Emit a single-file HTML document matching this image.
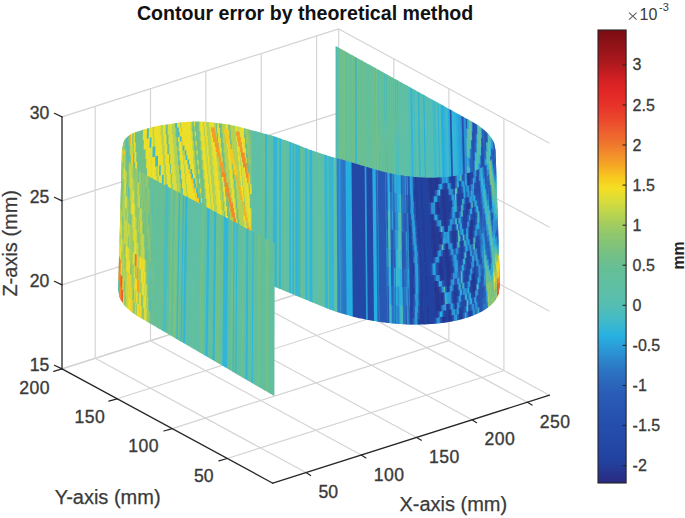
<!DOCTYPE html><html><head><meta charset="utf-8"><style>html,body{margin:0;padding:0;background:#fff;}svg{display:block}text{font-family:"Liberation Sans",sans-serif;}</style></head><body>
<svg width="685" height="518" viewBox="0 0 685 518">
<rect width="685" height="518" fill="#fff"/>
<g stroke="#d3d3d3" stroke-width="1.15">
<line x1="306.0" y1="472.6" x2="95.2" y2="358.3"/>
<line x1="361.3" y1="455.0" x2="150.5" y2="340.7"/>
<line x1="416.7" y1="437.4" x2="205.9" y2="323.1"/>
<line x1="472.0" y1="419.8" x2="261.2" y2="305.5"/>
<line x1="527.4" y1="402.2" x2="316.6" y2="287.9"/>
<line x1="227.2" y1="458.5" x2="503.9" y2="370.5"/>
<line x1="172.2" y1="428.6" x2="448.9" y2="340.6"/>
<line x1="117.1" y1="398.8" x2="393.8" y2="310.8"/>
<line x1="62.0" y1="368.9" x2="338.7" y2="280.9"/>
<line x1="95.2" y1="358.3" x2="95.2" y2="106.3"/>
<line x1="150.5" y1="340.7" x2="150.5" y2="88.7"/>
<line x1="205.9" y1="323.1" x2="205.9" y2="71.1"/>
<line x1="261.2" y1="305.5" x2="261.2" y2="53.5"/>
<line x1="316.6" y1="287.9" x2="316.6" y2="35.9"/>
<line x1="62.0" y1="368.9" x2="338.7" y2="280.9"/>
<line x1="62.0" y1="284.9" x2="338.7" y2="196.9"/>
<line x1="62.0" y1="200.9" x2="338.7" y2="112.9"/>
<line x1="62.0" y1="116.9" x2="338.7" y2="28.9"/>
<line x1="503.9" y1="370.5" x2="503.9" y2="118.5"/>
<line x1="448.9" y1="340.6" x2="448.9" y2="88.6"/>
<line x1="393.8" y1="310.8" x2="393.8" y2="58.8"/>
<line x1="338.7" y1="280.9" x2="338.7" y2="28.9"/>
<line x1="549.5" y1="395.2" x2="338.7" y2="280.9"/>
<line x1="549.5" y1="311.2" x2="338.7" y2="196.9"/>
<line x1="549.5" y1="227.2" x2="338.7" y2="112.9"/>
<line x1="549.5" y1="143.2" x2="338.7" y2="28.9"/>
</g>
<defs><filter id="bl" x="-2%" y="-2%" width="104%" height="104%"><feGaussianBlur stdDeviation="0.4"/></filter></defs>
<g filter="url(#bl)">
<g>
<path fill="#2859b4" d="M499.1 257.8L497.3 251.4L498.3 280.8L500.0 287.4zM497.8 218.4L496.1 212.2L497.0 241.9L498.7 248.3zM495.5 149.3L493.8 143.6L494.5 163.5L496.2 169.4zM495.1 190.1L493.4 188.1L493.7 198.2L495.4 200.1zM491.9 240.6L490.2 239.4L490.5 249.3L492.2 250.6zM491.3 221.2L489.6 220.0L489.9 230.0L491.6 231.2zM486.8 141.6L485.1 140.7L485.4 150.6L487.1 151.6zM482.1 146.9L480.4 146.1L480.7 156.0L482.4 156.8zM476.8 133.8L475.1 133.1L475.3 143.0L477.0 143.6zM476.0 245.7L474.3 245.0L474.6 254.6L476.3 255.2zM474.4 188.5L472.7 187.9L472.9 197.7L474.7 198.3z"/>
<path fill="#2c83cc" d="M498.7 248.0L497.0 241.6L497.3 251.7L499.1 258.1zM494.8 180.3L493.1 178.4L493.4 188.4L495.1 190.4zM496.3 256.3L494.6 254.6L494.9 264.6L496.6 266.4zM495.0 217.4L493.3 215.6L493.6 225.7L495.4 227.4zM491.1 155.9L489.4 154.6L489.7 164.6L491.5 165.9zM488.5 134.0L486.8 133.0L487.1 142.9L488.8 144.0zM486.0 243.9L484.3 243.0L484.6 252.9L486.3 253.8zM484.9 205.4L483.1 204.6L483.4 214.5L485.1 215.3zM478.3 219.1L476.6 218.4L476.8 228.3L478.6 229.0zM477.2 180.9L475.4 180.2L475.7 190.1L477.4 190.8zM475.9 170.7L474.2 170.1L474.4 179.9L476.1 180.5zM472.0 140.3L470.3 139.7L470.6 149.5L472.3 150.1zM467.7 128.5L466.0 127.9L466.3 137.7L468.0 138.3zM462.4 116.2L460.7 115.7L464.3 248.6L466.0 249.2z"/>
<path fill="#2c91d3" d="M497.5 208.5L495.7 202.4L496.1 212.5L497.8 218.7zM496.1 192.6L494.4 190.1L494.7 200.1L496.4 202.7zM491.8 147.5L490.1 146.1L490.4 156.2L492.1 157.6zM491.1 183.7L489.3 182.5L489.7 192.4L491.4 193.7zM491.2 249.0L489.4 247.9L489.7 257.9L491.5 259.0zM489.9 210.4L488.2 209.3L488.5 219.2L490.3 220.3zM487.8 236.2L486.1 235.2L486.4 245.1L488.1 246.1zM487.2 216.9L485.5 215.9L485.8 225.9L487.5 226.8zM485.4 159.0L483.7 158.2L484.0 168.1L485.7 169.0zM486.8 235.2L485.0 234.3L485.3 244.2L487.1 245.1zM486.2 215.9L484.4 215.0L484.7 225.0L486.5 225.9zM481.8 137.3L480.1 136.5L480.4 146.4L482.1 147.2zM480.9 174.2L479.2 173.4L479.5 183.3L481.2 184.1zM477.8 134.4L476.1 133.8L476.3 143.6L478.1 144.3zM470.8 167.7L469.1 167.1L469.4 176.9L471.1 177.5zM466.4 118.4L464.7 117.9L468.4 250.9L470.1 251.4zM465.4 117.9L463.7 117.3L467.4 250.3L469.1 250.9zM464.4 117.3L462.7 116.8L466.3 249.7L468.1 250.3zM461.4 115.7L459.7 115.1L463.2 248.0L465.0 248.6z"/>
<path fill="#4bbcbe" d="M497.1 198.6L495.4 192.6L495.7 202.7L497.5 208.8zM491.4 193.4L489.7 192.1L490.0 202.1L491.7 203.4zM490.4 192.1L488.6 191.0L488.9 201.0L490.7 202.1zM489.1 153.4L487.4 152.3L487.7 162.3L489.4 163.4zM487.7 170.6L486.0 169.6L486.6 189.2L488.3 190.2zM486.7 169.6L485.0 168.7L485.3 178.6L487.0 179.6zM479.9 173.4L478.2 172.7L478.5 182.6L480.2 183.3zM478.9 172.7L477.2 172.0L477.8 191.4L479.5 192.2zM478.3 153.6L476.6 152.9L476.9 162.8L478.6 163.4zM477.3 152.9L475.6 152.2L475.9 162.1L477.6 162.8zM476.2 217.8L474.5 217.1L474.8 226.9L476.5 227.6zM474.9 207.6L473.2 206.9L474.0 235.8L475.8 236.5zM471.0 139.7L469.3 139.1L469.6 148.9L471.3 149.5zM471.1 177.2L469.4 176.6L469.6 186.4L471.3 187.0zM469.5 120.1L467.8 119.5L468.0 129.4L469.7 129.9zM469.8 167.1L468.1 166.5L468.3 176.3L470.1 176.9zM468.2 147.5L466.5 146.9L466.8 156.7L468.5 157.3zM441.4 104.5L439.7 104.0L442.6 236.8L444.3 237.3zM430.3 98.4L428.6 97.9L431.3 230.6L433.0 231.2zM426.3 96.2L424.6 95.6L427.1 228.3L428.9 228.9zM415.3 90.1L413.6 89.5L415.8 222.2L417.5 222.7zM414.3 89.5L412.6 89.0L414.8 221.6L416.5 222.2z"/>
<path fill="#5bbfaa" d="M496.8 188.8L495.1 182.8L495.4 192.9L497.1 198.9zM493.2 251.6L491.5 250.3L491.8 260.2L493.5 261.6zM492.0 212.8L490.3 211.5L490.6 221.5L492.3 222.8zM490.1 154.6L488.4 153.4L488.7 163.4L490.4 164.6zM488.7 171.7L487.0 170.6L487.3 180.6L489.0 181.6zM484.3 251.7L482.5 250.9L482.8 260.5L484.6 261.3zM483.7 232.5L482.0 231.7L482.2 241.6L484.0 242.4zM483.1 213.3L481.4 212.5L481.7 222.4L483.4 223.2zM482.5 194.1L480.8 193.3L481.1 203.2L482.8 204.0zM482.9 241.3L481.2 240.5L481.5 250.4L483.2 251.2zM481.8 202.9L480.1 202.2L480.4 212.1L482.1 212.8zM480.1 145.4L478.4 144.7L478.6 154.6L480.4 155.3zM479.3 154.3L477.6 153.6L477.9 163.4L479.6 164.1zM478.8 135.1L477.1 134.4L477.4 144.3L479.1 145.0zM474.2 216.5L472.5 215.8L472.7 225.6L474.5 226.3zM471.9 243.1L470.2 242.5L470.5 252.0L472.2 252.6zM470.1 176.6L468.3 176.0L468.9 195.3L470.6 195.9zM425.3 95.6L423.6 95.1L426.1 227.8L427.8 228.3zM421.3 93.4L419.6 92.8L422.0 225.5L423.7 226.1zM420.3 92.8L418.6 92.3L420.9 225.0L422.7 225.5zM418.3 91.7L416.6 91.2L418.9 223.8L420.6 224.4zM417.3 91.2L415.6 90.6L417.9 223.3L419.6 223.8zM416.3 90.6L414.6 90.1L416.8 222.7L418.6 223.3zM413.3 89.0L411.6 88.4L413.7 221.0L415.5 221.6zM409.3 86.7L407.6 86.2L409.6 218.8L411.3 219.3zM408.3 86.2L406.6 85.6L408.6 218.2L410.3 218.8zM406.3 85.1L404.6 84.5L406.5 217.1L408.2 217.7zM405.3 84.5L403.6 83.9L405.5 216.5L407.2 217.1zM402.3 82.8L400.5 82.3L402.4 214.8L404.1 215.4zM401.2 82.3L399.5 81.7L401.4 214.3L403.1 214.8z"/>
<path fill="#41b9c9" d="M496.5 178.9L494.8 173.0L495.1 183.1L496.8 189.1zM495.8 182.8L494.1 180.3L494.4 190.4L496.1 192.9zM495.7 236.8L494.0 235.1L494.3 245.1L496.0 246.9zM495.0 244.8L493.2 243.3L493.5 253.3L495.3 254.9zM494.3 225.4L492.6 223.8L492.9 233.9L494.7 235.4zM491.5 137.8L489.8 136.4L490.1 146.4L491.8 147.8zM494.2 253.0L492.5 251.6L492.8 261.6L494.6 263.0zM493.0 214.1L491.3 212.8L491.6 222.8L493.3 224.1zM490.5 136.4L488.8 135.2L489.1 145.2L490.8 146.4zM492.5 259.9L490.8 258.7L491.1 268.4L492.8 269.6zM490.7 201.8L488.9 200.7L489.2 210.7L491.0 211.8zM487.8 142.6L486.1 141.6L486.4 151.6L488.1 152.6zM487.4 161.0L485.7 160.0L486.0 169.9L487.7 170.9zM485.4 224.7L483.7 223.8L484.0 233.7L485.7 234.6zM484.7 233.4L483.0 232.5L483.3 242.4L485.0 243.3zM484.1 214.2L482.4 213.3L482.7 223.2L484.4 224.1zM481.5 127.7L479.8 126.9L480.1 136.8L481.8 137.6zM481.1 146.1L479.4 145.4L479.7 155.3L481.4 156.0zM481.9 240.5L480.2 239.7L480.5 249.6L482.2 250.4zM480.8 202.2L479.1 201.4L479.3 211.3L481.1 212.1zM478.1 144.0L476.3 143.3L476.6 153.2L478.3 153.9zM476.9 171.3L475.2 170.7L475.4 180.5L477.2 181.2zM475.0 245.0L473.3 244.4L473.5 253.9L475.3 254.6zM473.4 187.9L471.7 187.3L471.9 197.1L473.6 197.7zM468.8 166.5L467.1 165.9L467.6 185.2L469.3 185.8zM468.0 138.0L466.3 137.4L466.5 147.2L468.2 147.8zM452.4 110.6L450.7 110.1L453.9 243.0L455.7 243.5zM448.4 108.4L446.7 107.9L449.8 240.7L451.6 241.3zM447.4 107.9L445.7 107.3L448.8 240.2L450.5 240.7zM446.4 107.3L444.7 106.8L447.8 239.6L449.5 240.2zM436.4 101.7L434.7 101.2L437.4 234.0L439.2 234.5zM435.4 101.2L433.6 100.6L436.4 233.4L438.1 234.0zM434.3 100.6L432.6 100.1L435.4 232.8L437.1 233.4zM433.3 100.1L431.6 99.5L434.4 232.3L436.1 232.8z"/>
<path fill="#2b6dbf" d="M496.2 169.1L494.5 163.2L494.8 173.3L496.5 179.2zM498.0 251.4L496.3 248.7L496.6 258.7L498.4 261.5zM497.4 231.8L495.7 229.1L496.0 239.2L497.7 241.9zM492.4 194.7L490.7 193.4L491.0 203.4L492.7 204.7zM487.5 133.0L485.8 132.0L486.1 141.9L487.8 142.9zM488.5 227.5L486.8 226.5L487.1 236.5L488.8 237.5zM481.4 155.7L479.7 155.0L479.9 164.9L481.7 165.6zM481.6 230.9L479.9 230.1L480.2 240.0L481.9 240.8zM481.1 211.8L479.3 211.0L479.6 220.9L481.3 221.6zM480.1 248.5L478.4 247.8L478.7 257.3L480.4 258.1zM478.5 191.1L476.7 190.5L477.0 200.3L478.7 201.0zM475.3 151.6L473.6 151.0L473.9 160.8L475.6 161.4zM472.7 131.3L471.0 130.7L471.3 140.6L473.0 141.1z"/>
<path fill="#2755b2" d="M498.4 261.2L496.6 258.4L497.3 278.0L499.0 280.8zM496.4 202.4L494.7 199.8L495.7 229.4L497.4 232.1zM494.5 143.6L492.8 141.2L493.8 170.8L495.5 173.3zM497.6 268.2L495.9 266.1L496.2 275.8L498.0 278.0zM495.4 199.8L493.7 197.9L494.3 217.7L496.1 219.7zM493.8 151.0L492.1 149.1L493.1 178.7L494.8 180.6zM492.1 157.3L490.4 155.9L490.8 165.9L492.5 167.3zM487.1 244.8L485.3 243.9L485.6 253.8L487.4 254.8zM485.9 206.3L484.2 205.4L484.4 215.3L486.2 216.2zM477.5 124.8L475.8 124.2L476.1 134.1L477.8 134.7zM478.7 200.7L477.0 200.0L478.4 248.1L480.1 248.8zM476.5 124.2L474.8 123.6L475.1 133.4L476.8 134.1zM478.6 228.7L476.8 228.0L477.7 256.6L479.4 257.3zM477.4 190.5L475.7 189.8L476.6 218.7L478.3 219.4zM475.5 123.6L473.8 123.0L474.3 142.3L476.0 143.0zM474.9 170.1L473.1 169.4L473.4 179.3L475.1 179.9z"/>
<path fill="#31b5d8" d="M497.7 241.6L496.0 238.9L496.3 249.0L498.0 251.7zM496.0 246.6L494.3 244.8L494.6 254.9L496.3 256.6zM495.4 227.1L493.6 225.4L494.0 235.4L495.7 237.1zM495.3 254.6L493.5 253.0L493.9 263.0L495.6 264.6zM494.0 215.6L492.3 214.1L492.6 224.1L494.3 225.7zM493.9 243.3L492.2 241.9L492.5 251.9L494.2 253.3zM493.3 223.8L491.6 222.5L491.9 232.5L493.6 233.9zM490.8 146.1L489.1 144.9L489.4 154.9L491.1 156.2zM492.9 241.9L491.2 240.6L491.5 250.6L493.2 251.9zM492.3 222.5L490.6 221.2L490.9 231.2L492.6 232.5zM489.4 163.1L487.7 162.0L488.0 172.0L489.7 173.1zM488.8 143.7L487.1 142.6L487.4 152.6L489.1 153.7zM487.0 179.3L485.3 178.3L485.6 188.3L487.3 189.2zM486.5 225.6L484.7 224.7L485.0 234.6L486.8 235.5zM485.7 234.3L484.0 233.4L484.3 243.3L486.0 244.2zM485.1 215.0L483.4 214.2L483.7 224.1L485.4 225.0zM485.0 243.0L483.3 242.1L483.6 252.0L485.3 252.9zM483.8 204.6L482.1 203.7L482.4 213.6L484.1 214.5zM482.7 231.7L480.9 230.9L481.2 240.8L482.9 241.6zM482.1 212.5L480.4 211.8L480.6 221.6L482.4 222.4zM480.4 155.0L478.6 154.3L478.9 164.1L480.6 164.9zM478.6 163.1L476.9 162.5L477.2 172.3L478.9 173.0zM478.2 181.6L476.5 180.9L476.7 190.8L478.5 191.4zM476.3 152.2L474.6 151.6L474.9 161.4L476.6 162.1zM475.6 161.1L473.9 160.5L474.2 170.4L475.9 171.0zM472.5 121.8L470.8 121.2L471.0 131.0L472.7 131.6zM473.2 215.8L471.4 215.2L471.7 225.0L473.4 225.6zM472.1 177.8L470.4 177.2L470.6 187.0L472.4 187.6zM471.6 233.6L469.9 233.0L470.2 242.8L471.9 243.4zM470.6 195.6L468.9 195.0L469.1 204.8L470.9 205.4zM456.4 112.9L454.7 112.3L458.1 245.2L459.8 245.8zM455.4 112.3L453.7 111.8L457.0 244.7L458.8 245.2zM454.4 111.8L452.7 111.2L456.0 244.1L457.7 244.7zM453.4 111.2L451.7 110.6L455.0 243.5L456.7 244.1zM445.4 106.8L443.7 106.2L446.7 239.0L448.5 239.6zM444.4 106.2L442.7 105.6L445.7 238.5L447.4 239.0zM439.4 103.4L437.7 102.9L440.5 235.7L442.3 236.2zM438.4 102.9L436.7 102.3L439.5 235.1L441.2 235.7zM419.3 92.3L417.6 91.7L419.9 224.4L421.6 225.0zM412.3 88.4L410.6 87.8L412.7 220.5L414.4 221.0zM411.3 87.8L409.6 87.3L411.7 219.9L413.4 220.5zM398.2 80.6L396.5 80.1L398.3 212.6L400.0 213.2zM396.2 79.5L394.5 78.9L396.2 211.5L397.9 212.0zM387.2 74.5L385.5 73.9L386.9 206.4L388.6 207.0zM385.2 73.4L383.5 72.8L384.9 205.3L386.6 205.8zM379.2 70.0L377.5 69.5L378.7 201.9L380.4 202.5zM376.2 68.4L374.5 67.8L375.6 200.2L377.3 200.8zM357.1 57.8L355.4 57.2L356.0 189.5L357.7 190.1zM356.1 57.2L354.4 56.7L354.9 189.0L356.7 189.5zM337.1 46.7L335.6 46.2L335.6 178.4L337.1 178.9z"/>
<path fill="#2c76c4" d="M495.5 173.0L493.8 170.5L494.1 180.6L495.8 183.1zM493.5 141.2L491.8 139.4L492.1 149.4L493.8 151.3zM495.6 264.3L493.9 262.7L494.2 272.4L495.9 274.0zM493.7 205.9L492.0 204.4L492.3 214.4L494.0 215.9zM493.6 233.6L491.9 232.2L492.2 242.2L493.9 243.6zM489.7 172.8L488.0 171.7L488.3 181.6L490.0 182.8zM487.3 188.9L485.6 188.0L485.9 197.9L487.6 198.9zM485.3 252.6L483.6 251.7L483.9 261.3L485.6 262.2zM483.5 194.9L481.8 194.1L482.1 204.0L483.8 204.9zM474.6 160.5L472.9 159.9L473.1 169.7L474.9 170.4zM473.5 122.4L471.8 121.8L472.0 131.6L473.7 132.2zM471.3 149.2L469.6 148.6L469.8 158.5L471.5 159.0z"/>
<path fill="#2a5cb7" d="M497.3 258.4L495.6 256.3L495.9 266.4L497.6 268.5zM496.1 219.4L494.3 217.4L494.7 227.4L496.4 229.4zM492.8 149.1L491.1 147.5L491.4 157.6L493.2 159.2zM492.6 232.2L490.9 230.9L491.2 240.9L492.9 242.2zM490.8 174.0L489.0 172.8L489.3 182.8L491.1 184.0zM486.1 150.3L484.4 149.4L484.7 159.3L486.4 160.3zM482.8 138.1L481.1 137.3L481.4 147.2L483.1 148.0zM480.6 164.6L478.9 163.8L479.2 173.7L480.9 174.5zM481.3 221.3L479.6 220.6L479.9 230.4L481.6 231.2zM480.9 239.7L479.2 239.0L479.4 248.8L481.2 249.6zM479.8 201.4L478.0 200.7L478.3 210.6L480.0 211.3zM476.8 236.8L475.1 236.2L475.3 246.0L477.1 246.7zM475.7 198.7L474.0 198.0L474.2 207.9L476.0 208.5zM472.1 215.2L470.4 214.6L470.7 224.4L472.4 225.0zM470.5 158.2L468.8 157.6L469.1 167.4L470.8 168.0zM471.1 214.6L469.4 214.0L469.7 223.8L471.4 224.4zM470.6 233.0L468.9 232.4L469.2 242.2L470.9 242.8zM469.6 195.0L467.8 194.4L468.1 204.2L469.8 204.8z"/>
<path fill="#27aee0" d="M497.0 248.7L495.3 246.6L495.6 256.6L497.3 258.7zM496.4 229.1L494.7 227.1L495.0 237.1L496.7 239.2zM494.7 235.1L492.9 233.6L493.2 243.6L495.0 245.1zM494.6 262.7L492.8 261.3L493.1 271.0L494.9 272.4zM492.7 204.4L491.0 203.1L491.3 213.1L493.0 214.4zM490.4 164.3L488.7 163.1L489.0 173.1L490.8 174.3zM490.0 182.5L488.3 181.3L488.6 191.3L490.4 192.4zM488.3 189.9L486.6 188.9L486.9 198.9L488.6 199.9zM486.0 178.3L484.3 177.4L484.6 187.4L486.3 188.3zM484.4 223.8L482.7 222.9L483.0 232.8L484.7 233.7zM483.4 222.9L481.7 222.1L482.0 232.0L483.7 232.8zM482.2 184.5L480.5 183.8L480.8 193.6L482.5 194.4zM479.6 163.8L477.9 163.1L478.2 173.0L479.9 173.7zM478.5 125.5L476.8 124.8L477.1 134.7L478.8 135.4zM481.2 249.3L479.4 248.5L479.7 258.1L481.5 258.9zM479.5 191.9L477.8 191.1L478.0 201.0L479.8 201.7zM477.3 218.4L475.5 217.8L475.8 227.6L477.5 228.3zM476.5 227.3L474.8 226.6L475.1 236.5L476.8 237.1zM476.0 208.2L474.2 207.6L474.5 217.4L476.2 218.1zM472.4 224.7L470.7 224.1L470.9 233.9L472.7 234.5zM471.9 205.7L470.2 205.1L470.4 214.9L472.1 215.5zM470.3 148.6L468.6 148.1L468.8 157.9L470.5 158.5zM468.5 157.0L466.8 156.4L467.1 166.2L468.8 166.8zM458.4 114.0L456.7 113.4L460.1 246.3L461.9 246.9zM457.4 113.4L455.7 112.9L459.1 245.8L460.8 246.3zM450.4 109.5L448.7 109.0L451.9 241.8L453.6 242.4zM449.4 109.0L447.7 108.4L450.9 241.3L452.6 241.8zM443.4 105.6L441.7 105.1L444.7 237.9L446.4 238.5zM442.4 105.1L440.7 104.5L443.6 237.3L445.4 237.9zM424.3 95.1L422.6 94.5L425.1 227.2L426.8 227.8z"/>
<path fill="#54beb3" d="M496.7 238.9L495.0 236.8L495.3 246.9L497.0 249.0zM489.5 135.2L487.8 134.0L488.1 144.0L489.8 145.2zM491.5 258.7L489.7 257.6L490.0 267.2L491.8 268.4zM489.6 200.7L487.9 199.6L488.2 209.6L489.9 210.7zM487.5 226.5L485.8 225.6L486.1 235.5L487.8 236.5zM485.7 168.7L484.0 167.8L484.3 177.7L486.0 178.6zM481.2 183.8L479.5 183.0L479.8 192.9L481.5 193.6zM479.5 126.2L477.8 125.5L478.1 135.4L479.8 136.1zM477.6 162.5L475.9 161.8L476.5 181.2L478.2 181.9zM476.6 161.8L474.9 161.1L475.2 171.0L476.9 171.6zM471.7 130.7L470.0 130.2L470.3 140.0L472.0 140.6zM472.7 234.2L470.9 233.6L471.2 243.4L472.9 244.1zM471.6 196.2L469.9 195.6L470.2 205.4L471.9 206.0zM470.0 139.1L468.3 138.6L468.6 148.4L470.3 148.9zM469.3 148.1L467.5 147.5L467.8 157.3L469.5 157.9zM468.7 129.1L467.0 128.5L467.3 138.3L469.0 138.9zM440.4 104.0L438.7 103.4L441.6 236.2L443.3 236.8zM437.4 102.3L435.7 101.7L438.5 234.5L440.2 235.1zM432.3 99.5L430.6 99.0L433.3 231.7L435.1 232.3zM431.3 99.0L429.6 98.4L432.3 231.2L434.0 231.7zM429.3 97.9L427.6 97.3L430.2 230.0L432.0 230.6zM428.3 97.3L426.6 96.7L429.2 229.5L430.9 230.0zM427.3 96.7L425.6 96.2L428.2 228.9L429.9 229.5zM423.3 94.5L421.6 94.0L424.0 226.7L425.8 227.2zM422.3 94.0L420.6 93.4L423.0 226.1L424.7 226.7zM410.3 87.3L408.6 86.7L410.6 219.3L412.4 219.9z"/>
<path fill="#2651af" d="M496.6 266.1L494.9 264.3L495.2 274.0L496.9 275.8zM494.7 207.6L493.0 205.9L493.3 215.9L495.0 217.7zM491.5 165.6L489.7 164.3L490.1 174.3L491.8 175.6zM491.6 230.9L489.9 229.7L490.2 239.7L491.9 240.9zM488.9 209.3L487.2 208.2L488.7 256.8L490.4 257.9zM486.5 132.0L484.8 131.0L485.1 141.0L486.8 141.9zM488.8 237.2L487.1 236.2L488.0 265.1L489.7 266.1zM487.6 198.6L485.9 197.6L486.8 226.8L488.5 227.8zM485.5 131.0L483.8 130.1L484.4 149.7L486.1 150.6zM486.3 253.5L484.6 252.6L484.9 262.2L486.6 263.1zM484.6 195.8L482.8 194.9L483.1 204.9L484.9 205.7zM480.0 211.0L478.3 210.3L479.2 239.3L480.9 240.0zM477.8 237.5L476.1 236.8L476.6 255.9L478.4 256.6zM476.1 180.2L474.4 179.6L475.3 208.5L477.0 209.2zM474.5 123.0L472.8 122.4L473.6 151.3L475.3 151.9zM477.1 246.4L475.3 245.7L475.6 255.2L477.3 255.9zM475.1 179.6L473.4 179.0L474.0 198.3L475.7 199.0zM473.7 131.9L472.0 131.3L472.9 160.2L474.6 160.8zM473.0 140.8L471.3 140.3L472.7 188.2L474.4 188.8zM469.8 204.5L468.1 203.9L468.9 232.7L470.6 233.3zM467.5 119.0L465.7 118.4L466.0 128.2L467.7 128.8z"/>
<path fill="#254eac" d="M493.2 158.9L491.4 157.3L493.0 206.2L494.7 207.9zM492.5 167.0L490.8 165.6L492.0 204.7L493.7 206.2zM491.8 175.3L490.1 174.0L490.7 193.7L492.4 195.0zM487.4 254.5L485.6 253.5L485.9 263.1L487.7 264.1zM485.0 177.4L483.3 176.6L484.2 205.7L485.9 206.6zM483.8 138.9L482.1 138.1L483.0 167.2L484.7 168.1zM483.1 147.7L481.4 146.9L482.8 195.2L484.6 196.1zM482.4 156.5L480.7 155.7L481.8 194.4L483.5 195.2zM463.4 116.8L461.7 116.2L465.3 249.2L467.0 249.7zM451.4 110.1L449.7 109.5L452.9 242.4L454.6 243.0z"/>
<path fill="#2a9fda" d="M492.5 139.4L490.8 137.8L491.1 147.8L492.8 149.4zM492.2 250.3L490.5 249.0L490.8 259.0L492.5 260.2zM491.0 211.5L489.2 210.4L489.6 220.3L491.3 221.5zM487.1 151.3L485.4 150.3L485.7 160.3L487.4 161.3zM486.4 160.0L484.7 159.0L485.0 169.0L486.7 169.9zM482.5 128.5L480.8 127.7L481.1 137.6L482.8 138.4zM477.0 143.3L475.3 142.7L475.6 152.5L477.3 153.2zM475.8 236.2L474.0 235.5L474.3 245.3L476.0 246.0zM474.7 198.0L472.9 197.4L473.2 207.2L474.9 207.9zM469.5 157.6L467.8 157.0L468.1 166.8L469.8 167.4zM468.5 119.5L466.8 119.0L467.0 128.8L468.7 129.4zM470.9 242.5L469.2 241.9L469.4 251.4L471.2 252.0zM469.3 185.5L467.6 184.9L467.8 194.7L469.6 195.3zM460.4 115.1L458.7 114.5L462.2 247.5L463.9 248.0zM459.4 114.5L457.7 114.0L461.2 246.9L462.9 247.5z"/>
<path fill="#5ebfa5" d="M493.5 261.3L491.8 259.9L492.1 269.6L493.8 271.0zM491.7 203.1L490.0 201.8L490.3 211.8L492.0 213.1zM489.8 144.9L488.1 143.7L488.4 153.7L490.1 154.9zM488.1 152.3L486.4 151.3L486.7 161.3L488.4 162.3zM480.5 126.9L478.8 126.2L479.4 145.7L481.1 146.4zM483.2 250.9L481.5 250.1L481.8 259.7L483.5 260.5zM481.5 193.3L479.8 192.6L480.1 202.5L481.8 203.2zM479.8 135.8L478.1 135.1L478.4 145.0L480.1 145.7zM482.2 250.1L480.5 249.3L480.8 258.9L482.5 259.7zM480.2 183.0L478.5 182.3L479.1 201.7L480.8 202.5zM479.1 144.7L477.4 144.0L477.6 153.9L479.3 154.6zM474.7 235.5L473.0 234.9L473.3 244.7L475.0 245.3zM473.6 197.4L471.9 196.8L472.2 206.6L473.9 207.2zM474.0 244.4L472.2 243.8L472.5 253.3L474.2 253.9zM473.4 225.3L471.7 224.7L472.0 234.5L473.7 235.2zM472.9 206.3L471.2 205.7L471.4 215.5L473.2 216.1zM472.4 187.3L470.6 186.7L470.9 196.5L472.6 197.1zM470.7 130.2L469.0 129.6L469.3 139.4L471.0 140.0zM472.9 243.8L471.2 243.1L471.5 252.6L473.2 253.3zM471.3 186.7L469.6 186.1L469.9 195.9L471.6 196.5zM469.7 129.6L468.0 129.1L468.3 138.9L470.0 139.4zM469.0 138.6L467.3 138.0L467.5 147.8L469.3 148.4zM407.3 85.6L405.6 85.1L407.5 217.7L409.3 218.2zM400.2 81.7L398.5 81.2L400.3 213.7L402.1 214.3zM399.2 81.2L397.5 80.6L399.3 213.2L401.0 213.7z"/>
<path fill="#2a64bb" d="M490.3 220.0L488.5 218.9L489.4 248.2L491.2 249.3zM490.4 257.6L488.7 256.5L489.0 266.1L490.7 267.2zM488.6 199.6L486.9 198.6L487.2 208.5L488.9 209.6zM488.1 245.8L486.4 244.8L487.0 264.1L488.7 265.1zM486.3 188.0L484.6 187.1L485.5 216.2L487.2 217.2zM484.5 130.1L482.8 129.3L483.7 158.5L485.4 159.3zM484.7 167.8L483.0 166.9L483.3 176.9L485.0 177.7zM483.5 129.3L481.8 128.5L482.1 138.4L483.8 139.2zM481.7 165.3L479.9 164.6L480.5 184.1L482.2 184.8zM482.4 222.1L480.6 221.3L480.9 231.2L482.7 232.0zM476.0 142.7L474.3 142.0L474.6 151.9L476.3 152.5zM477.5 228.0L475.8 227.3L476.1 237.1L477.8 237.8zM477.0 208.9L475.3 208.2L475.5 218.1L477.3 218.7zM472.3 149.8L470.6 149.2L471.7 187.6L473.4 188.2zM471.5 158.7L469.8 158.2L470.4 177.5L472.1 178.1zM471.4 224.1L469.7 223.5L469.9 233.3L471.6 233.9zM470.9 205.1L469.1 204.5L469.4 214.3L471.1 214.9z"/>
<path fill="#60bfa0" d="M489.0 181.3L487.3 180.3L487.9 199.9L489.6 201.0zM488.4 162.0L486.7 161.0L487.0 170.9L488.7 172.0zM484.0 242.1L482.2 241.3L482.5 251.2L484.3 252.0zM482.8 203.7L481.1 202.9L481.4 212.8L483.1 213.6zM474.5 226.0L472.7 225.3L473.0 235.2L474.7 235.8zM473.9 206.9L472.2 206.3L472.5 216.1L474.2 216.8zM471.5 121.2L469.8 120.7L470.0 130.5L471.7 131.0zM473.7 234.9L472.0 234.2L472.2 244.1L474.0 244.7zM472.6 196.8L470.9 196.2L471.2 206.0L472.9 206.6zM470.5 120.7L468.8 120.1L469.0 129.9L470.7 130.5zM404.3 83.9L402.6 83.4L404.4 216.0L406.2 216.5zM403.3 83.4L401.6 82.8L403.4 215.4L405.1 216.0zM395.2 78.9L393.5 78.4L395.2 210.9L396.9 211.5zM394.2 78.4L392.5 77.8L394.1 210.3L395.9 210.9zM392.2 77.3L390.5 76.7L392.1 209.2L393.8 209.8zM382.2 71.7L380.5 71.2L381.8 203.6L383.5 204.2zM381.2 71.2L379.5 70.6L380.7 203.0L382.5 203.6zM374.2 67.3L372.5 66.7L373.5 199.1L375.2 199.7zM373.2 66.7L371.5 66.1L372.5 198.5L374.2 199.1zM369.2 64.5L367.4 63.9L368.4 196.3L370.1 196.9zM367.1 63.4L365.4 62.8L366.3 195.2L368.0 195.7zM361.1 60.0L359.4 59.5L360.1 191.8L361.8 192.4zM352.1 55.0L350.4 54.5L350.8 186.7L352.6 187.3zM351.1 54.5L349.4 53.9L349.8 186.2L351.5 186.7zM347.1 52.2L345.4 51.7L345.7 183.9L347.4 184.5zM340.1 48.3L338.4 47.8L338.4 180.0L340.2 180.5zM339.1 47.8L337.4 47.2L337.4 179.4L339.1 180.0z"/>
<path fill="#63bf9a" d="M397.2 80.1L395.5 79.5L397.2 212.0L399.0 212.6zM393.2 77.8L391.5 77.3L393.1 209.8L394.8 210.3zM391.2 76.7L389.5 76.2L391.0 208.7L392.8 209.2zM390.2 76.2L388.5 75.6L390.0 208.1L391.7 208.7zM389.2 75.6L387.5 75.0L389.0 207.5L390.7 208.1zM388.2 75.0L386.5 74.5L387.9 207.0L389.7 207.5zM384.2 72.8L382.5 72.3L383.8 204.7L385.6 205.3zM383.2 72.3L381.5 71.7L382.8 204.2L384.5 204.7zM371.2 65.6L369.5 65.0L370.4 197.4L372.1 198.0zM370.2 65.0L368.5 64.5L369.4 196.9L371.1 197.4zM368.1 63.9L366.4 63.4L367.3 195.7L369.1 196.3zM362.1 60.6L360.4 60.0L361.1 192.4L362.9 192.9zM350.1 53.9L348.4 53.4L348.8 185.6L350.5 186.2zM348.1 52.8L346.4 52.2L346.7 184.5L348.4 185.0zM338.1 47.2L336.4 46.7L336.4 178.9L338.1 179.4z"/>
<path fill="#69bf92" d="M386.2 73.9L384.5 73.4L385.9 205.8L387.6 206.4zM380.2 70.6L378.5 70.0L379.7 202.5L381.4 203.0zM372.2 66.1L370.5 65.6L371.4 198.0L373.2 198.5zM366.1 62.8L364.4 62.3L365.3 194.6L367.0 195.2zM365.1 62.3L363.4 61.7L364.2 194.0L366.0 194.6zM364.1 61.7L362.4 61.1L363.2 193.5L364.9 194.0zM363.1 61.1L361.4 60.6L362.2 192.9L363.9 193.5zM359.1 58.9L357.4 58.4L358.0 190.7L359.8 191.2zM358.1 58.4L356.4 57.8L357.0 190.1L358.7 190.7zM355.1 56.7L353.4 56.1L353.9 188.4L355.6 189.0zM354.1 56.1L352.4 55.6L352.9 187.9L354.6 188.4zM346.1 51.7L344.4 51.1L344.6 183.4L346.4 183.9zM343.1 50.0L341.4 49.5L341.5 181.7L343.3 182.2z"/>
<path fill="#71c089" d="M378.2 69.5L376.5 68.9L377.6 201.3L379.4 201.9zM377.2 68.9L375.5 68.4L376.6 200.8L378.3 201.3zM375.2 67.8L373.5 67.3L374.5 199.7L376.3 200.2zM360.1 59.5L358.4 58.9L359.1 191.2L360.8 191.8zM353.1 55.6L351.4 55.0L351.9 187.3L353.6 187.9zM349.1 53.4L347.4 52.8L347.7 185.0L349.5 185.6zM345.1 51.1L343.4 50.6L343.6 182.8L345.3 183.4zM344.1 50.6L342.4 50.0L342.6 182.2L344.3 182.8zM342.1 49.5L340.4 48.9L340.5 181.1L342.2 181.7zM341.1 48.9L339.4 48.3L339.5 180.5L341.2 181.1z"/>
</g>
<g>
<path fill="#5ebfa5" d="M118.4 280.9L120.1 275.4L119.8 285.7L118.1 291.2zM122.6 191.5L124.4 190.0L124.1 200.5L122.4 202.1zM125.0 139.0L126.7 137.9L126.5 148.3L124.8 149.5zM127.8 146.2L129.5 145.5L129.2 155.9L127.5 156.7zM127.7 186.1L129.4 185.3L129.1 195.8L127.4 196.5zM130.5 194.2L132.2 193.6L131.9 204.0L130.2 204.6zM175.1 127.9L176.8 127.7L176.6 137.4L174.9 137.5zM176.1 123.0L177.8 122.9L177.4 146.6L175.7 146.7zM177.0 132.3L178.7 132.1L178.2 155.9L176.5 156.0zM177.8 141.5L179.5 141.4L179.1 165.2L177.3 165.3zM178.6 150.8L180.3 150.7L179.9 174.5L178.2 174.5zM179.5 160.1L181.2 160.0L180.7 183.8L179.0 183.8zM180.3 169.4L182.0 169.3L181.6 193.1L179.9 193.2zM181.1 178.7L182.8 178.6L182.4 202.5L180.7 202.5zM182.0 188.0L183.7 188.0L183.3 211.9L181.5 211.9zM182.8 197.4L184.5 197.4L184.1 221.3L182.4 221.3zM183.7 206.8L185.4 206.8L185.0 230.7L183.2 230.7zM184.5 216.2L186.2 216.2L185.8 240.1L184.1 240.1zM185.4 225.7L187.1 225.7L186.7 249.6L184.9 249.6zM186.2 235.1L187.9 235.2L187.6 254.4L185.9 254.3zM186.8 258.8L188.6 258.8L188.5 263.5L186.8 263.5zM187.1 244.6L188.8 244.6L188.6 254.4L186.9 254.4zM187.9 254.1L189.7 254.1L189.6 259.2L187.9 259.1zM237.3 126.6L239.0 126.8L238.9 132.0L237.2 131.7zM239.1 146.4L240.8 146.7L240.7 156.7L239.0 156.4zM240.0 156.4L241.7 156.7L241.7 166.7L239.9 166.4zM241.0 166.4L242.7 166.6L242.6 176.6L240.9 176.4zM241.9 176.3L243.6 176.6L243.5 186.6L241.8 186.3zM242.8 186.3L244.5 186.6L244.4 196.7L242.7 196.3zM243.7 196.4L245.5 196.7L245.4 206.7L243.7 206.4zM245.6 221.3L247.3 221.6L247.3 226.8L245.5 226.5zM246.6 226.5L248.3 226.9L248.2 236.9L246.5 236.6zM247.5 236.6L249.2 237.0L249.2 247.0L247.4 246.7zM248.5 246.7L250.2 247.1L250.1 257.2L248.4 256.8zM249.4 261.8L251.1 262.2L251.1 267.4L249.3 267.0zM251.3 130.2L253.0 130.5L252.0 277.3L250.3 276.9zM252.3 130.5L254.0 130.7L253.0 277.7L251.3 277.3zM253.3 130.7L255.0 131.0L254.1 278.1L252.3 277.7zM254.3 131.0L256.0 131.3L255.1 278.5L253.4 278.1zM256.3 131.5L258.0 131.8L257.1 279.4L255.4 279.0zM257.3 131.8L259.0 132.1L258.2 279.8L256.4 279.4zM258.3 132.1L260.0 132.3L259.2 280.2L257.5 279.8zM259.3 132.3L261.0 132.6L260.2 280.7L258.5 280.2zM260.3 132.6L262.0 132.9L261.2 281.1L259.5 280.7zM261.3 132.9L263.0 133.2L262.3 281.5L260.5 281.1zM264.3 133.7L266.0 134.0L265.3 282.8L263.6 282.3zM266.3 134.2L268.0 134.5L267.4 283.6L265.7 283.2zM267.3 134.5L269.0 134.8L268.4 284.0L266.7 283.6zM268.3 134.8L270.0 135.1L269.4 284.5L267.7 284.0zM269.3 135.1L271.1 135.3L270.5 284.9L268.7 284.5zM270.4 135.3L272.1 135.6L271.5 285.3L269.8 284.9zM276.4 137.3L278.1 137.6L277.6 287.8L275.9 287.4zM277.4 137.6L279.1 138.0L278.7 288.3L276.9 287.8zM280.4 138.7L282.1 139.0L281.7 289.5L280.0 289.1zM281.4 139.0L283.1 139.4L282.8 290.0L281.0 289.5zM282.4 139.4L284.1 139.7L283.8 290.4L282.1 290.0zM283.4 139.7L285.1 140.1L284.8 290.8L283.1 290.4zM286.4 140.8L288.1 141.1L287.9 292.1L286.2 291.7zM287.4 141.1L289.1 141.4L288.9 292.5L287.2 292.1zM288.4 141.4L290.1 141.8L289.9 292.9L288.2 292.5zM290.4 142.2L292.1 142.6L292.0 293.8L290.3 293.3zM291.4 142.6L293.1 143.0L293.0 294.2L291.3 293.8zM299.4 145.8L301.1 146.2L301.2 297.6L299.5 297.2zM300.4 146.2L302.1 146.6L302.2 298.0L300.5 297.6zM304.4 147.8L306.1 148.2L306.3 299.7L304.6 299.3zM306.4 148.6L308.1 149.0L308.4 300.5L306.7 300.1zM312.4 150.8L314.1 151.1L314.5 303.1L312.8 302.7zM313.4 151.1L315.1 151.5L315.6 303.5L313.8 303.1zM316.5 152.1L318.2 152.5L318.6 304.8L316.9 304.3zM317.5 152.5L319.2 152.8L319.7 305.2L317.9 304.8zM326.5 155.4L328.2 155.8L328.9 308.9L327.2 308.5zM327.5 155.8L329.2 156.1L329.9 309.3L328.2 308.9zM334.5 157.8L336.2 158.0L337.1 311.9L335.4 311.5zM335.5 158.0L337.2 158.3L338.1 312.2L336.4 311.9zM338.5 158.8L340.2 159.1L341.2 313.2L339.5 312.9zM484.6 261.5L486.3 260.9L486.5 267.0L484.8 267.7zM485.6 260.9L487.3 260.1L487.5 266.3L485.8 267.0zM488.0 271.1L489.7 270.3L489.9 276.4L488.2 277.3zM492.6 284.9L494.4 283.7L494.5 289.8L492.8 291.0zM492.7 254.5L494.5 253.2L494.6 259.3L492.9 260.6zM490.7 190.3L492.4 189.1L492.6 195.3L490.9 196.5zM491.2 171.7L492.9 170.3L493.1 176.4L491.4 177.8zM494.6 245.9L496.3 244.1L496.5 250.2L494.8 252.0zM492.9 193.6L494.6 191.8L494.8 198.0L493.1 199.7zM494.3 203.5L496.0 201.1L496.2 207.2L494.5 209.6zM493.8 186.0L495.5 183.8L495.7 189.9L493.9 192.1zM497.0 253.2L498.7 247.3L498.9 253.3L497.2 259.3z"/>
<path fill="#5bbfaa" d="M118.7 270.7L120.4 265.2L120.1 275.7L118.4 281.2zM121.2 178.5L122.9 173.1L122.6 183.7L120.9 189.0zM119.4 275.4L121.1 273.3L120.8 283.5L119.1 285.7zM121.9 183.4L123.6 181.3L123.3 191.8L121.6 193.9zM125.8 148.0L127.5 147.1L127.2 157.5L125.5 158.5zM126.5 157.2L128.2 156.4L127.9 166.8L126.2 167.7zM127.0 136.9L128.7 136.0L128.5 146.5L126.8 147.4zM129.0 175.2L130.7 174.6L130.4 185.0L128.7 185.6zM129.7 184.7L131.4 184.1L131.2 194.5L129.4 195.1zM255.3 131.3L257.0 131.5L256.1 279.0L254.4 278.5zM271.4 135.6L273.1 135.9L272.5 285.7L270.8 285.3zM272.4 135.9L274.1 136.3L273.5 286.2L271.8 285.7zM278.4 138.0L280.1 138.3L279.7 288.7L278.0 288.3zM285.4 140.4L287.1 140.8L286.9 291.7L285.1 291.2zM293.4 143.4L295.1 143.8L295.1 295.0L293.3 294.6zM294.4 143.8L296.1 144.2L296.1 295.5L294.4 295.0zM297.4 145.0L299.1 145.4L299.2 296.7L297.4 296.3zM302.4 147.0L304.1 147.4L304.3 298.8L302.6 298.4zM303.4 147.4L305.1 147.8L305.3 299.3L303.6 298.8zM307.4 149.0L309.1 149.4L309.4 301.0L307.7 300.5zM308.4 149.4L310.1 149.8L310.4 301.4L308.7 301.0zM311.4 150.5L313.1 150.8L313.5 302.7L311.8 302.2zM314.4 151.5L316.1 151.8L316.6 303.9L314.9 303.5zM315.4 151.8L317.2 152.1L317.6 304.3L315.9 303.9zM319.5 153.1L321.2 153.5L321.7 306.0L320.0 305.6zM320.5 153.5L322.2 153.8L322.7 306.5L321.0 306.0zM321.5 153.8L323.2 154.1L323.8 306.9L322.0 306.5zM322.5 154.1L324.2 154.5L324.8 307.3L323.1 306.9zM323.5 154.5L325.2 154.8L325.8 307.7L324.1 307.3zM329.5 156.4L331.2 156.7L332.0 310.1L330.2 309.7zM332.5 157.2L334.2 157.5L335.0 311.2L333.3 310.8zM333.5 157.5L335.2 157.8L336.1 311.5L334.3 311.2zM387.4 229.0L389.1 229.2L389.3 248.3L387.6 248.1zM388.4 229.2L390.1 229.4L390.4 248.5L388.6 248.3zM389.1 210.6L390.8 210.8L391.1 229.9L389.4 229.7zM397.5 230.7L399.2 230.8L399.8 268.4L398.0 268.3zM398.5 230.8L400.2 230.9L400.5 249.9L398.8 249.7zM399.2 212.3L400.9 212.4L401.5 250.0L399.8 249.9zM401.7 305.5L403.4 305.6L403.7 324.2L402.0 324.2zM400.2 212.4L401.9 212.6L402.2 231.5L400.5 231.3zM475.9 284.1L477.7 283.7L477.8 289.9L476.1 290.4zM477.0 283.7L478.7 283.2L478.9 289.4L477.1 289.9zM483.7 196.2L485.4 195.5L485.6 201.7L483.9 202.4zM487.4 217.5L489.1 216.7L489.3 222.8L487.6 223.7zM488.8 228.4L490.5 227.5L490.7 233.6L489.0 234.5zM488.3 210.8L490.0 209.9L490.1 216.1L488.4 217.0zM491.4 280.1L493.2 279.0L493.3 285.2L491.6 286.3zM492.3 273.2L494.0 272.0L494.4 284.0L492.6 285.2zM492.6 248.7L494.3 247.4L494.5 253.5L492.7 254.8zM493.8 253.2L495.5 251.7L495.7 257.8L493.9 259.3zM492.4 176.1L494.1 174.4L494.3 180.5L492.6 182.2zM495.1 195.4L496.8 189.7L497.2 201.5L495.5 207.2z"/>
<path fill="#60bfa0" d="M118.9 260.4L120.7 255.0L120.4 265.5L118.7 271.0zM121.5 168.2L123.2 162.9L122.9 173.4L121.2 178.8zM123.4 200.2L125.1 199.0L124.8 209.5L123.1 210.7zM127.0 176.7L128.7 175.9L128.4 186.4L126.7 187.2zM128.5 155.6L130.2 154.9L129.9 165.4L128.2 166.1zM249.4 256.9L251.1 257.3L251.1 262.5L249.4 262.1zM485.1 279.2L486.9 278.5L487.2 290.6L485.5 291.3zM484.8 267.4L486.5 266.7L486.7 272.9L485.0 273.6zM487.0 271.9L488.7 271.1L488.9 277.3L487.2 278.1zM489.6 221.6L491.3 220.6L491.5 226.8L489.8 227.8zM489.4 179.7L491.1 178.7L491.3 184.8L489.5 185.9zM493.9 259.0L495.7 257.5L495.8 263.6L494.1 265.2zM491.9 195.0L493.6 193.6L493.8 199.7L492.1 201.1zM491.4 177.5L493.1 176.1L493.3 182.2L491.6 183.6zM492.6 181.9L494.3 180.2L494.6 192.1L492.9 193.9zM493.9 191.8L495.7 189.6L496.0 201.4L494.3 203.8zM495.5 206.9L497.2 201.2L497.4 207.3L495.7 213.0z"/>
<path fill="#c5d748" d="M119.2 250.2L120.9 244.7L120.7 255.3L118.9 260.7zM120.3 209.2L122.1 203.8L121.8 214.3L120.1 219.8zM120.8 224.3L122.5 222.2L122.2 232.7L120.5 234.8zM123.5 160.9L125.2 159.4L124.9 169.9L123.2 171.4zM124.2 169.6L125.9 168.4L125.6 178.9L123.9 180.1zM124.9 178.6L126.6 177.6L126.4 188.1L124.7 189.1zM125.7 187.8L127.4 186.9L127.1 197.3L125.4 198.2zM126.1 207.2L127.9 206.4L127.6 216.8L125.9 217.7zM126.9 216.5L128.6 215.7L128.3 226.2L126.6 227.0zM127.4 196.2L129.1 195.5L128.9 205.9L127.2 206.7zM129.0 135.3L130.7 134.6L130.5 145.1L128.8 145.8zM127.6 225.9L129.3 225.2L128.5 255.8L126.8 256.6zM128.4 235.3L130.1 234.6L129.6 255.2L127.8 255.8zM249.8 208.1L251.5 208.4L251.4 213.6L249.7 213.3zM493.7 283.7L495.4 282.3L495.7 294.3L494.0 295.6zM495.7 280.8L497.4 278.9L497.6 285.0L495.9 286.9zM496.2 261.5L497.9 259.0L498.1 265.1L496.4 267.6z"/>
<path fill="#f6d822" d="M119.5 239.9L121.2 234.5L120.9 245.0L119.2 250.5zM120.7 263.1L122.4 261.5L122.1 272.0L120.4 273.6zM125.2 168.4L126.9 167.4L126.6 177.9L124.9 178.9zM123.5 269.2L125.2 268.2L124.9 278.3L123.2 279.4zM178.1 127.4L179.8 127.3L179.7 132.3L178.0 132.4zM179.1 127.3L180.8 127.2L180.6 136.9L178.9 137.0zM180.1 127.2L181.8 127.0L181.6 136.7L179.9 136.9zM181.0 131.7L182.7 131.6L182.5 141.3L180.8 141.5zM181.9 136.3L183.6 136.2L183.4 146.0L181.7 146.1zM182.8 140.9L184.5 140.9L184.4 145.9L182.7 146.0zM183.8 140.9L185.5 140.8L185.3 155.2L183.6 155.3zM184.7 145.5L186.5 145.5L186.4 150.5L184.7 150.5zM185.7 150.2L187.4 150.1L187.3 155.2L185.6 155.2zM186.6 154.9L188.3 154.8L188.1 164.6L186.4 164.6zM187.4 164.3L189.1 164.3L189.1 169.3L187.4 169.3zM188.5 159.5L190.2 159.5L190.2 164.6L188.4 164.6zM189.5 164.3L191.2 164.3L191.1 169.3L189.4 169.3zM248.9 183.3L250.6 183.7L250.6 188.8L248.9 188.5zM497.4 264.8L499.1 258.8L499.5 270.6L497.7 276.7z"/>
<path fill="#f6b122" d="M119.8 229.7L121.5 224.3L121.2 234.8L119.5 240.2zM120.5 234.5L122.2 232.4L122.0 242.9L120.2 245.0zM123.0 142.4L124.7 140.4L124.5 151.0L122.8 153.0zM121.3 242.6L123.0 241.0L122.7 251.5L121.0 253.1zM121.7 261.5L123.4 260.1L123.2 270.6L121.4 272.0zM122.5 270.3L124.2 269.2L123.9 279.4L122.2 280.5zM130.0 134.6L131.7 134.1L131.5 144.5L129.8 145.1zM130.8 144.2L132.5 143.6L132.2 154.0L130.5 154.6zM200.8 216.9L202.5 217.0L202.4 222.0L200.7 221.9zM201.8 217.0L203.5 217.0L203.4 226.9L201.7 226.8zM202.8 217.0L204.5 217.1L204.4 227.0L202.7 226.9zM203.8 221.9L205.5 222.0L205.4 231.8L203.6 231.7zM204.7 226.8L206.4 226.9L206.3 236.7L204.6 236.6zM205.7 231.7L207.4 231.8L207.3 241.6L205.5 241.5zM206.7 231.8L208.4 231.9L208.2 246.5L206.5 246.4zM207.6 236.7L209.4 236.8L209.2 246.7L207.5 246.5zM208.6 241.6L210.3 241.7L210.2 251.6L208.5 251.4zM209.6 246.5L211.3 246.7L211.2 256.5L209.4 256.4zM210.5 251.4L212.2 251.6L212.1 261.5L210.4 261.3zM211.5 251.6L213.3 251.8L213.1 266.1L211.3 265.9zM212.5 256.5L214.2 256.7L214.1 266.3L212.4 266.1zM213.5 261.5L215.2 261.7L215.1 266.5L213.4 266.3zM234.8 174.4L236.5 174.6L236.5 179.8L234.8 179.5zM235.8 174.6L237.5 174.9L237.5 180.1L235.8 179.8zM236.8 174.9L238.5 175.2L238.5 185.2L236.7 184.9zM237.8 180.0L239.5 180.3L239.4 190.3L237.7 190.0zM238.8 185.2L240.5 185.5L240.4 195.4L238.7 195.1zM239.8 185.5L241.5 185.7L241.4 200.6L239.7 200.3zM240.7 190.6L242.5 190.9L242.4 200.9L240.7 200.6zM241.7 195.7L243.4 196.0L243.4 206.1L241.6 205.7zM242.7 200.9L244.4 201.2L244.3 211.2L242.6 210.9zM243.7 206.1L245.4 206.4L245.3 216.4L243.6 216.1zM244.7 206.4L246.4 206.7L246.3 221.6L244.6 221.3zM245.7 211.6L247.4 211.9L247.3 221.9L245.6 221.6zM246.6 216.8L248.4 217.1L248.3 227.2L246.6 226.8zM247.0 168.1L248.7 168.4L248.7 173.6L247.0 173.3zM247.6 222.0L249.3 222.4L249.3 227.5L247.6 227.2zM247.9 178.1L249.7 178.5L249.6 183.6L247.9 183.3zM248.6 227.2L250.3 227.6L250.3 232.8L248.6 232.4zM249.6 232.5L251.3 232.9L251.2 242.9L249.5 242.5z"/>
<path fill="#d8dc3c" d="M120.1 219.5L121.8 214.0L121.5 224.6L119.8 230.0zM126.7 186.9L128.4 186.1L128.1 196.5L126.4 197.3zM129.8 144.8L131.5 144.2L131.2 154.6L129.5 155.2zM127.8 255.5L129.6 254.9L129.3 265.3L127.6 266.0zM130.5 154.3L132.2 153.7L132.0 164.2L130.2 164.7zM128.9 254.9L130.6 254.2L130.3 264.6L128.6 265.3zM131.8 143.6L133.5 143.2L133.2 153.6L131.5 154.0zM167.1 124.4L168.8 124.3L168.6 134.6L166.9 134.7zM168.1 124.3L169.8 124.2L169.4 144.5L167.7 144.6zM169.1 124.2L170.8 124.1L170.2 154.3L168.5 154.5zM170.1 124.1L171.8 123.9L171.0 164.2L169.3 164.3zM171.1 123.9L172.8 123.7L171.8 174.0L170.1 174.2zM171.9 133.7L173.6 133.5L172.6 183.9L170.9 184.0zM172.7 143.5L174.4 143.4L173.5 193.8L171.7 193.9zM173.6 153.4L175.3 153.3L174.3 203.7L172.6 203.8zM174.3 165.3L176.0 165.2L175.1 212.3L173.4 212.4zM175.2 174.6L176.9 174.4L176.1 216.9L174.3 217.0zM175.3 221.3L177.0 221.3L176.8 230.9L175.1 231.0zM176.0 183.8L177.7 183.7L177.1 216.9L175.4 216.9zM176.2 225.9L177.9 225.9L177.6 240.3L175.9 240.3zM176.8 193.1L178.5 193.0L178.0 221.5L176.3 221.6zM177.1 230.6L178.8 230.5L178.5 249.6L176.8 249.7zM177.7 202.4L179.4 202.3L178.9 226.1L177.2 226.2zM178.1 230.5L179.9 230.5L179.3 259.0L177.6 259.0zM178.5 211.7L180.2 211.7L179.9 226.1L178.2 226.1zM179.1 235.2L180.8 235.2L180.3 263.4L178.6 263.4zM179.3 221.1L181.1 221.0L180.9 230.8L179.2 230.8zM180.0 239.9L181.7 239.9L181.3 263.4L179.6 263.4zM180.2 230.5L181.9 230.4L181.8 235.4L180.1 235.5zM181.0 239.9L182.8 239.8L182.3 263.4L180.6 263.4zM181.9 249.3L183.6 249.3L183.4 263.4L181.6 263.4zM182.7 258.7L184.5 258.7L184.4 263.4L182.7 263.4zM193.2 121.6L194.9 121.6L194.8 126.7L193.1 126.7zM194.2 121.6L195.9 121.6L195.7 136.1L194.0 136.1zM195.0 131.1L196.7 131.1L196.5 145.6L194.8 145.6zM195.9 140.6L197.6 140.6L197.4 155.1L195.7 155.1zM196.7 150.1L198.5 150.1L198.2 164.7L196.5 164.6zM197.6 159.6L199.3 159.7L199.1 174.2L197.4 174.2zM198.5 169.2L200.2 169.2L200.0 183.8L198.2 183.7zM199.3 178.7L201.0 178.8L200.8 193.3L199.1 193.3zM200.2 188.3L201.9 188.3L201.7 202.9L200.0 202.8zM201.1 197.8L202.8 197.9L202.6 212.5L200.9 212.4zM202.7 226.6L204.4 226.7L204.3 231.7L202.6 231.6zM203.6 231.4L205.4 231.5L205.2 241.4L203.5 241.3zM204.6 236.3L206.3 236.4L206.1 251.0L204.4 250.9zM205.5 246.0L207.2 246.1L207.0 260.7L205.3 260.6zM206.4 255.6L208.1 255.8L207.9 265.3L206.2 265.2zM208.2 122.1L209.9 122.2L209.9 127.2L208.2 127.2zM209.2 122.2L210.9 122.3L210.7 136.9L209.0 136.8zM210.2 127.0L211.9 127.1L211.6 146.5L209.9 146.4zM211.0 136.7L212.7 136.8L212.5 156.2L210.8 156.1zM211.9 146.3L213.6 146.5L213.4 165.9L211.7 165.7zM212.8 156.0L214.5 156.1L214.2 175.6L212.5 175.4zM213.7 165.7L215.4 165.8L215.1 185.3L213.4 185.1zM214.6 175.4L216.3 175.5L216.0 195.0L214.3 194.8zM215.4 185.1L217.2 185.3L216.9 204.7L215.2 204.6zM216.3 194.8L218.1 195.0L217.8 214.5L216.1 214.3zM217.2 204.6L219.0 204.7L218.7 224.2L217.0 224.0zM218.1 214.3L219.9 214.5L219.6 234.0L217.9 233.8zM219.0 224.1L220.8 224.3L220.5 243.8L218.8 243.6zM219.9 233.9L221.7 234.1L221.4 253.6L219.7 253.4zM220.9 243.7L222.6 243.9L222.4 263.4L220.6 263.2zM221.8 253.5L223.5 253.7L223.3 268.1L221.6 267.9zM222.7 263.3L224.4 263.5L224.3 268.4L222.6 268.1zM226.3 124.3L228.0 124.5L227.9 129.6L226.2 129.4zM227.3 124.5L229.0 124.6L228.9 134.6L227.2 134.4zM228.2 129.5L229.9 129.6L229.8 139.6L228.1 139.4zM229.0 153.7L230.7 153.9L230.6 159.0L228.9 158.8zM229.1 139.3L230.8 139.5L230.8 144.6L229.1 144.4zM229.9 158.7L231.6 159.0L231.5 168.9L229.8 168.7zM230.9 163.8L232.6 164.0L232.4 178.8L230.7 178.5zM231.8 168.8L233.5 169.1L233.4 188.7L231.6 188.4zM232.7 178.7L234.5 178.9L234.3 198.6L232.6 198.3zM233.7 188.6L235.4 188.9L235.2 208.5L233.5 208.2zM234.6 198.5L236.3 198.8L236.1 218.5L234.4 218.2zM235.5 208.5L237.2 208.8L237.1 223.6L235.4 223.3zM236.4 218.4L238.2 218.7L238.1 223.9L236.4 223.6zM237.3 238.1L239.0 238.4L238.9 248.4L237.2 248.1zM238.3 126.8L240.0 127.1L239.9 132.2L238.2 132.0zM238.3 243.3L240.0 243.6L239.8 258.4L238.1 258.1zM239.3 127.1L241.0 127.3L240.9 137.3L239.2 137.1zM239.2 248.4L241.0 248.7L240.8 268.4L239.1 268.1zM240.1 151.6L241.8 151.8L241.7 157.0L240.0 156.7zM240.2 132.2L241.9 132.4L241.9 142.4L240.2 142.2zM240.2 258.4L241.9 258.8L241.8 273.3L240.0 273.0zM241.0 156.7L242.7 156.9L242.7 166.9L241.0 166.7zM241.2 142.1L242.9 142.4L242.8 147.6L241.1 147.3zM241.1 268.5L242.8 268.8L242.8 273.7L241.1 273.3zM242.0 161.8L243.7 162.1L243.6 176.9L241.9 176.6zM243.0 166.9L244.7 167.2L244.5 186.9L242.8 186.6zM243.9 172.1L245.7 172.4L245.5 197.0L243.7 196.7zM244.9 182.1L246.6 182.4L246.4 207.0L244.7 206.7zM245.8 192.1L247.5 192.4L247.4 212.2L245.7 211.9zM246.7 202.2L248.5 202.5L248.4 217.4L246.6 217.1zM247.5 231.7L249.3 232.1L249.2 237.3L247.5 236.9zM247.7 212.3L249.4 212.6L249.3 222.7L247.6 222.3zM247.9 187.9L249.6 188.2L249.5 193.4L247.8 193.1zM248.5 237.0L250.2 237.4L250.2 247.4L248.5 247.0zM248.6 222.4L250.3 222.7L250.3 227.9L248.6 227.5zM248.8 198.0L250.5 198.3L250.5 208.4L248.7 208.0zM249.5 242.2L251.2 242.6L251.1 257.6L249.4 257.2zM249.7 213.0L251.4 213.3L251.3 228.3L249.6 227.9zM249.9 183.7L251.6 184.0L251.6 189.2L249.9 188.8zM493.1 266.2L494.8 264.9L495.0 271.0L493.3 272.3zM495.0 294.0L496.8 292.4L497.0 298.2L495.2 299.8zM495.1 263.3L496.9 261.5L497.1 267.6L495.3 269.4zM497.2 259.0L498.9 253.0L499.1 259.1L497.4 265.1z"/>
<path fill="#b2d254" d="M120.6 199.0L122.3 193.6L122.1 204.1L120.3 209.5zM121.1 214.0L122.8 212.0L122.5 222.5L120.8 224.6zM122.8 152.7L124.5 150.7L124.2 161.2L122.5 163.2zM121.5 232.4L123.2 230.8L123.0 241.3L121.3 242.9zM124.7 188.8L126.4 187.8L126.1 198.2L124.4 199.3zM125.4 197.9L127.1 197.0L126.8 207.5L125.1 208.4zM126.4 197.0L128.1 196.2L127.9 206.7L126.1 207.5zM126.6 226.7L128.3 225.9L127.8 246.5L126.1 247.3zM127.2 206.4L128.9 205.6L128.6 216.0L126.9 216.8zM128.2 205.6L129.9 204.9L129.6 215.4L127.9 216.0zM127.6 265.7L129.3 265.0L129.0 275.1L127.3 275.8zM129.1 244.7L130.9 244.1L130.6 254.5L128.9 255.2zM134.1 132.6L135.8 132.2L135.5 142.6L133.8 143.0zM134.8 142.3L136.5 141.9L136.2 152.3L134.5 152.7zM135.5 152.0L137.2 151.6L137.0 162.0L135.3 162.3zM136.3 161.7L138.0 161.3L137.7 171.7L136.0 172.0zM137.0 171.4L138.8 171.0L138.5 181.4L136.8 181.7zM137.8 181.1L139.5 180.7L139.3 191.0L137.5 191.4zM138.6 190.7L140.3 190.3L140.0 200.6L138.3 201.0zM139.3 200.3L141.0 199.9L140.8 210.2L139.1 210.6zM140.8 219.5L142.6 219.2L142.3 229.5L140.6 229.8zM141.6 229.2L143.3 228.9L143.1 239.1L141.4 239.5zM142.6 228.9L144.4 228.5L144.1 238.8L142.4 239.1zM143.4 238.5L145.1 238.2L144.9 248.5L143.2 248.8zM144.2 248.2L145.9 247.9L145.7 258.2L144.0 258.5zM145.0 257.9L146.7 257.6L146.5 267.6L144.7 267.9zM148.1 128.2L149.8 127.9L149.6 138.2L147.8 138.4zM148.9 137.9L150.6 137.6L150.3 147.9L148.6 148.2zM149.6 147.6L151.3 147.3L151.1 157.6L149.4 157.9zM150.4 157.3L152.1 157.1L151.9 167.3L150.2 167.6zM151.2 167.0L152.9 166.8L152.6 177.1L150.9 177.3zM152.1 127.1L153.8 126.9L153.6 137.2L151.9 137.4zM151.9 176.8L153.7 176.5L153.4 186.8L151.7 187.0zM153.1 126.9L154.8 126.6L154.3 146.9L152.6 147.1zM152.7 186.5L154.4 186.3L154.2 196.6L152.5 196.8zM153.9 136.6L155.6 136.4L155.3 146.7L153.6 146.9zM153.7 186.3L155.4 186.1L155.0 206.3L153.3 206.5zM154.6 146.4L156.4 146.2L155.9 166.4L154.2 166.6zM154.5 196.0L156.2 195.8L155.8 216.1L154.1 216.3zM155.2 166.1L156.9 165.9L156.7 176.2L155.0 176.4zM155.3 205.8L157.0 205.6L156.8 215.9L155.1 216.1zM156.2 165.9L157.9 165.7L157.5 186.0L155.8 186.2zM156.1 215.6L157.8 215.4L157.6 225.7L155.9 225.9zM157.2 165.7L158.9 165.5L158.3 195.8L156.5 196.0zM156.9 225.4L158.6 225.2L158.4 235.5L156.7 235.7zM158.0 175.5L159.7 175.3L159.3 195.6L157.6 195.8zM157.7 235.2L159.4 235.1L159.2 245.3L157.5 245.5zM158.8 185.3L160.5 185.2L160.1 205.4L158.4 205.6zM160.1 125.4L161.8 125.3L161.6 135.5L159.9 135.7zM158.5 245.0L160.2 244.9L160.0 255.2L158.3 255.3zM159.6 195.1L161.3 195.0L160.9 215.2L159.1 215.4zM161.1 125.3L162.8 125.1L162.4 145.4L160.7 145.5zM159.3 254.9L161.0 254.7L160.8 264.7L159.1 264.8zM160.4 205.0L162.1 204.8L161.7 225.1L159.9 225.2zM162.1 125.1L163.8 125.0L163.2 155.2L161.5 155.4zM161.2 214.8L162.9 214.7L162.5 234.9L160.8 235.1zM162.9 134.9L164.6 134.8L164.0 165.0L162.3 165.2zM162.0 224.6L163.7 224.5L163.3 244.8L161.6 244.9zM163.7 144.8L165.4 144.6L164.8 174.9L163.1 175.0zM162.8 234.5L164.5 234.4L164.1 254.6L162.4 254.8zM164.5 154.6L166.2 154.5L165.6 184.8L163.9 184.9zM163.6 244.4L165.3 244.2L164.9 264.2L163.2 264.3zM165.3 164.5L167.0 164.4L166.6 184.6L164.9 184.8zM164.4 254.2L166.1 254.1L165.9 264.1L164.2 264.2zM165.7 194.3L167.4 194.2L167.2 204.5L165.5 204.6zM166.1 174.4L167.8 174.2L167.6 184.5L165.9 184.6zM166.9 184.2L168.6 184.1L168.0 214.4L166.3 214.5zM167.5 204.1L169.2 204.0L168.8 224.3L167.1 224.4zM168.5 204.0L170.2 203.9L169.6 234.2L167.9 234.3zM169.3 213.9L171.0 213.7L170.4 244.1L168.7 244.2zM170.3 213.7L172.1 213.6L171.3 254.0L169.5 254.1zM172.1 123.7L173.8 123.5L173.6 133.8L171.9 134.0zM171.2 223.7L172.9 223.6L172.1 263.6L170.4 263.7zM173.1 123.5L174.8 123.3L174.4 143.7L172.7 143.8zM172.0 233.6L173.7 233.5L173.1 263.6L171.4 263.6zM174.1 123.3L175.8 123.2L175.3 153.6L173.6 153.7zM172.8 244.9L174.5 244.8L174.1 263.5L172.4 263.6zM174.9 137.2L176.6 137.1L176.0 165.5L174.3 165.6zM173.6 254.2L175.3 254.1L175.2 263.5L173.4 263.5zM175.7 146.4L177.4 146.3L176.9 174.7L175.2 174.9zM176.5 155.7L178.2 155.6L177.7 184.0L176.0 184.1zM177.3 165.0L179.1 164.9L178.5 193.3L176.8 193.4zM178.2 174.2L179.9 174.2L179.4 202.6L177.7 202.7zM179.2 122.6L180.9 122.5L180.8 127.5L179.1 127.6zM179.0 183.5L180.7 183.5L180.2 212.0L178.5 212.0zM180.2 122.5L181.9 122.3L181.8 127.3L180.1 127.5zM179.9 192.9L181.6 192.8L181.1 221.3L179.3 221.4zM180.8 141.2L182.5 141.0L182.4 146.1L180.7 146.2zM181.1 127.0L182.8 126.9L182.7 131.9L181.0 132.0zM180.7 202.2L182.4 202.2L181.9 230.7L180.2 230.8zM181.7 145.8L183.4 145.7L183.3 155.4L181.6 155.5zM181.5 211.6L183.3 211.6L182.8 235.4L181.1 235.4zM182.7 150.4L184.4 150.3L184.1 164.7L182.4 164.8zM182.0 244.5L183.7 244.5L183.6 249.6L181.9 249.6zM182.4 221.0L184.1 221.0L183.8 240.1L182.1 240.1zM183.6 155.0L185.3 154.9L184.9 174.1L183.2 174.1zM182.9 249.3L184.6 249.3L184.5 259.0L182.7 259.0zM183.2 230.4L185.0 230.4L184.7 244.9L183.0 244.8zM184.4 164.4L186.1 164.3L185.8 183.5L184.1 183.5zM183.9 249.3L185.6 249.3L185.4 263.4L183.7 263.4zM184.1 239.8L185.8 239.8L185.7 244.9L184.0 244.9zM185.3 173.8L187.0 173.7L186.6 192.9L184.9 192.9zM184.9 254.0L186.6 254.0L186.4 263.5L184.7 263.4zM186.1 183.2L187.8 183.2L187.5 202.4L185.8 202.4zM185.8 258.8L187.5 258.8L187.5 263.5L185.7 263.5zM187.0 192.6L188.7 192.6L188.3 211.8L186.6 211.8zM187.8 202.1L189.5 202.1L189.2 221.3L187.5 221.3zM188.7 211.5L190.4 211.6L190.1 230.8L188.3 230.7zM190.2 121.7L191.9 121.7L191.7 131.4L190.0 131.5zM189.5 221.0L191.2 221.0L190.9 240.3L189.2 240.2zM191.2 121.7L192.9 121.7L192.6 140.9L190.9 140.9zM190.4 230.5L192.1 230.5L191.8 249.8L190.1 249.7zM192.0 131.1L193.7 131.1L193.4 150.4L191.7 150.4zM191.2 240.0L193.0 240.1L192.7 259.3L190.9 259.3zM192.9 140.6L194.6 140.6L194.2 164.6L192.5 164.6zM192.1 249.5L193.8 249.6L193.6 263.8L191.9 263.8zM193.7 150.1L195.4 150.1L195.0 174.1L193.3 174.0zM193.0 259.1L194.7 259.1L194.6 263.9L192.9 263.8zM194.6 159.5L196.3 159.6L195.9 183.6L194.2 183.5zM195.4 169.1L197.1 169.1L196.8 188.4L195.1 188.3zM196.3 178.6L198.0 178.6L197.9 188.4L196.1 188.4zM196.9 207.1L198.6 207.1L198.5 212.2L196.8 212.1zM197.2 188.1L198.9 188.2L198.8 193.2L197.1 193.1zM198.2 121.6L199.9 121.7L199.8 131.5L198.0 131.4zM197.8 211.9L199.5 212.0L199.4 221.8L197.7 221.7zM199.2 121.7L200.9 121.7L200.6 141.0L198.9 141.0zM198.8 212.0L200.5 212.0L200.3 231.4L198.5 231.3zM200.1 131.2L201.8 131.2L201.5 150.5L199.8 150.5zM199.8 216.8L201.5 216.9L201.1 241.0L199.4 240.9zM200.9 140.7L202.6 140.8L202.3 160.1L200.6 160.0zM200.6 226.4L202.4 226.5L202.0 250.6L200.3 250.5zM201.8 150.3L203.5 150.3L203.2 169.7L201.5 169.6zM202.2 121.7L203.9 121.8L203.8 126.8L202.1 126.8zM201.5 236.0L203.2 236.1L202.9 260.2L201.2 260.1zM202.6 159.9L204.4 159.9L204.1 179.3L202.4 179.2zM203.2 121.8L204.9 121.8L204.7 136.4L203.0 136.4zM202.4 245.6L204.1 245.7L203.9 264.8L202.1 264.7zM203.5 169.4L205.2 169.5L204.9 188.9L203.2 188.8zM204.1 126.6L205.8 126.6L205.6 146.0L203.9 145.9zM203.3 255.3L205.0 255.4L204.9 264.9L203.2 264.8zM204.4 179.0L206.1 179.1L205.8 198.5L204.1 198.4zM205.0 136.2L206.7 136.2L206.4 155.6L204.7 155.5zM205.2 121.9L206.9 121.9L206.8 127.0L205.1 126.9zM205.3 188.7L207.0 188.8L206.7 208.1L205.0 208.0zM205.9 145.8L207.6 145.9L207.3 165.2L205.6 165.1zM206.2 121.9L207.9 122.0L207.7 136.6L206.0 136.5zM206.1 198.3L207.9 198.4L207.6 217.8L205.9 217.7zM206.7 155.4L208.5 155.5L208.2 174.9L206.5 174.8zM207.2 122.0L208.9 122.1L208.6 146.2L206.9 146.2zM207.0 207.9L208.7 208.1L208.5 227.4L206.8 227.3zM207.6 165.0L209.3 165.1L209.1 184.5L207.4 184.4zM208.2 126.9L209.9 126.9L209.5 155.9L207.8 155.8zM207.7 231.9L209.4 232.0L209.4 237.1L207.6 237.0zM207.9 217.6L209.6 217.7L209.5 227.6L207.8 227.4zM208.5 174.7L210.2 174.8L209.9 194.2L208.2 194.0zM209.0 136.5L210.7 136.6L210.3 165.5L208.6 165.4zM208.7 236.8L210.4 237.0L210.3 242.0L208.6 241.9zM208.8 227.3L210.5 227.4L210.4 232.5L208.7 232.3zM209.4 184.3L211.1 184.4L210.8 203.8L209.1 203.7zM209.9 146.1L211.6 146.2L211.2 175.2L209.5 175.1zM209.7 237.0L211.4 237.1L211.3 247.0L209.6 246.8zM210.3 194.0L212.0 194.1L211.7 213.5L210.0 213.4zM210.8 155.8L212.5 155.9L212.1 184.9L210.4 184.7zM210.4 261.0L212.1 261.2L212.0 265.9L210.3 265.8zM210.6 246.7L212.3 246.8L212.2 251.9L210.5 251.7zM211.1 203.7L212.9 203.8L212.6 223.2L210.9 223.1zM211.7 165.4L213.4 165.6L213.0 194.5L211.3 194.4zM212.0 213.4L213.8 213.5L213.5 232.9L211.8 232.8zM212.5 175.1L214.2 175.3L213.9 204.2L212.2 204.1zM213.2 122.6L214.9 122.7L214.9 127.7L213.2 127.6zM212.9 223.1L214.6 223.2L214.4 242.7L212.7 242.5zM213.4 184.8L215.1 185.0L214.8 214.0L213.1 213.8zM214.2 122.7L215.9 122.8L215.8 132.6L214.1 132.5zM213.8 232.8L215.5 233.0L215.4 247.6L213.6 247.4zM214.3 194.5L216.0 194.7L215.7 223.7L213.9 223.5zM214.9 146.7L216.6 146.8L216.6 151.9L214.9 151.8zM215.2 122.8L216.9 122.9L216.8 137.6L215.0 137.4zM214.7 242.5L216.4 242.7L216.2 262.2L214.5 262.0zM215.2 204.3L216.9 204.4L216.6 233.4L214.8 233.3zM215.9 151.6L217.6 151.7L217.5 161.6L215.8 161.5zM216.1 132.5L217.8 132.6L217.7 142.5L216.0 142.3zM215.6 252.3L217.3 252.5L217.2 266.8L215.4 266.6zM216.1 214.0L217.8 214.2L217.5 243.2L215.7 243.0zM216.8 156.5L218.5 156.7L218.3 171.3L216.6 171.2zM216.5 262.1L218.3 262.2L218.2 267.0L216.5 266.8zM217.0 223.7L218.7 223.9L218.4 253.0L216.6 252.8zM217.8 156.7L219.5 156.8L219.2 181.1L217.5 180.9zM217.9 233.5L219.6 233.7L219.3 262.7L217.6 262.5zM218.8 161.6L220.5 161.8L220.1 190.8L218.4 190.7zM218.8 243.3L220.5 243.5L220.3 263.0L218.6 262.7zM219.7 171.4L221.4 171.5L221.0 200.6L219.3 200.4zM219.7 253.1L221.4 253.3L221.3 267.7L219.5 267.5zM220.6 181.1L222.3 181.3L221.9 210.4L220.2 210.2zM221.2 123.5L222.9 123.7L222.8 133.6L221.1 133.4zM220.6 262.9L222.4 263.1L222.3 267.9L220.6 267.7zM221.5 190.9L223.2 191.1L222.8 220.2L221.1 220.0zM222.2 123.7L223.9 123.8L223.7 143.3L222.0 143.2zM222.4 200.7L224.1 200.9L223.8 230.0L222.0 229.8zM223.2 123.8L225.0 124.0L224.6 153.1L222.9 152.9zM223.3 210.5L225.0 210.7L224.7 239.8L222.9 239.6zM224.1 133.6L225.8 133.8L225.5 162.9L223.8 162.7zM224.3 124.0L226.0 124.1L225.9 129.2L224.2 129.1zM224.2 220.3L225.9 220.5L225.6 249.7L223.9 249.4zM225.1 138.6L226.8 138.7L226.4 172.7L224.7 172.5zM225.1 230.1L226.8 230.3L226.5 259.5L224.8 259.3zM226.0 143.5L227.7 143.7L227.3 182.5L225.6 182.3zM226.0 240.0L227.7 240.2L227.4 269.1L225.7 268.8zM227.0 148.5L228.7 148.7L228.3 182.7L226.6 182.5zM226.9 249.8L228.6 250.1L228.4 269.3L226.7 269.1zM227.5 196.9L229.2 197.1L229.2 202.2L227.4 202.0zM227.9 158.3L229.6 158.5L229.3 187.7L227.6 187.5zM227.8 259.7L229.6 260.0L229.5 269.6L227.7 269.3zM228.5 201.9L230.2 202.1L230.1 212.1L228.4 211.8zM228.8 168.2L230.5 168.4L230.3 192.8L228.6 192.6zM229.3 124.8L231.0 125.0L230.9 130.1L229.2 129.9zM229.4 206.9L231.1 207.2L231.0 222.0L229.3 221.7zM229.7 178.0L231.4 178.2L231.2 197.8L229.5 197.6zM230.3 125.0L232.0 125.2L231.8 140.0L230.1 139.8zM230.4 212.0L232.1 212.3L231.9 231.9L230.2 231.6zM230.6 187.9L232.3 188.1L232.2 202.9L230.5 202.7zM231.3 125.2L233.0 125.4L232.7 149.8L231.0 149.6zM231.4 217.1L233.1 217.3L232.8 241.8L231.1 241.5zM231.5 197.8L233.3 198.0L233.2 203.1L231.5 202.9zM232.3 125.4L234.0 125.6L233.7 154.9L232.0 154.6zM232.4 217.3L234.1 217.6L233.8 251.7L232.0 251.4zM233.3 125.6L235.0 125.8L234.6 159.9L232.9 159.7zM233.3 222.4L235.1 222.7L234.7 261.7L233.0 261.4zM233.8 174.1L235.5 174.4L235.5 179.5L233.8 179.2zM234.3 125.8L236.0 126.0L235.6 165.0L233.9 164.8zM234.3 227.5L236.0 227.8L235.6 271.3L233.9 271.0zM234.8 179.2L236.5 179.5L236.4 189.4L234.7 189.2zM235.2 130.9L236.9 131.1L236.6 165.3L234.9 165.0zM235.2 237.5L237.0 237.8L236.6 271.7L234.9 271.3zM235.8 179.5L237.5 179.8L237.3 199.4L235.6 199.1zM236.1 140.8L237.8 141.1L237.6 170.4L235.9 170.1zM236.2 247.5L237.9 247.8L237.7 272.0L235.9 271.7zM236.7 184.6L238.5 184.9L238.2 209.4L236.5 209.1zM237.1 150.7L238.8 151.0L238.5 175.5L236.8 175.2zM237.1 257.5L238.8 257.8L238.7 272.3L237.0 272.0zM237.7 189.7L239.4 190.0L239.2 219.3L237.5 219.0zM238.0 160.7L239.7 161.0L239.5 180.6L237.8 180.3zM238.0 267.5L239.8 267.8L239.7 272.6L238.0 272.3zM238.7 194.8L240.4 195.1L240.1 229.3L238.4 229.0zM238.9 170.6L240.6 170.9L240.5 185.8L238.8 185.5zM239.7 200.0L241.4 200.3L241.0 239.4L239.3 239.0zM239.8 180.6L241.5 180.9L241.5 186.0L239.8 185.8zM240.7 200.3L242.4 200.6L242.1 239.7L240.3 239.4zM241.2 253.9L243.0 254.3L242.9 259.4L241.2 259.1zM241.6 205.4L243.4 205.8L243.0 244.9L241.3 244.5zM242.2 259.1L243.9 259.5L243.9 269.5L242.1 269.1zM242.6 210.6L244.3 210.9L244.0 250.1L242.3 249.7zM243.2 264.3L244.9 264.7L244.8 274.4L243.1 274.0zM243.5 220.6L245.3 221.0L245.0 255.3L243.3 254.9zM244.2 269.6L245.9 269.9L245.9 274.8L244.1 274.4zM244.5 230.7L246.2 231.0L246.0 260.5L244.3 260.1zM245.4 240.8L247.2 241.1L247.0 260.9L245.3 260.5zM246.4 250.9L248.1 251.2L248.0 266.2L246.3 265.8zM247.3 261.0L249.0 261.4L249.0 271.4L247.3 271.0zM248.3 271.1L250.0 271.5L250.0 276.4L248.2 276.0zM495.9 286.6L497.6 284.7L497.8 290.8L496.1 292.7z"/>
<path fill="#71c089" d="M120.9 188.7L122.6 183.4L122.3 193.9L120.6 199.3zM123.7 190.0L125.4 188.8L125.1 199.3L123.4 200.5zM125.5 158.2L127.2 157.2L126.9 167.7L125.2 168.7zM124.6 228.5L126.3 227.5L126.0 238.0L124.3 239.0zM124.8 258.0L126.5 257.1L126.2 267.6L124.5 268.5zM128.0 136.0L129.7 135.3L129.5 145.8L127.8 146.5zM129.2 204.9L130.9 204.3L130.6 214.7L128.9 215.4zM129.9 214.4L131.6 213.8L131.4 224.2L129.7 224.8zM130.7 184.1L132.4 183.5L132.2 193.9L130.5 194.5zM130.7 223.9L132.4 223.4L131.9 243.8L130.2 244.4zM132.8 143.2L134.5 142.7L133.7 173.3L132.0 173.7zM131.4 233.5L133.2 232.9L132.6 253.4L130.9 253.9zM133.5 152.8L135.2 152.4L134.5 182.9L132.7 183.3zM132.2 243.0L133.9 242.5L133.7 252.8L131.9 253.4zM134.3 162.4L136.0 162.0L135.5 182.5L133.8 182.9zM135.1 132.2L136.8 131.9L136.5 142.2L134.8 142.6zM133.0 252.5L134.7 252.0L134.4 262.4L132.7 262.9zM135.0 172.1L136.7 171.7L136.2 192.1L134.5 192.5zM136.1 131.9L137.8 131.6L137.2 151.9L135.5 152.3zM133.7 262.1L135.4 261.6L135.2 271.6L133.5 272.1zM135.8 181.8L137.5 181.4L137.0 201.7L135.3 202.1zM137.1 131.6L138.8 131.3L138.0 161.6L136.3 162.0zM136.5 191.4L138.2 191.1L137.7 211.4L136.0 211.8zM138.1 131.3L139.8 131.0L138.8 171.3L137.0 171.7zM137.0 211.1L138.8 210.7L138.5 221.0L136.8 221.4zM139.1 131.0L140.8 130.7L139.5 181.0L137.8 181.4zM138.1 210.7L139.8 210.3L139.3 230.6L137.5 231.0zM140.1 130.7L141.8 130.3L140.3 190.6L138.6 191.0zM138.8 220.3L140.5 219.9L140.0 240.2L138.3 240.6zM141.1 130.3L142.8 129.9L141.0 200.2L139.3 200.6zM139.6 229.9L141.3 229.5L140.8 249.8L139.1 250.2zM142.1 129.9L143.8 129.6L141.8 209.9L140.1 210.2zM140.4 239.5L142.1 239.2L141.6 259.5L139.9 259.8zM142.8 139.6L144.5 139.3L142.6 219.5L140.8 219.8zM141.1 249.2L142.8 248.8L142.4 268.8L140.6 269.2zM143.6 149.3L145.3 149.0L143.3 229.2L141.6 229.5zM141.9 258.8L143.6 258.5L143.4 268.5L141.7 268.8zM144.6 149.0L146.3 148.7L144.6 218.8L142.9 219.2zM145.4 158.6L147.1 158.4L145.1 238.5L143.4 238.8zM146.1 168.3L147.8 168.1L145.9 248.2L144.2 248.5zM146.9 178.0L148.6 177.8L146.7 257.9L145.0 258.2zM146.5 237.6L148.2 237.4L147.5 267.3L145.8 267.6zM147.7 187.8L149.4 187.5L148.4 227.7L146.7 228.0zM148.4 197.5L150.2 197.2L148.5 267.0L146.8 267.3zM149.2 207.2L150.9 206.9L149.5 266.8L147.8 267.0zM149.3 246.8L151.0 246.6L150.6 266.5L148.8 266.8zM150.0 216.9L151.7 216.7L151.3 236.9L149.5 237.2zM150.8 226.6L152.5 226.4L151.6 266.3L149.9 266.5zM151.6 236.4L153.3 236.2L152.6 266.1L150.9 266.3zM152.1 256.1L153.9 255.9L153.6 265.9L151.9 266.1zM153.2 255.9L154.9 255.7L154.7 265.7L152.9 265.9zM165.1 124.7L166.8 124.5L166.6 134.8L164.9 135.0zM166.1 124.5L167.8 124.4L167.4 144.7L165.7 144.8zM166.9 134.4L168.6 134.3L168.2 154.6L166.5 154.7zM167.7 144.3L169.4 144.2L169.2 154.5L167.5 154.6zM168.5 154.2L170.2 154.0L170.0 164.3L168.3 164.5zM169.3 164.0L171.0 163.9L170.8 174.2L169.1 174.3zM170.1 173.9L171.8 173.7L171.6 184.0L169.9 184.2zM170.9 183.7L172.6 183.6L172.4 193.9L170.7 194.0zM171.7 193.6L173.5 193.5L173.3 203.8L171.5 203.9zM172.6 203.5L174.3 203.4L174.1 213.7L172.4 213.8zM173.3 216.8L175.0 216.7L174.9 226.4L173.1 226.5zM174.2 221.4L176.0 221.3L175.7 235.7L174.0 235.7zM175.1 230.7L176.8 230.6L176.5 245.0L174.8 245.1zM175.9 240.0L177.6 240.0L177.4 254.4L175.7 254.4zM176.8 249.4L178.5 249.3L178.2 263.4L176.5 263.4zM177.6 258.7L179.3 258.7L179.3 263.4L177.5 263.4zM192.2 121.7L193.9 121.6L193.7 131.4L192.0 131.4zM193.1 126.4L194.8 126.4L194.6 140.9L192.9 140.9zM194.0 135.8L195.7 135.8L195.4 150.4L193.7 150.4zM194.8 145.3L196.5 145.3L196.3 159.9L194.6 159.8zM195.2 121.6L196.9 121.6L196.7 131.4L195.0 131.4zM195.7 154.8L197.4 154.8L197.1 169.4L195.4 169.4zM196.2 121.6L197.9 121.6L197.6 140.9L195.9 140.9zM196.5 164.3L198.2 164.4L198.0 178.9L196.3 178.9zM197.2 121.6L198.9 121.6L198.5 150.4L196.7 150.4zM197.4 173.9L199.1 173.9L198.9 188.5L197.2 188.4zM198.0 131.1L199.8 131.2L199.3 160.0L197.6 159.9zM198.2 183.4L200.0 183.5L199.7 198.0L198.0 197.9zM198.9 140.7L200.6 140.7L200.2 169.5L198.5 169.5zM199.1 193.0L200.8 193.0L200.8 198.1L199.0 198.0zM199.8 150.2L201.5 150.2L201.0 179.1L199.3 179.0zM200.6 159.7L202.3 159.8L201.9 188.6L200.2 188.6zM200.7 221.6L202.4 221.7L202.4 226.8L200.6 226.7zM201.5 169.3L203.2 169.4L202.8 198.2L201.1 198.1zM201.7 226.5L203.4 226.6L203.2 236.4L201.5 236.3zM202.4 178.9L204.1 179.0L203.7 207.8L201.9 207.7zM202.6 231.3L204.3 231.4L204.1 246.0L202.4 245.9zM203.2 188.5L204.9 188.6L204.6 212.7L202.9 212.6zM203.5 241.0L205.2 241.1L205.0 255.7L203.3 255.6zM204.1 198.1L205.8 198.2L205.5 222.3L203.8 222.2zM204.4 250.6L206.1 250.7L205.9 265.0L204.2 264.9zM204.8 222.0L206.5 222.1L206.4 227.2L204.7 227.1zM205.0 207.7L206.7 207.8L206.6 217.7L204.9 217.6zM205.3 260.3L207.0 260.4L206.9 265.2L205.2 265.0zM205.5 241.2L207.3 241.3L207.2 246.4L205.5 246.3zM205.7 226.9L207.5 227.0L207.4 232.1L205.7 232.0zM205.9 217.4L207.6 217.5L207.5 222.5L205.8 222.4zM206.5 246.1L208.2 246.2L208.1 256.1L206.4 255.9zM206.8 227.0L208.5 227.1L208.4 232.2L206.7 232.1zM207.5 246.2L209.2 246.4L209.0 265.5L207.2 265.3zM208.5 251.1L210.2 251.3L210.0 265.6L208.3 265.5zM209.4 256.1L211.2 256.2L211.0 265.8L209.3 265.6zM216.2 122.9L217.9 123.0L217.8 132.9L216.1 132.8zM217.1 132.6L218.8 132.7L218.7 142.6L217.0 142.5zM218.0 142.3L219.7 142.5L219.6 147.5L217.9 147.4zM218.2 123.1L219.9 123.3L219.9 128.4L218.2 128.2zM219.2 123.3L220.9 123.4L220.8 138.1L219.1 138.0zM219.7 166.6L221.4 166.7L221.4 171.8L219.7 171.7zM220.2 123.4L221.9 123.5L221.7 147.8L220.0 147.7zM220.7 171.5L222.4 171.7L222.3 181.6L220.6 181.4zM221.1 133.1L222.8 133.3L222.6 157.6L220.8 157.4zM221.6 181.3L223.3 181.5L223.2 191.4L221.5 191.2zM222.0 142.9L223.7 143.0L223.5 162.5L221.8 162.4zM222.5 191.1L224.2 191.2L224.1 201.2L222.4 201.0zM222.9 152.6L224.6 152.8L224.5 167.5L222.8 167.3zM223.4 200.9L225.1 201.1L225.0 211.0L223.3 210.8zM223.6 181.6L225.3 181.8L225.3 186.9L223.5 186.7zM223.8 162.4L225.5 162.6L225.4 172.5L223.7 172.3zM224.3 210.7L226.0 210.9L225.9 220.8L224.2 220.6zM224.6 186.6L226.3 186.8L226.2 196.7L224.5 196.5zM224.7 172.2L226.4 172.4L226.4 177.5L224.7 177.3zM225.2 220.5L226.9 220.7L226.8 230.6L225.1 230.4zM225.5 191.6L227.2 191.8L227.1 206.6L225.4 206.4zM226.1 230.3L227.8 230.6L227.7 240.5L226.0 240.3zM226.5 196.7L228.2 196.9L228.0 216.4L226.3 216.2zM227.0 240.2L228.7 240.4L228.6 250.4L226.9 250.1zM227.4 201.7L229.2 201.9L228.9 226.3L227.2 226.1zM228.3 124.6L230.0 124.8L229.9 129.9L228.2 129.8zM227.9 250.1L229.7 250.3L229.6 260.3L227.8 260.0zM228.4 211.5L230.1 211.8L229.8 236.2L228.1 235.9zM229.2 129.6L230.9 129.8L230.8 139.8L229.1 139.6zM228.9 260.0L230.6 260.2L230.5 269.9L228.8 269.6zM229.3 221.4L231.0 221.7L230.7 246.1L229.0 245.8zM230.1 139.5L231.8 139.7L231.7 149.6L230.0 149.4zM230.2 231.3L231.9 231.6L231.7 256.0L229.9 255.7zM231.1 241.2L232.8 241.5L232.6 265.9L230.9 265.6zM231.9 164.0L233.6 164.2L233.5 169.4L231.8 169.1zM232.0 251.1L233.8 251.4L233.6 270.7L231.8 270.4zM232.8 169.1L234.6 169.3L234.5 179.2L232.7 179.0zM233.0 261.1L234.7 261.4L234.6 271.0L232.9 270.7zM233.8 178.9L235.5 179.2L235.4 189.2L233.7 188.9zM234.7 188.9L236.4 189.1L236.3 199.1L234.6 198.8zM235.6 198.8L237.3 199.1L237.2 209.1L235.5 208.8zM236.5 208.8L238.2 209.1L238.2 219.0L236.4 218.7zM237.5 218.7L239.2 219.0L239.1 229.0L237.4 228.7zM238.4 228.7L240.1 229.0L240.1 234.2L238.3 233.9zM240.2 253.6L241.9 253.9L241.9 259.1L240.2 258.7zM241.2 258.8L242.9 259.1L242.8 269.1L241.1 268.8zM242.1 268.8L243.9 269.2L243.8 274.0L242.1 273.7zM243.3 128.1L245.0 128.4L244.9 138.4L243.2 138.1zM244.3 128.4L246.0 128.6L245.8 148.4L244.1 148.1zM245.3 133.5L247.0 133.8L246.8 158.4L245.1 158.1zM246.2 143.5L247.9 143.8L247.7 168.4L246.0 168.1zM247.1 153.5L248.8 153.8L248.7 168.7L247.0 168.4zM247.9 183.0L249.6 183.3L249.6 188.5L247.9 188.2zM248.1 163.5L249.8 163.8L249.7 173.9L248.0 173.6zM248.9 188.2L250.6 188.5L250.5 198.6L248.8 198.3zM249.0 173.6L250.7 173.9L250.7 179.1L249.0 178.8zM249.3 129.7L251.0 129.9L250.9 140.0L249.2 139.7zM249.9 193.4L251.6 193.8L251.5 208.7L249.8 208.4zM250.3 129.9L252.0 130.2L251.8 159.8L250.1 159.5zM486.7 296.1L488.4 295.4L488.6 301.6L486.9 302.3zM486.0 272.6L487.7 271.9L487.9 278.1L486.2 278.8zM488.4 282.8L490.1 282.0L490.6 299.9L488.9 300.8zM490.6 286.9L492.3 286.0L492.7 298.0L490.9 299.0zM490.0 233.3L491.7 232.3L492.1 244.3L490.3 245.3zM491.2 238.1L492.9 237.0L493.4 254.8L491.7 256.0zM489.2 173.9L490.9 172.8L491.1 179.0L489.4 180.0zM489.8 161.2L491.5 160.0L491.7 166.1L490.0 167.3zM494.9 288.2L496.6 286.6L496.8 292.7L495.0 294.3zM494.1 264.9L495.8 263.3L496.0 269.4L494.3 271.0zM491.7 189.1L493.5 187.7L493.6 193.9L491.9 195.3zM495.3 269.1L497.1 267.3L497.2 273.4L495.5 275.3z"/>
<path fill="#7bc27f" d="M121.7 158.0L123.5 152.7L123.2 163.2L121.5 168.5zM124.8 149.2L126.5 148.0L126.2 158.5L124.5 159.7zM124.4 199.0L126.1 197.9L125.8 208.4L124.1 209.5zM124.3 238.7L126.0 237.7L125.5 258.3L123.8 259.3zM124.5 268.2L126.2 267.3L126.0 277.4L124.2 278.3zM125.1 247.8L126.8 247.0L126.5 257.4L124.8 258.3zM125.8 257.1L127.5 256.3L127.3 266.7L125.5 267.6zM128.8 145.5L130.5 144.8L130.2 155.2L128.5 155.9zM128.4 195.5L130.1 194.8L129.9 205.2L128.2 205.9zM248.3 129.4L250.0 129.7L249.9 139.7L248.2 139.5zM249.2 139.4L250.9 139.7L250.8 154.7L249.1 154.4zM250.1 159.2L251.8 159.5L251.7 174.5L250.0 174.2zM486.2 278.5L487.9 277.8L488.4 295.7L486.7 296.4zM488.9 300.5L490.6 299.6L490.8 305.5L489.1 306.3zM489.7 293.7L491.5 292.8L491.8 304.5L490.1 305.5zM491.8 291.8L493.5 290.7L493.7 296.9L492.0 298.0zM491.7 255.7L493.4 254.5L493.6 260.6L491.9 261.8zM490.4 178.7L492.1 177.5L492.3 183.6L490.6 184.8zM490.0 167.0L491.7 165.8L491.9 172.0L490.2 173.1zM494.8 251.7L496.5 249.9L496.7 256.0L495.0 257.8z"/>
<path fill="#a2cd60" d="M122.0 147.8L123.7 142.4L123.5 153.0L121.7 158.3zM121.4 203.8L123.1 201.8L122.8 212.3L121.1 214.3zM121.8 222.2L123.5 220.6L123.2 231.1L121.5 232.7zM122.3 241.0L124.0 239.8L123.7 250.2L122.0 251.5zM123.9 179.8L125.6 178.6L125.4 189.1L123.7 190.3zM125.6 227.5L127.3 226.7L127.0 237.1L125.3 238.0zM126.8 256.3L128.5 255.5L128.3 266.0L126.6 266.7zM127.9 215.7L129.6 215.1L129.3 225.5L127.6 226.2zM128.9 215.1L130.6 214.4L130.4 224.8L128.6 225.5zM131.0 174.0L132.7 173.4L132.4 183.8L130.7 184.4zM245.3 128.6L247.0 128.9L247.0 134.1L245.3 133.8zM246.3 133.8L248.0 134.0L247.9 144.1L246.2 143.8zM487.7 295.4L489.4 294.6L489.6 300.8L487.9 301.6zM494.5 276.5L496.2 275.0L496.4 281.1L494.7 282.6zM495.5 275.0L497.2 273.1L497.4 279.2L495.7 281.1zM495.0 257.5L496.7 255.7L496.9 261.8L495.1 263.6z"/>
<path fill="#63bf9a" d="M119.7 265.2L121.4 263.1L121.1 273.6L119.4 275.7zM122.2 173.1L123.9 171.1L123.6 181.6L121.9 183.7zM124.1 209.2L125.8 208.1L125.6 218.6L123.8 219.7zM126.2 167.4L127.9 166.5L127.7 177.0L125.9 177.9zM129.2 165.1L130.9 164.4L130.7 174.9L129.0 175.5zM485.0 273.3L486.7 272.6L486.9 278.8L485.1 279.5zM486.9 302.0L488.6 301.3L488.8 307.1L487.0 307.9zM485.8 266.7L487.5 266.0L487.7 272.2L486.0 272.9zM487.2 277.8L488.9 277.0L489.1 283.1L487.3 283.9zM490.4 281.1L492.1 280.1L492.3 286.3L490.6 287.2zM494.0 295.3L495.7 294.0L495.9 299.8L494.2 301.2zM492.9 260.3L494.6 259.0L494.8 265.2L493.1 266.5zM495.8 249.9L497.5 247.5L497.7 253.5L496.0 256.0z"/>
<path fill="#ebdf2c" d="M120.0 255.0L121.7 252.8L121.4 263.4L119.7 265.5zM125.9 177.6L127.7 176.7L127.4 187.2L125.7 188.1zM131.0 134.1L132.8 133.5L132.5 143.9L130.8 144.5zM128.6 265.0L130.3 264.3L130.1 274.4L128.3 275.1zM131.3 163.9L133.0 163.3L132.7 173.7L131.0 174.3zM130.2 244.1L131.9 243.5L131.1 273.8L129.4 274.4zM132.0 173.4L133.7 173.0L132.4 223.7L130.7 224.2zM133.1 133.1L134.8 132.6L134.5 143.0L132.8 143.5zM130.9 253.6L132.6 253.1L132.1 273.2L130.4 273.8zM132.7 183.0L134.5 182.6L133.2 233.2L131.4 233.8zM133.8 142.7L135.5 142.3L135.2 152.7L133.5 153.1zM131.9 253.1L133.7 252.5L133.1 272.7L131.4 273.2zM133.8 182.6L135.5 182.2L133.9 242.8L132.2 243.3zM134.5 152.4L136.2 152.0L136.0 162.3L134.3 162.7zM132.7 262.6L134.4 262.1L134.2 272.1L132.4 272.7zM134.2 202.3L136.0 201.8L134.7 252.3L133.0 252.8zM135.3 162.0L137.0 161.7L136.7 172.0L135.0 172.4zM135.3 201.8L137.0 201.4L135.4 261.9L133.7 262.4zM136.0 171.7L137.7 171.4L137.5 181.7L135.8 182.1zM136.0 211.5L137.7 211.1L136.2 271.2L134.5 271.6zM136.8 181.4L138.5 181.1L138.2 191.4L136.5 191.7zM136.8 221.1L138.5 220.7L137.2 270.7L135.5 271.2zM137.5 191.1L139.3 190.7L139.0 201.0L137.3 201.4zM137.5 230.7L139.3 230.3L138.3 270.3L136.5 270.7zM138.3 200.7L140.0 200.3L139.8 210.6L138.1 211.0zM138.3 240.3L140.0 239.9L139.3 269.9L137.6 270.3zM139.1 210.3L140.8 209.9L140.5 220.2L138.8 220.6zM139.1 249.9L140.8 249.5L140.3 269.5L138.6 269.9zM139.8 219.9L141.5 219.5L141.3 229.8L139.6 230.2zM139.9 259.5L141.6 259.2L141.3 269.2L139.6 269.5zM140.6 229.5L142.3 229.2L142.1 239.5L140.4 239.8zM143.1 129.6L144.8 129.3L144.5 139.6L142.8 139.9zM141.4 239.2L143.1 238.8L142.8 249.1L141.1 249.5zM144.1 129.3L145.8 129.0L145.3 149.3L143.6 149.6zM142.4 238.8L144.1 238.5L143.6 258.8L141.9 259.1zM145.1 129.0L146.8 128.7L146.3 149.0L144.6 149.3zM143.2 248.5L144.9 248.2L144.4 268.2L142.7 268.5zM146.1 128.7L147.8 128.4L147.1 158.7L145.4 158.9zM144.0 258.2L145.7 257.9L145.4 267.9L143.7 268.2zM146.8 138.4L148.5 138.1L147.8 168.4L146.1 168.6zM147.8 138.1L149.6 137.9L148.6 178.1L146.9 178.3zM148.6 147.9L150.3 147.6L149.4 187.8L147.7 188.1zM149.1 127.9L150.8 127.7L150.6 137.9L148.9 138.2zM149.4 157.6L151.1 157.3L150.2 197.5L148.4 197.8zM150.1 127.7L151.8 127.4L151.6 137.7L149.9 137.9zM150.2 167.3L151.9 167.0L150.9 207.2L149.2 207.5zM151.1 127.4L152.8 127.1L152.1 157.4L150.4 157.6zM150.9 177.0L152.6 176.8L151.7 217.0L150.0 217.2zM151.9 137.1L153.6 136.9L152.9 167.1L151.2 167.3zM151.7 186.7L153.4 186.5L152.5 226.7L150.8 226.9zM152.4 156.8L154.1 156.6L153.7 176.8L151.9 177.1zM152.5 196.5L154.2 196.3L153.3 236.5L151.6 236.7zM153.4 156.6L155.1 156.3L154.4 186.6L152.7 186.8zM154.1 126.6L155.8 126.4L155.6 136.7L153.9 136.9zM153.3 206.2L155.0 206.0L154.1 246.2L152.4 246.4zM154.2 166.3L155.9 166.1L155.4 186.4L153.7 186.6zM155.1 126.4L156.8 126.2L156.4 146.5L154.6 146.7zM154.1 216.0L155.8 215.8L154.9 256.0L153.2 256.2zM155.0 176.1L156.7 175.9L156.2 196.1L154.5 196.3zM156.1 126.2L157.8 126.0L157.1 156.2L155.4 156.4zM155.1 215.8L156.8 215.6L155.7 265.5L154.0 265.7zM155.8 185.9L157.5 185.7L157.0 205.9L155.3 206.1zM157.1 126.0L158.8 125.8L158.1 156.0L156.4 156.2zM155.9 225.6L157.6 225.4L156.7 265.3L155.0 265.5zM156.5 195.7L158.3 195.5L157.8 215.7L156.1 215.9zM158.1 125.8L159.8 125.6L158.9 165.8L157.2 166.0zM156.7 235.4L158.4 235.2L158.0 255.5L156.2 255.6zM157.6 195.5L159.3 195.3L158.6 225.5L156.9 225.7zM159.1 125.6L160.8 125.4L159.7 175.6L158.0 175.8zM157.5 245.2L159.2 245.0L158.8 265.0L157.0 265.2zM158.4 205.3L160.1 205.1L159.4 235.4L157.7 235.5zM159.0 175.3L160.7 175.2L160.5 185.5L158.8 185.6zM159.9 135.4L161.6 135.2L160.9 165.5L159.2 165.7zM158.3 255.0L160.0 254.9L159.8 264.8L158.1 265.0zM159.1 215.1L160.9 214.9L160.2 245.2L158.5 245.3zM160.7 145.2L162.4 145.1L161.3 195.3L159.6 195.4zM159.9 224.9L161.7 224.8L161.0 255.0L159.3 255.2zM161.5 155.1L163.2 154.9L162.1 205.1L160.4 205.3zM160.8 234.8L162.5 234.6L161.8 264.6L160.1 264.7zM161.8 184.8L163.5 184.7L162.9 215.0L161.2 215.1zM162.3 164.9L164.0 164.7L163.8 175.0L162.0 175.2zM163.1 125.0L164.8 124.8L164.6 135.1L162.9 135.2zM161.6 244.6L163.3 244.5L162.9 264.4L161.1 264.6zM163.1 174.7L164.8 174.6L163.7 224.8L162.0 224.9zM164.1 124.8L165.8 124.7L165.4 144.9L163.7 145.1zM162.4 254.5L164.1 254.3L163.9 264.3L162.2 264.4zM163.9 184.6L165.6 184.5L164.5 234.7L162.8 234.8zM164.9 134.7L166.6 134.5L166.2 154.8L164.5 154.9zM164.7 194.4L166.4 194.3L165.3 244.5L163.6 244.7zM165.7 144.5L167.4 144.4L167.0 164.7L165.3 164.8zM165.5 204.3L167.2 204.2L166.1 254.4L164.4 254.5zM166.5 154.4L168.2 154.3L167.8 174.5L166.1 174.7zM166.3 214.2L168.0 214.1L167.0 264.0L165.2 264.1zM167.5 154.3L169.2 154.2L168.6 184.4L166.9 184.5zM167.1 224.1L168.8 224.0L168.0 263.9L166.3 264.0zM168.3 164.2L170.0 164.0L169.4 194.3L167.7 194.4zM167.9 234.0L169.6 233.9L169.0 263.9L167.3 263.9zM169.1 174.0L170.8 173.9L170.4 194.2L168.7 194.3zM168.7 243.9L170.4 243.8L170.0 263.8L168.3 263.9zM169.9 183.9L171.6 183.7L171.0 214.0L169.3 214.2zM169.5 253.8L171.3 253.7L171.1 263.7L169.3 263.8zM170.7 193.7L172.4 193.6L172.1 213.9L170.3 214.0zM171.4 213.6L173.1 213.5L172.9 223.9L171.2 224.0zM172.4 213.5L174.1 213.4L173.7 233.8L172.0 233.9zM173.1 226.2L174.9 226.1L174.5 245.1L172.8 245.2zM174.0 235.4L175.7 235.4L175.3 254.4L173.6 254.5zM174.8 244.8L176.5 244.7L176.2 263.5L174.5 263.5zM177.1 122.9L178.9 122.7L178.8 127.7L177.1 127.9zM175.7 254.1L177.4 254.1L177.2 263.4L175.5 263.5zM177.9 136.8L179.6 136.7L179.5 141.7L177.8 141.8zM178.2 122.7L179.9 122.6L179.8 127.6L178.1 127.7zM178.9 136.7L180.6 136.6L180.3 151.0L178.6 151.1zM179.8 141.3L181.5 141.2L181.2 160.3L179.5 160.4zM180.7 145.9L182.4 145.8L182.0 169.6L180.3 169.7zM181.2 122.3L182.9 122.2L182.8 127.2L181.1 127.3zM181.6 155.2L183.3 155.1L182.8 178.9L181.1 179.0zM182.2 122.2L183.9 122.1L183.6 136.5L181.9 136.6zM182.4 164.5L184.1 164.4L183.7 188.3L182.0 188.3zM183.2 122.1L184.9 122.0L184.5 141.2L182.8 141.2zM183.2 173.8L184.9 173.8L184.5 197.7L182.8 197.7zM184.2 122.0L185.9 121.9L185.5 141.1L183.8 141.2zM184.1 183.2L185.8 183.2L185.4 207.1L183.7 207.1zM184.6 154.9L186.3 154.9L186.1 164.6L184.4 164.7zM185.2 121.9L186.9 121.9L186.5 145.8L184.7 145.8zM184.9 192.6L186.6 192.6L186.2 216.5L184.5 216.5zM185.5 159.6L187.2 159.6L187.0 174.0L185.3 174.1zM186.2 121.9L187.9 121.8L187.4 150.4L185.7 150.5zM185.8 202.1L187.5 202.1L187.1 226.0L185.4 226.0zM186.4 164.3L188.1 164.3L187.8 183.5L186.1 183.5zM187.2 121.8L188.9 121.8L188.3 155.1L186.6 155.2zM186.6 211.5L188.3 211.5L187.9 235.5L186.2 235.4zM187.4 169.0L189.1 169.0L188.7 192.9L187.0 192.9zM188.2 121.8L189.9 121.7L189.2 159.8L187.5 159.9zM187.5 221.0L189.2 221.0L188.8 244.9L187.1 244.9zM188.3 173.7L190.0 173.7L189.5 202.4L187.8 202.4zM189.2 121.7L190.9 121.7L190.2 159.8L188.5 159.8zM188.3 230.4L190.1 230.5L189.7 254.4L187.9 254.4zM189.3 173.7L191.0 173.7L190.4 211.9L188.7 211.8zM190.0 131.2L191.7 131.1L191.2 164.6L189.5 164.6zM189.2 239.9L190.9 240.0L190.5 263.6L188.8 263.6zM190.2 178.4L191.9 178.5L191.2 221.3L189.5 221.3zM190.9 140.6L192.6 140.6L192.1 169.3L190.4 169.3zM190.1 249.4L191.8 249.5L191.6 263.7L189.8 263.6zM191.2 183.2L192.9 183.2L192.1 230.8L190.4 230.8zM191.7 150.1L193.4 150.1L193.0 174.0L191.3 174.0zM190.9 259.0L192.7 259.0L192.6 263.8L190.9 263.7zM192.1 187.9L193.8 188.0L193.0 240.4L191.2 240.3zM192.5 164.3L194.2 164.3L194.0 178.8L192.3 178.8zM193.0 192.7L194.7 192.7L193.8 249.9L192.1 249.8zM193.3 173.7L195.0 173.8L195.0 178.8L193.3 178.8zM194.0 192.7L195.8 192.8L194.7 259.4L193.0 259.4zM195.0 197.5L196.7 197.5L195.7 264.0L193.9 263.9zM195.9 202.3L197.6 202.3L196.7 264.0L195.0 264.0zM196.8 211.8L198.5 211.9L197.7 264.1L196.0 264.0zM197.7 221.4L199.4 221.5L198.7 264.2L197.0 264.1zM198.5 231.0L200.3 231.1L199.8 264.3L198.0 264.2zM200.2 121.7L201.9 121.7L201.8 131.5L200.1 131.5zM199.4 240.6L201.1 240.7L200.8 264.4L199.1 264.3zM201.2 121.7L202.9 121.7L202.6 141.1L200.9 141.0zM200.3 250.2L202.0 250.3L201.8 264.5L200.1 264.4zM202.1 126.5L203.8 126.5L203.5 150.6L201.8 150.6zM201.2 259.8L202.9 259.9L202.8 264.7L201.1 264.5zM203.0 136.1L204.7 136.1L204.4 160.2L202.6 160.2zM203.9 145.6L205.6 145.7L205.2 169.8L203.5 169.7zM204.2 121.8L205.9 121.9L205.8 126.9L204.1 126.9zM204.7 155.2L206.4 155.3L206.1 179.4L204.4 179.3zM205.1 126.6L206.8 126.7L206.7 136.5L205.0 136.5zM205.6 164.8L207.3 164.9L207.0 189.1L205.3 189.0zM206.0 136.2L207.7 136.3L207.6 146.2L205.9 146.1zM206.5 174.5L208.2 174.6L207.9 198.7L206.1 198.6zM206.9 145.9L208.6 145.9L208.5 155.8L206.7 155.7zM207.4 184.1L209.1 184.2L208.7 208.4L207.0 208.2zM207.8 155.5L209.5 155.6L209.3 165.4L207.6 165.3zM208.2 193.7L209.9 193.9L209.6 218.0L207.9 217.9zM208.6 165.1L210.3 165.2L210.2 175.1L208.5 175.0zM209.1 203.4L210.8 203.5L210.5 227.7L208.8 227.6zM209.5 174.8L211.2 174.9L211.1 184.7L209.4 184.6zM210.2 122.3L211.9 122.4L211.9 127.4L210.2 127.3zM210.0 213.1L211.7 213.2L211.4 237.4L209.7 237.3zM210.4 184.4L212.1 184.6L212.0 194.4L210.3 194.3zM211.1 131.9L212.8 132.0L212.7 137.1L211.0 137.0zM211.2 122.4L212.9 122.5L212.9 127.5L211.2 127.4zM210.6 241.9L212.4 242.0L212.3 247.1L210.6 247.0zM210.9 222.8L212.6 222.9L212.4 237.6L210.7 237.4zM211.3 194.1L213.0 194.2L212.9 204.1L211.1 204.0zM212.0 136.8L213.7 136.9L213.6 146.8L211.9 146.6zM212.2 122.5L213.9 122.6L213.9 127.6L212.2 127.5zM211.6 246.8L213.3 247.0L213.3 252.1L211.5 251.9zM211.8 232.5L213.5 232.6L213.4 242.5L211.7 242.3zM212.2 203.8L213.9 203.9L213.8 213.8L212.0 213.7zM213.0 141.7L214.7 141.8L214.5 156.4L212.8 156.3zM212.7 242.2L214.4 242.4L214.2 257.0L212.5 256.8zM213.1 213.5L214.8 213.7L214.6 223.5L212.9 223.4zM214.0 141.8L215.7 141.9L215.4 166.1L213.7 166.0zM213.6 251.9L215.3 252.1L215.2 262.0L213.5 261.8zM213.9 223.2L215.7 223.4L215.5 233.3L213.8 233.1zM214.9 151.5L216.6 151.6L216.3 175.8L214.6 175.7zM214.5 261.7L216.2 261.9L216.1 266.6L214.4 266.5zM214.8 233.0L216.6 233.1L216.4 243.0L214.7 242.8zM215.8 161.2L217.5 161.3L217.2 185.6L215.4 185.4zM215.7 242.7L217.5 242.9L217.3 252.8L215.6 252.6zM216.6 170.9L218.3 171.0L218.1 195.3L216.3 195.1zM217.2 123.0L218.9 123.1L218.8 133.0L217.1 132.9zM216.6 252.5L218.4 252.7L218.3 257.8L216.6 257.6zM217.5 180.6L219.2 180.8L219.0 205.0L217.2 204.9zM218.2 127.9L219.9 128.1L219.7 142.8L218.0 142.6zM217.6 262.2L219.3 262.4L219.2 267.2L217.5 267.0zM218.4 190.4L220.1 190.5L219.9 214.8L218.1 214.6zM219.1 137.7L220.8 137.8L220.6 152.5L218.9 152.3zM219.3 200.1L221.0 200.3L220.8 224.6L219.0 224.4zM220.0 147.4L221.7 147.5L221.5 157.4L219.8 157.3zM220.2 209.9L221.9 210.1L221.7 234.4L219.9 234.2zM220.8 157.1L222.6 157.3L222.5 162.4L220.8 162.2zM221.1 219.7L222.8 219.9L222.6 244.2L220.9 244.0zM221.6 176.5L223.3 176.7L223.3 181.8L221.6 181.6zM222.0 229.5L223.8 229.7L223.5 254.0L221.8 253.8zM222.6 176.7L224.4 176.8L224.2 191.5L222.5 191.4zM222.9 239.3L224.7 239.5L224.4 263.8L222.7 263.6zM223.5 186.4L225.3 186.6L225.1 201.4L223.4 201.2zM223.9 249.1L225.6 249.4L225.4 268.6L223.6 268.4zM224.5 196.2L226.2 196.4L226.0 211.2L224.3 211.0zM225.3 124.1L227.0 124.3L226.9 129.4L225.2 129.2zM224.8 259.0L226.5 259.2L226.4 268.8L224.7 268.6zM225.4 206.1L227.1 206.3L226.9 221.0L225.2 220.8zM226.3 215.9L228.0 216.1L227.8 230.9L226.1 230.6zM227.0 143.7L228.8 143.9L228.7 149.0L227.0 148.8zM227.2 225.8L228.9 226.0L228.7 240.7L227.0 240.5zM228.0 148.7L229.7 148.9L229.6 158.8L227.9 158.6zM228.1 235.6L229.8 235.9L229.7 250.6L227.9 250.4zM228.9 158.5L230.6 158.7L230.5 168.7L228.8 168.5zM229.0 245.5L230.7 245.8L230.6 260.5L228.9 260.3zM229.8 168.4L231.5 168.6L231.4 178.5L229.7 178.3zM229.9 255.4L231.7 255.7L231.5 270.2L229.8 269.9zM230.7 178.2L232.4 178.5L232.3 188.4L230.6 188.2zM230.9 265.3L232.6 265.6L232.5 270.4L230.8 270.2zM231.6 188.1L233.4 188.4L233.3 198.3L231.5 198.1zM232.6 198.0L234.3 198.3L234.2 208.2L232.5 208.0zM233.5 207.9L235.2 208.2L235.1 213.3L233.4 213.1zM235.3 126.0L237.0 126.3L236.9 131.4L235.2 131.2zM235.3 232.7L237.0 233.0L237.0 238.1L235.2 237.8zM236.2 136.0L237.9 136.2L237.8 141.4L236.1 141.1zM236.3 126.3L238.0 126.6L237.9 131.7L236.2 131.4zM236.3 237.8L238.0 238.1L237.9 248.1L236.2 247.8zM237.1 141.1L238.9 141.3L238.8 151.3L237.1 151.0zM237.2 247.8L238.9 248.1L238.8 258.1L237.1 257.8zM238.1 146.2L239.8 146.4L239.7 161.3L238.0 161.0zM238.1 257.8L239.8 258.1L239.8 268.1L238.0 267.8zM239.0 156.1L240.7 156.4L240.6 171.2L238.9 170.9zM239.1 267.8L240.8 268.1L240.7 273.0L239.0 272.6zM239.9 166.1L241.7 166.4L241.5 181.2L239.8 180.9zM240.3 127.3L242.0 127.6L241.9 132.7L240.2 132.5zM240.9 176.1L242.6 176.3L242.5 191.2L240.7 190.9zM241.3 127.6L243.0 127.9L242.9 142.7L241.2 142.4zM241.8 186.0L243.5 186.3L243.4 196.3L241.7 196.0zM242.3 127.9L244.0 128.1L243.8 152.7L242.1 152.4zM242.7 196.0L244.4 196.4L244.4 201.5L242.7 201.2zM243.2 137.8L244.9 138.1L244.8 153.0L243.1 152.7zM243.6 215.8L245.3 216.1L245.3 221.3L243.5 220.9zM244.0 167.2L245.7 167.5L245.7 172.7L243.9 172.4zM244.1 147.8L245.8 148.1L245.8 158.1L244.1 157.8zM244.6 221.0L246.3 221.3L246.2 231.3L244.5 231.0zM245.0 172.4L246.7 172.7L246.6 182.7L244.9 182.4zM245.1 157.8L246.8 158.1L246.7 163.2L245.0 163.0zM245.5 226.2L247.3 226.5L247.2 241.4L245.4 241.1zM245.9 177.5L247.6 177.8L247.5 192.7L245.8 192.4zM246.5 236.3L248.2 236.6L248.1 251.5L246.4 251.2zM246.9 182.7L248.6 183.0L248.5 202.8L246.7 202.5zM247.4 246.4L249.2 246.7L249.0 261.7L247.3 261.3zM247.8 192.8L249.5 193.1L249.4 212.9L247.7 212.6zM248.4 256.5L250.1 256.9L250.0 271.8L248.3 271.4zM248.7 207.7L250.5 208.1L250.3 223.0L248.6 222.7zM249.0 178.5L250.7 178.8L250.6 184.0L248.9 183.6zM249.3 266.7L251.1 267.1L251.0 276.9L249.3 276.4zM249.9 188.5L251.6 188.9L251.6 194.1L249.9 193.7zM493.3 272.0L495.0 270.7L495.4 282.6L493.7 284.0zM496.4 267.3L498.1 264.8L498.3 270.9L496.5 273.4z"/>
<path fill="#f8c81f" d="M120.2 244.7L122.0 242.6L121.7 253.1L120.0 255.3zM121.0 252.8L122.7 251.2L122.4 261.8L120.7 263.4zM123.8 150.7L125.5 149.2L125.2 159.7L123.5 161.2zM121.4 271.7L123.2 270.3L122.9 280.5L121.2 281.9zM122.0 251.2L123.7 249.9L123.4 260.4L121.7 261.8zM124.5 159.4L126.2 158.2L125.9 168.7L124.2 169.9zM122.7 260.1L124.5 259.0L124.2 269.5L122.5 270.6zM131.5 153.7L133.2 153.3L133.0 163.6L131.3 164.2zM188.4 169.0L190.1 169.0L190.0 174.0L188.3 174.0zM189.4 169.0L191.1 169.0L191.0 174.0L189.3 174.0zM190.3 173.7L192.0 173.7L191.9 178.8L190.2 178.7zM191.2 178.5L193.0 178.5L192.9 183.5L191.2 183.5zM192.3 178.5L194.0 178.5L193.8 188.3L192.1 188.2zM193.2 183.2L194.9 183.2L194.7 193.0L193.0 193.0zM194.1 188.0L195.8 188.0L195.8 193.1L194.0 193.0zM195.1 188.0L196.8 188.1L196.7 197.8L195.0 197.8zM196.1 192.8L197.8 192.8L197.6 202.6L195.9 202.6zM197.0 197.6L198.7 197.6L198.6 207.4L196.9 207.4zM198.0 197.6L199.7 197.7L199.5 212.3L197.8 212.2zM199.0 202.5L200.7 202.5L200.5 212.3L198.8 212.3zM199.9 207.3L201.6 207.4L201.5 217.2L199.8 217.1zM200.9 212.1L202.6 212.2L202.5 217.3L200.8 217.2zM201.9 212.2L203.6 212.3L203.5 217.3L201.8 217.3zM224.2 128.8L225.9 128.9L225.8 134.1L224.1 133.9zM225.2 128.9L226.9 129.1L226.8 139.0L225.1 138.9zM226.2 129.1L227.9 129.3L227.7 144.0L226.0 143.8zM227.2 134.1L228.9 134.3L228.8 144.2L227.0 144.0zM228.1 139.1L229.8 139.3L229.7 149.2L228.0 149.0zM229.1 144.1L230.8 144.3L230.7 154.2L229.0 154.0zM230.0 149.1L231.7 149.3L231.6 159.3L229.9 159.0zM231.0 149.3L232.7 149.5L232.6 164.3L230.9 164.1zM232.0 154.3L233.7 154.6L233.6 164.5L231.9 164.3zM232.9 159.4L234.6 159.6L234.6 169.6L232.8 169.4zM233.9 164.5L235.6 164.7L235.5 174.7L233.8 174.4zM234.9 164.7L236.6 165.0L236.5 174.9L234.8 174.7zM235.9 169.8L237.6 170.1L237.5 175.2L235.8 174.9zM248.0 173.3L249.7 173.6L249.7 178.8L247.9 178.4zM249.6 227.6L251.3 228.0L251.3 233.2L249.6 232.8zM496.5 273.1L498.3 270.6L498.4 276.7L496.7 279.2zM497.7 276.4L499.5 270.3L499.7 276.3L497.9 282.5z"/>
<path fill="#69bf92" d="M121.6 193.6L123.3 191.5L123.1 202.1L121.4 204.1zM120.4 273.3L122.1 271.7L121.9 281.9L120.1 283.5zM122.4 201.8L124.1 200.2L123.8 210.7L122.1 212.3zM122.9 181.3L124.6 179.8L124.4 190.3L122.6 191.8zM123.1 210.4L124.8 209.2L124.5 219.7L122.8 220.9zM123.8 219.4L125.6 218.3L125.3 228.8L123.6 229.9zM124.9 218.3L126.6 217.4L126.3 227.8L124.6 228.8zM125.5 267.3L127.3 266.4L127.0 276.6L125.3 277.4zM126.6 266.4L128.3 265.7L128.0 275.8L126.3 276.6zM130.0 174.6L131.7 174.0L131.4 184.4L129.7 185.0zM262.3 133.2L264.0 133.4L263.3 281.9L261.6 281.5zM263.3 133.4L265.0 133.7L264.3 282.3L262.6 281.9zM284.4 140.1L286.1 140.4L285.8 291.2L284.1 290.8zM301.4 146.6L303.1 147.0L303.3 298.4L301.5 298.0zM318.5 152.8L320.2 153.1L320.7 305.6L319.0 305.2zM488.2 277.0L489.9 276.1L490.1 282.3L488.4 283.1zM489.2 276.1L490.9 275.2L491.1 281.4L489.4 282.3zM491.6 286.0L493.3 284.9L493.5 291.0L491.8 292.1zM489.8 227.5L491.5 226.5L491.7 232.6L490.0 233.6zM492.8 290.7L494.5 289.5L494.7 295.6L493.0 296.9zM490.6 184.5L492.3 183.3L492.4 189.4L490.7 190.6z"/>
<path fill="#86c476" d="M122.5 162.9L124.2 160.9L123.9 171.4L122.2 173.4zM124.0 140.4L125.7 139.0L125.5 149.5L123.8 151.0zM122.8 220.6L124.5 219.4L124.3 229.9L122.5 231.1zM123.6 229.6L125.3 228.5L124.7 249.1L123.0 250.2zM123.8 259.0L125.5 258.0L125.2 268.5L123.5 269.5zM125.1 208.1L126.8 207.2L126.6 217.7L124.9 218.6zM125.3 237.7L127.0 236.8L126.8 247.3L125.1 248.1zM129.5 154.9L131.2 154.3L130.9 164.7L129.2 165.4zM129.4 234.6L131.1 234.0L130.9 244.4L129.1 245.0zM247.3 129.2L249.0 129.4L249.0 134.6L247.3 134.3zM248.2 139.2L249.9 139.4L249.8 154.4L248.1 154.1zM249.1 154.1L250.8 154.4L250.7 174.2L249.0 173.9zM250.0 173.9L251.7 174.2L251.6 184.3L249.9 184.0zM489.4 282.0L491.1 281.1L491.5 293.1L489.7 294.0zM492.0 297.7L493.7 296.6L493.9 302.4L492.2 303.5zM493.0 296.6L494.7 295.3L494.9 301.2L493.2 302.4zM491.9 261.5L493.6 260.3L494.0 272.3L492.3 273.5zM488.8 162.2L490.5 161.2L490.9 173.1L489.2 174.2zM490.2 172.8L491.9 171.7L492.1 177.8L490.4 179.0zM491.6 183.3L493.3 181.9L493.5 188.0L491.7 189.4zM496.1 292.4L497.8 290.5L498.0 296.3L496.3 298.2z"/>
<path fill="#91c76c" d="M122.1 212.0L123.8 210.4L123.5 220.9L121.8 222.5zM123.2 171.1L124.9 169.6L124.6 180.1L122.9 181.6zM122.5 230.8L124.3 229.6L124.0 240.1L122.3 241.3zM123.0 249.9L124.7 248.8L124.5 259.3L122.7 260.4zM125.9 217.4L127.6 216.5L127.3 227.0L125.6 227.8zM126.1 247.0L127.8 246.2L127.5 256.6L125.8 257.4zM128.6 225.2L130.4 224.5L130.1 234.9L128.4 235.6zM130.2 164.4L132.0 163.9L131.7 174.3L130.0 174.9zM129.7 224.5L131.4 223.9L131.1 234.3L129.4 234.9zM132.1 133.5L133.8 133.1L133.5 143.5L131.8 143.9zM246.3 128.9L248.0 129.2L248.0 134.3L246.3 134.1zM247.3 134.0L249.0 134.3L248.8 154.1L247.1 153.8zM248.1 153.8L249.8 154.1L249.8 164.1L248.1 163.8zM487.9 301.3L489.6 300.5L489.8 306.3L488.1 307.1zM487.3 283.6L489.1 282.8L489.4 294.9L487.7 295.7zM490.9 298.7L492.7 297.7L492.9 303.5L491.1 304.5zM494.7 282.3L496.4 280.8L496.6 286.9L494.9 288.5zM494.3 270.7L496.0 269.1L496.2 275.3L494.5 276.8zM496.0 255.7L497.7 253.2L497.9 259.3L496.2 261.8z"/>
<path fill="#54beb3" d="M126.0 137.9L127.7 136.9L127.5 147.4L125.8 148.3zM126.8 147.1L128.5 146.2L128.2 156.7L126.5 157.5zM127.5 156.4L129.2 155.6L128.7 176.2L127.0 177.0zM128.2 165.8L129.9 165.1L129.7 175.5L128.0 176.2zM387.6 247.8L389.3 248.0L389.6 267.1L387.9 267.0zM388.1 210.4L389.8 210.6L390.1 229.7L388.4 229.5zM390.4 304.5L392.2 304.6L392.4 323.4L390.7 323.3zM389.4 229.4L391.1 229.6L391.4 248.6L389.7 248.5zM398.8 249.4L400.5 249.6L400.8 268.5L399.1 268.4zM398.2 212.1L399.9 212.3L400.2 231.2L398.5 231.1zM399.9 193.8L401.6 193.9L401.9 212.9L400.2 212.7zM438.0 189.7L439.7 189.7L439.8 196.0L438.1 196.1zM439.7 220.0L441.4 219.9L441.6 232.3L439.9 232.4zM438.8 183.6L440.6 183.6L440.8 196.0L439.1 196.0zM441.2 244.1L442.9 244.0L443.1 250.4L441.3 250.5zM440.8 226.0L442.5 225.9L442.6 232.2L440.9 232.3zM443.2 286.4L444.9 286.3L445.0 292.6L443.3 292.7zM442.2 244.0L443.9 243.9L444.1 250.3L442.4 250.4zM444.2 286.3L445.9 286.1L446.5 310.6L444.7 310.7zM445.5 298.2L447.2 298.1L447.3 304.4L445.6 304.6zM454.0 188.1L455.7 188.0L456.0 200.3L454.3 200.5zM455.8 218.0L457.5 217.8L457.8 230.1L456.1 230.3zM455.0 188.0L456.8 187.8L457.4 212.1L455.6 212.3zM457.0 223.8L458.7 223.6L459.3 247.9L457.6 248.1zM455.9 181.8L457.6 181.6L457.9 193.9L456.2 194.1zM459.5 283.5L461.2 283.3L461.3 289.6L459.6 289.8zM458.1 229.6L459.8 229.4L460.3 247.6L458.6 247.9zM457.8 217.6L459.5 217.4L459.7 223.7L458.0 223.9zM460.6 289.3L462.4 289.0L462.5 295.3L460.8 295.6zM460.2 271.3L461.9 271.0L462.2 283.3L460.5 283.6zM459.3 235.4L461.0 235.1L461.1 241.4L459.4 241.7zM461.1 265.1L462.8 264.8L463.4 289.0L461.7 289.3zM458.8 175.3L460.5 175.1L460.6 181.4L458.9 181.6zM460.5 205.0L462.2 204.8L462.5 217.0L460.8 217.3zM459.8 175.1L461.5 174.9L461.6 181.2L459.9 181.4zM462.2 228.7L463.9 228.4L464.2 240.7L462.5 240.9zM461.4 198.8L463.1 198.6L463.6 216.8L461.8 217.0zM463.8 252.3L465.5 252.0L465.8 264.3L464.1 264.6zM463.3 234.4L465.0 234.1L465.3 246.4L463.6 246.6zM465.9 293.8L467.6 293.5L468.1 311.7L466.4 312.0zM464.8 252.0L466.5 251.8L466.7 258.0L465.0 258.3zM467.1 299.5L468.8 299.2L469.1 311.4L467.4 311.7zM466.8 287.6L468.5 287.2L468.6 293.5L466.9 293.8zM470.3 190.3L472.0 190.0L472.6 214.1L470.9 214.4zM472.6 237.5L474.3 237.1L474.6 249.3L472.9 249.7zM471.6 201.9L473.3 201.5L473.5 207.8L471.8 208.1zM473.6 237.1L475.3 236.7L475.8 254.8L474.1 255.2zM476.1 290.1L477.8 289.6L478.0 295.8L476.3 296.3zM475.1 254.5L476.8 254.1L477.0 260.3L475.3 260.7zM477.6 307.4L479.4 306.9L479.5 312.8L477.8 313.3zM483.4 256.3L485.1 255.7L485.5 267.7L483.8 268.4zM484.4 255.7L486.1 255.0L486.3 261.2L484.6 261.8zM483.9 202.1L485.6 201.4L485.7 207.6L484.0 208.2zM483.5 190.3L485.2 189.6L485.4 195.8L483.7 196.5zM486.8 266.0L488.5 265.2L488.7 271.4L487.0 272.2zM486.1 206.6L487.8 205.8L488.1 217.8L486.4 218.6zM489.0 270.3L490.8 269.4L490.9 275.5L489.2 276.4zM487.6 223.4L489.3 222.5L489.5 228.7L487.8 229.5zM489.0 234.2L490.7 233.3L490.9 239.5L489.2 240.4zM488.6 222.5L490.3 221.6L490.5 227.8L488.8 228.7zM487.8 163.1L489.5 162.2L489.7 168.3L488.0 169.3zM492.4 242.8L494.1 241.6L494.3 247.7L492.6 249.0zM492.1 200.8L493.8 199.4L494.0 205.5L492.3 206.9zM491.0 165.8L492.7 164.5L492.9 170.6L491.2 172.0zM493.1 199.4L494.8 197.7L495.0 203.8L493.3 205.5zM493.6 180.2L495.3 178.0L495.5 184.1L493.8 186.3zM495.7 212.7L497.4 207.0L497.6 213.1L495.9 218.8z"/>
<path fill="#4bbcbe" d="M128.0 175.9L129.7 175.2L129.4 185.6L127.7 186.4zM128.7 185.3L130.4 184.7L130.1 195.1L128.4 195.8zM129.4 194.8L131.2 194.2L130.9 204.6L129.2 205.2zM130.2 204.3L131.9 203.7L131.6 214.1L129.9 214.7zM387.1 210.2L388.8 210.4L389.1 229.5L387.4 229.3zM389.4 304.4L391.1 304.5L391.4 323.3L389.7 323.2zM388.6 248.0L390.4 248.2L390.6 267.3L388.9 267.1zM388.9 191.8L390.6 192.0L390.8 211.1L389.1 210.9zM400.7 305.5L402.4 305.5L402.7 324.2L400.9 324.1zM400.5 231.0L402.2 231.2L402.5 250.1L400.8 250.0zM477.0 211.7L478.7 211.3L479.0 223.4L477.3 223.9zM483.2 250.4L485.0 249.8L485.1 256.0L483.4 256.6zM482.3 185.0L484.0 184.4L484.4 196.5L482.7 197.1zM484.9 201.4L486.6 200.7L486.9 212.7L485.2 213.4zM486.4 218.3L488.1 217.5L488.3 223.7L486.6 224.5zM487.8 229.2L489.5 228.4L489.7 234.5L488.0 235.4zM487.2 211.7L489.0 210.8L489.1 217.0L487.4 217.8zM490.2 275.2L492.0 274.3L492.1 280.4L490.4 281.4zM488.4 216.7L490.1 215.8L490.3 221.9L488.6 222.8zM490.3 245.0L492.1 244.0L492.2 250.1L490.5 251.2zM489.4 215.8L491.2 214.8L491.3 220.9L489.6 221.9zM491.0 232.3L492.7 231.2L492.9 237.3L491.2 238.4zM493.6 247.4L495.3 245.9L495.5 252.0L493.8 253.5zM493.2 235.7L494.9 234.3L495.1 240.4L493.4 241.9zM493.5 211.0L495.2 209.3L495.4 215.4L493.7 217.1zM494.5 209.3L496.2 206.9L496.4 213.0L494.7 215.4zM495.0 189.6L496.7 184.0L496.8 190.0L495.1 195.7z"/>
<path fill="#41b9c9" d="M134.5 192.2L136.2 191.8L136.0 202.1L134.2 202.6zM137.3 201.1L139.0 200.7L138.8 211.0L137.0 211.4zM140.1 209.9L141.8 209.6L141.5 219.8L139.8 220.2zM142.9 218.9L144.6 218.5L144.4 228.8L142.6 229.2zM147.1 128.4L148.8 128.2L148.5 138.4L146.8 138.7zM146.7 227.7L148.4 227.4L148.2 237.7L146.5 237.9zM149.9 137.6L151.6 137.4L151.3 147.6L149.6 147.9zM149.5 236.9L151.3 236.6L151.0 246.9L149.3 247.1zM152.6 146.8L154.3 146.6L154.1 156.9L152.4 157.1zM153.6 146.6L155.3 146.4L155.1 156.6L153.4 156.9zM152.4 246.1L154.1 245.9L153.9 256.2L152.1 256.4zM155.4 156.1L157.1 155.9L156.9 166.2L155.2 166.4zM156.4 155.9L158.1 155.7L157.9 166.0L156.2 166.2zM156.2 255.3L158.0 255.2L157.7 265.2L156.0 265.3zM159.2 165.4L160.9 165.2L160.7 175.5L159.0 175.6zM162.0 174.9L163.8 174.7L163.5 185.0L161.8 185.1zM164.9 184.5L166.6 184.3L166.4 194.6L164.7 194.7zM165.9 184.3L167.6 184.2L167.4 194.5L165.7 194.6zM167.7 194.1L169.4 194.0L169.2 204.3L167.5 204.4zM168.7 194.0L170.4 193.9L170.2 204.2L168.5 204.3zM171.5 203.6L173.3 203.5L173.1 213.8L171.4 213.9zM173.4 212.1L175.1 212.0L175.0 217.0L173.3 217.1zM175.1 123.2L176.8 123.0L176.8 128.0L175.1 128.2zM174.3 216.7L176.1 216.6L176.0 221.6L174.2 221.7zM175.4 216.6L177.1 216.6L177.0 221.6L175.3 221.6zM177.1 127.6L178.8 127.4L178.7 132.4L177.0 132.6zM176.3 221.3L178.0 221.2L177.9 226.2L176.2 226.2zM178.0 132.1L179.7 132.0L179.6 137.0L177.9 137.1zM177.2 225.9L178.9 225.8L178.8 230.8L177.1 230.9zM178.2 225.8L179.9 225.8L179.9 230.8L178.1 230.8zM179.9 136.6L181.6 136.4L181.5 141.5L179.8 141.6zM179.2 230.5L180.9 230.5L180.8 235.5L179.1 235.5zM180.1 235.2L181.8 235.1L181.7 240.2L180.0 240.2zM181.1 235.1L182.8 235.1L182.8 240.1L181.0 240.2zM182.7 145.7L184.4 145.6L184.4 150.6L182.7 150.7zM182.1 239.8L183.8 239.8L183.7 244.8L182.0 244.8zM183.0 244.5L184.7 244.6L184.6 249.6L182.9 249.6zM184.7 150.2L186.4 150.2L186.3 155.2L184.6 155.2zM184.0 244.6L185.7 244.6L185.6 249.6L183.9 249.6zM185.6 154.9L187.3 154.9L187.2 159.9L185.5 159.9zM184.9 249.3L186.7 249.3L186.6 254.3L184.9 254.3zM185.9 254.0L187.6 254.1L187.5 259.1L185.8 259.1zM187.5 159.6L189.2 159.5L189.1 164.6L187.4 164.6zM186.9 254.1L188.6 254.1L188.6 259.1L186.8 259.1zM188.4 164.3L190.2 164.3L190.1 169.3L188.4 169.3zM187.9 258.8L189.6 258.9L189.5 263.6L187.8 263.5zM190.4 169.0L192.1 169.0L192.0 174.0L190.3 174.0zM191.3 173.7L193.0 173.7L193.0 178.8L191.2 178.8zM193.3 178.5L195.0 178.5L194.9 183.5L193.2 183.5zM194.2 183.2L195.9 183.3L195.8 188.3L194.1 188.3zM196.1 188.1L197.9 188.1L197.8 193.1L196.1 193.1zM197.1 192.8L198.8 192.9L198.7 197.9L197.0 197.9zM199.0 197.7L200.8 197.8L200.7 202.8L199.0 202.8zM200.0 202.5L201.7 202.6L201.6 207.7L199.9 207.6zM201.9 207.4L203.7 207.5L203.6 212.6L201.9 212.5zM202.9 212.3L204.6 212.4L204.5 217.4L202.8 217.3zM204.9 217.3L206.6 217.4L206.5 222.4L204.8 222.3zM205.8 222.1L207.5 222.2L207.5 227.3L205.7 227.2zM207.8 227.1L209.5 227.3L209.4 232.3L207.7 232.2zM208.7 232.0L210.4 232.2L210.4 237.3L208.7 237.1zM210.7 237.1L212.4 237.3L212.4 242.3L210.6 242.2zM211.7 242.0L213.4 242.2L213.3 247.3L211.6 247.1zM213.6 247.1L215.4 247.3L215.3 252.4L213.6 252.2zM216.6 257.3L218.3 257.5L218.3 262.5L216.5 262.4zM218.6 262.4L220.3 262.7L220.2 267.5L218.5 267.2zM387.9 266.7L389.6 266.8L389.9 285.9L388.1 285.8zM389.7 248.2L391.4 248.3L391.6 267.4L389.9 267.3zM393.2 286.1L394.9 286.2L395.2 305.3L393.5 305.2zM391.9 192.4L393.6 192.6L393.9 211.6L392.2 211.5zM395.0 267.6L396.7 267.8L397.0 286.8L395.3 286.6zM393.6 174.1L395.3 174.3L395.6 193.3L393.9 193.1zM396.0 267.8L397.7 267.9L398.0 286.9L396.3 286.8zM396.7 249.2L398.5 249.3L398.7 268.3L397.0 268.2zM398.0 268.0L399.8 268.1L400.0 287.0L398.3 287.0zM397.2 212.0L398.9 212.1L399.2 231.1L397.5 231.0zM399.6 305.4L401.4 305.5L401.6 324.1L399.9 324.1zM399.8 249.6L401.5 249.7L401.8 268.6L400.1 268.5zM398.9 193.6L400.6 193.8L400.9 212.7L399.2 212.6zM401.4 286.9L403.1 287.0L403.4 305.9L401.7 305.8zM406.2 268.7L407.9 268.8L408.2 287.6L406.5 287.6zM407.9 250.3L409.6 250.4L409.9 269.2L408.2 269.2zM478.0 211.3L479.7 210.8L480.0 222.9L478.3 223.4zM479.8 168.5L481.5 167.9L481.9 180.0L480.1 180.6zM484.3 249.8L486.0 249.1L486.1 255.3L484.4 256.0zM482.2 179.1L483.9 178.5L484.0 184.7L482.3 185.3zM485.4 255.0L487.2 254.3L487.3 260.4L485.6 261.2zM484.0 207.9L485.7 207.3L485.9 213.4L484.2 214.1zM485.4 219.0L487.1 218.3L487.3 224.5L485.6 225.2zM484.7 195.5L486.4 194.8L486.6 201.0L484.9 201.7zM487.8 265.2L489.6 264.4L489.7 270.6L488.0 271.4zM485.9 200.7L487.6 199.9L487.8 206.1L486.1 206.9zM489.2 240.1L490.9 239.2L491.0 245.3L489.3 246.3zM488.1 205.0L489.8 204.1L490.0 210.2L488.3 211.1zM491.3 274.3L493.0 273.2L493.2 279.3L491.4 280.4zM488.0 169.0L489.7 168.0L489.9 174.2L488.2 175.1zM490.9 196.2L492.6 195.0L492.8 201.1L491.1 202.3zM492.2 170.3L493.9 168.6L494.1 174.7L492.4 176.4zM495.6 244.1L497.3 241.7L497.5 247.8L495.8 250.2zM495.9 218.5L497.6 212.8L497.8 218.8L496.1 224.6z"/>
<path fill="#f49d27" d="M211.2 127.1L212.9 127.2L212.8 132.3L211.1 132.2zM212.2 127.2L213.9 127.3L213.7 137.2L212.0 137.1zM213.2 127.3L214.9 127.4L214.7 142.1L213.0 142.0zM214.1 132.2L215.8 132.3L215.7 142.2L214.0 142.1zM215.0 137.1L216.8 137.3L216.6 147.1L214.9 147.0zM216.0 142.0L217.7 142.2L217.6 152.0L215.9 151.9zM217.0 142.2L218.7 142.3L218.5 157.0L216.8 156.8zM217.9 147.1L219.6 147.2L219.5 157.1L217.8 157.0zM218.9 152.0L220.6 152.2L220.5 162.1L218.8 161.9zM219.8 157.0L221.5 157.1L221.4 167.0L219.7 166.9zM220.8 161.9L222.5 162.1L222.4 172.0L220.7 171.8zM221.8 162.1L223.5 162.2L223.4 172.2L221.7 172.0zM222.8 167.0L224.5 167.2L224.4 172.3L222.7 172.2zM236.2 131.1L237.9 131.4L237.9 136.5L236.2 136.3zM237.2 131.4L238.9 131.7L238.9 141.6L237.1 141.4zM238.2 131.7L239.9 131.9L239.8 146.7L238.1 146.5zM239.2 136.8L240.9 137.0L240.8 147.0L239.1 146.7zM240.2 141.9L241.9 142.1L241.8 152.1L240.1 151.9zM241.1 147.0L242.8 147.3L242.8 152.4L241.1 152.1zM246.0 167.8L247.7 168.1L247.7 173.3L246.0 173.0zM247.0 173.0L248.7 173.3L248.6 183.3L246.9 183.0zM247.6 226.9L249.3 227.2L249.3 232.4L247.5 232.0zM248.6 232.1L250.3 232.5L250.2 237.7L248.5 237.3zM497.9 282.2L499.7 276.0L499.8 282.1L498.1 288.3z"/>
<path fill="#f18a2c" d="M221.7 171.7L223.4 171.9L223.3 177.0L221.6 176.8zM222.7 171.9L224.4 172.0L224.4 177.1L222.6 177.0zM223.7 172.0L225.4 172.2L225.3 182.1L223.6 181.9zM224.7 177.0L226.4 177.2L226.3 187.1L224.6 186.9zM225.6 182.0L227.3 182.2L227.2 192.1L225.5 191.9zM226.6 182.2L228.3 182.4L228.2 197.2L226.5 197.0zM227.6 187.2L229.3 187.4L229.2 197.4L227.5 197.2zM228.6 192.3L230.3 192.5L230.2 202.4L228.5 202.2zM229.5 197.3L231.2 197.5L231.1 207.5L229.4 207.2zM230.5 202.4L232.2 202.6L232.1 212.6L230.4 212.3zM231.5 202.6L233.2 202.8L233.1 217.6L231.4 217.4zM232.5 207.7L234.2 207.9L234.1 217.9L232.4 217.6zM233.4 212.8L235.1 213.0L235.1 223.0L233.3 222.7zM234.4 217.9L236.1 218.2L236.1 223.3L234.4 223.0zM241.1 151.8L242.8 152.1L242.7 157.2L241.0 157.0zM242.1 152.1L243.8 152.4L243.7 162.4L242.0 162.1zM243.1 152.4L244.8 152.7L244.7 167.5L243.0 167.2zM244.1 157.5L245.8 157.8L245.7 167.8L244.0 167.5zM245.0 162.7L246.7 162.9L246.7 173.0L245.0 172.7zM246.0 172.7L247.7 173.0L247.6 178.1L245.9 177.8z"/>
<path fill="#f0792d" d="M234.4 222.7L236.1 223.0L236.0 228.1L234.3 227.8zM235.4 223.0L237.1 223.3L237.0 233.3L235.3 233.0zM236.4 223.3L238.1 223.6L238.0 238.4L236.3 238.1zM237.4 228.4L239.1 228.7L239.0 238.7L237.3 238.4zM238.3 233.6L240.1 233.9L240.0 243.9L238.3 243.6zM239.3 238.7L241.0 239.1L241.0 249.0L239.2 248.7zM240.3 239.1L242.1 239.4L241.9 254.2L240.2 253.9zM241.3 244.2L243.0 244.6L243.0 254.6L241.2 254.2zM242.3 249.4L244.0 249.8L243.9 259.8L242.2 259.4zM243.3 254.6L245.0 255.0L244.9 265.0L243.2 264.6zM244.3 259.8L246.0 260.2L245.9 270.2L244.2 269.9zM245.3 260.2L247.0 260.6L246.9 275.2L245.2 274.8zM246.3 265.5L248.0 265.9L247.9 275.6L246.2 275.2zM247.3 270.7L249.0 271.1L248.9 276.0L247.2 275.6zM496.7 278.9L498.4 276.4L498.6 282.5L496.9 285.0z"/>
<path fill="#31b5d8" d="M265.3 134.0L267.0 134.2L266.4 283.2L264.6 282.8zM273.4 136.3L275.1 136.6L274.6 286.6L272.8 286.2zM274.4 136.6L276.1 137.0L275.6 287.0L273.9 286.6zM275.4 137.0L277.1 137.3L276.6 287.4L274.9 287.0zM279.4 138.3L281.1 138.7L280.7 289.1L279.0 288.7zM289.4 141.8L291.1 142.2L291.0 293.3L289.2 292.9zM292.4 143.0L294.1 143.4L294.0 294.6L292.3 294.2zM295.4 144.2L297.1 144.6L297.1 295.9L295.4 295.5zM296.4 144.6L298.1 145.0L298.1 296.3L296.4 295.9zM298.4 145.4L300.1 145.8L300.2 297.2L298.5 296.7zM305.4 148.2L307.1 148.6L307.4 300.1L305.6 299.7zM309.4 149.8L311.1 150.1L311.5 301.8L309.7 301.4zM310.4 150.1L312.1 150.5L312.5 302.2L310.8 301.8zM324.5 154.8L326.2 155.1L326.8 308.1L325.1 307.7zM325.5 155.1L327.2 155.4L327.9 308.5L326.1 308.1zM328.5 156.1L330.2 156.4L330.9 309.7L329.2 309.3zM330.5 156.7L332.2 157.0L333.0 310.5L331.3 310.1zM331.5 157.0L333.2 157.2L334.0 310.8L332.3 310.5zM388.4 304.3L390.1 304.4L390.4 323.2L388.6 323.1zM388.9 266.8L390.6 267.0L390.9 286.0L389.2 285.9zM387.9 191.6L389.6 191.8L389.8 210.9L388.1 210.7zM390.2 285.7L391.9 285.9L392.2 304.9L390.4 304.8zM393.5 304.9L395.2 305.0L395.5 323.7L393.8 323.6zM391.6 173.7L393.3 173.9L393.6 192.9L391.9 192.7zM395.3 286.3L397.0 286.5L397.3 305.4L395.5 305.4zM395.7 249.1L397.4 249.2L397.7 268.2L396.0 268.1zM394.6 174.3L396.3 174.5L396.6 193.5L394.9 193.3zM397.0 267.9L398.7 268.0L399.0 287.0L397.3 286.9zM398.6 305.3L400.3 305.4L400.6 324.1L398.9 324.0zM396.6 174.7L398.3 174.8L398.6 193.8L396.9 193.6zM399.1 268.1L400.8 268.2L401.1 287.1L399.3 287.0zM397.9 193.5L399.6 193.6L399.9 212.6L398.2 212.4zM400.4 286.8L402.1 286.9L402.4 305.8L400.7 305.8zM400.8 249.7L402.5 249.8L402.8 268.7L401.1 268.6zM399.6 175.2L401.3 175.3L401.6 194.2L399.9 194.1zM405.9 250.2L407.6 250.2L407.9 269.1L406.2 269.0zM404.6 175.9L406.3 176.1L406.7 194.9L404.9 194.8zM407.6 231.8L409.3 231.9L409.6 250.7L407.9 250.6zM474.6 200.7L476.3 200.3L476.5 206.6L474.8 207.0zM477.8 277.3L479.5 276.8L479.7 283.0L478.0 283.5zM475.8 206.3L477.5 205.8L477.7 212.0L476.0 212.5zM476.8 205.8L478.5 205.4L478.7 211.6L477.0 212.0zM480.1 180.3L481.9 179.7L482.0 185.9L480.3 186.5zM483.1 244.5L484.8 243.9L485.0 250.1L483.2 250.7zM481.0 173.8L482.7 173.3L483.0 185.3L481.3 185.9zM482.7 196.8L484.4 196.2L484.6 202.4L482.9 203.0zM485.2 213.1L486.9 212.4L487.1 218.6L485.4 219.3zM486.6 224.2L488.3 223.4L488.5 229.5L486.8 230.3zM487.1 205.8L488.8 205.0L489.0 211.1L487.2 212.0zM490.5 250.9L492.2 249.8L492.4 256.0L490.7 257.0zM492.2 237.0L493.9 235.7L494.1 241.9L492.4 243.1zM492.3 206.6L494.0 205.2L494.2 211.3L492.5 212.7zM490.8 160.0L492.5 158.7L492.7 164.8L491.0 166.1zM494.4 240.1L496.1 238.3L496.3 244.4L494.6 246.2zM493.3 205.2L495.0 203.5L495.2 209.6L493.5 211.3z"/>
<path fill="#2c83cc" d="M336.5 158.3L338.2 158.5L339.1 312.6L337.4 312.2zM337.5 158.5L339.2 158.8L340.2 312.9L338.4 312.6zM339.5 159.1L341.2 159.3L342.2 313.5L340.5 313.2zM340.5 159.3L342.2 159.6L343.2 313.8L341.5 313.5zM392.4 229.9L394.1 230.1L394.7 267.8L393.0 267.7zM394.2 211.5L395.9 211.7L396.2 230.7L394.4 230.5zM396.6 305.1L398.3 305.2L398.6 323.9L396.8 323.8zM395.2 211.7L396.9 211.8L397.2 230.8L395.5 230.7zM397.6 305.2L399.3 305.3L399.6 324.0L397.9 323.9zM395.9 193.2L397.6 193.3L397.9 212.3L396.2 212.1zM405.3 213.0L407.0 213.1L407.3 232.0L405.6 231.9zM408.8 305.9L410.6 306.0L410.9 324.5L409.1 324.5zM407.0 194.7L408.7 194.8L409.0 213.7L407.3 213.6zM411.5 225.9L413.2 226.0L413.3 232.5L411.6 232.4zM414.0 312.2L415.8 312.2L415.9 318.7L414.2 318.7zM412.9 244.5L414.6 244.5L414.7 251.0L413.0 251.0zM411.7 176.8L413.4 176.8L413.8 201.8L412.1 201.7zM414.2 263.0L415.9 263.1L416.5 294.1L414.7 294.1zM413.3 213.8L415.0 213.8L415.1 220.3L413.4 220.2zM416.2 318.4L417.9 318.4L418.0 324.6L416.3 324.6zM414.7 232.3L416.4 232.4L416.5 238.8L414.8 238.7zM417.0 306.1L418.7 306.1L418.8 312.6L417.1 312.6zM415.9 244.6L417.6 244.7L417.7 251.1L416.0 251.1zM417.5 275.4L419.2 275.4L419.3 281.9L417.6 281.8zM434.5 262.8L436.2 262.8L436.5 275.2L434.8 275.3zM433.5 214.2L435.2 214.2L435.3 220.5L433.6 220.6zM433.1 196.0L434.8 195.9L434.9 202.3L433.2 202.3zM438.7 317.3L440.5 317.1L440.6 323.2L438.9 323.3zM437.9 280.8L439.7 280.8L439.8 287.1L438.1 287.2zM437.3 250.5L439.0 250.4L439.1 256.8L437.4 256.9zM436.5 214.1L438.2 214.0L438.3 220.4L436.6 220.5zM436.1 195.9L437.8 195.8L437.9 202.2L436.2 202.2zM441.5 304.8L443.3 304.7L443.5 317.1L441.8 317.2zM441.1 286.6L442.9 286.5L443.0 292.9L441.3 293.0zM440.2 244.2L441.9 244.1L442.0 250.5L440.3 250.6zM447.4 291.9L449.1 291.7L449.4 304.1L447.7 304.2zM446.0 231.5L447.7 231.4L447.8 237.7L446.1 237.8zM444.7 177.2L446.4 177.1L446.6 183.4L444.9 183.5zM449.7 303.6L451.4 303.4L451.6 309.8L449.9 309.9zM449.3 285.5L451.0 285.4L451.1 291.7L449.4 291.9zM446.9 183.0L448.6 182.9L448.7 189.2L447.0 189.4zM453.9 308.9L455.7 308.7L455.8 315.0L454.1 315.2zM453.2 278.8L454.9 278.6L455.1 284.9L453.4 285.1zM452.5 248.7L454.2 248.6L454.3 254.9L452.6 255.0zM456.1 314.5L457.9 314.2L458.0 320.2L456.3 320.5zM453.8 218.3L455.5 218.2L455.6 224.5L453.9 224.6zM453.2 194.3L454.9 194.1L455.0 200.5L453.3 200.6zM456.3 278.2L458.0 278.0L458.1 284.3L456.4 284.5zM455.7 254.2L457.4 254.0L457.5 260.3L455.8 260.5zM457.7 296.0L459.5 295.8L459.6 302.0L457.9 302.3zM456.8 260.0L458.6 259.8L458.9 272.1L457.1 272.3zM458.3 277.8L460.0 277.5L460.2 283.8L458.5 284.1zM459.8 295.5L461.5 295.3L461.7 301.5L459.9 301.8zM457.8 175.5L459.5 175.3L459.6 181.6L457.9 181.8zM461.9 258.8L463.6 258.6L463.8 264.8L462.1 265.1zM465.2 227.9L466.9 227.6L467.1 233.9L465.3 234.2zM463.8 174.2L465.5 173.9L465.6 180.2L463.9 180.5zM466.5 239.5L468.2 239.2L468.5 251.4L466.8 251.8zM469.1 298.8L470.8 298.5L471.0 304.7L469.3 305.1zM465.9 179.6L467.6 179.4L467.8 185.6L466.1 185.9zM470.0 292.5L471.7 292.1L471.9 298.4L470.1 298.8zM468.5 238.9L470.3 238.6L470.4 244.8L468.7 245.2zM467.9 215.1L469.6 214.8L469.8 221.0L468.1 221.3zM471.2 298.1L472.9 297.7L473.1 303.9L471.3 304.3zM471.4 268.0L473.1 267.6L473.3 273.8L471.5 274.2zM471.7 243.8L473.5 243.4L473.6 249.7L471.9 250.1zM474.4 302.8L476.1 302.4L476.3 308.6L474.6 309.1zM473.1 255.3L474.8 254.9L475.0 261.2L473.3 261.6zM475.3 296.5L477.0 296.0L477.1 302.2L475.4 302.7zM472.0 177.8L473.7 177.4L473.8 183.7L472.1 184.0zM474.6 236.7L476.3 236.3L476.5 242.5L474.8 242.9zM473.1 183.4L474.8 183.0L475.0 189.2L473.3 189.6zM477.1 289.6L478.9 289.1L479.0 295.4L477.3 295.8zM477.5 265.5L479.2 265.0L479.5 277.1L477.8 277.6zM476.0 212.2L477.7 211.7L477.8 217.9L476.1 218.4zM479.5 228.5L481.2 228.0L481.6 240.1L479.9 240.6zM479.2 216.7L480.9 216.2L481.0 222.4L479.3 222.9zM482.8 304.7L484.5 304.1L484.7 310.0L482.9 310.6zM482.9 274.6L484.6 274.0L484.8 280.2L483.1 280.8zM482.6 262.8L484.3 262.2L484.5 268.4L482.7 269.0zM481.9 239.2L483.6 238.6L483.8 244.8L482.1 245.4zM481.5 227.4L483.2 226.8L483.4 233.0L481.7 233.6zM480.5 192.0L482.2 191.5L482.4 197.7L480.7 198.2zM484.8 303.4L486.5 302.7L486.7 308.6L485.0 309.3zM482.7 232.7L484.4 232.1L484.6 238.3L482.9 238.9zM481.8 203.3L483.6 202.7L483.7 208.9L482.0 209.5zM483.9 238.0L485.6 237.3L485.8 243.5L484.1 244.2zM483.0 208.6L484.7 207.9L484.9 214.1L483.2 214.8zM484.3 183.8L486.0 183.1L486.2 189.3L484.5 189.9zM487.7 259.4L489.4 258.6L489.6 264.7L487.8 265.5zM488.1 241.0L489.9 240.1L490.0 246.3L488.3 247.1zM489.5 251.8L491.2 250.9L491.4 257.0L489.7 258.0zM487.7 193.3L489.4 192.4L489.6 198.5L487.9 199.4zM487.0 169.8L488.7 169.0L488.9 175.1L487.2 176.0zM490.6 220.6L492.3 219.5L492.5 225.6L490.8 226.8zM489.5 185.6L491.3 184.5L491.4 190.6L489.7 191.7zM494.9 220.9L496.6 218.5L496.8 224.6L495.1 227.0zM494.6 178.0L496.3 172.5L496.5 178.5L494.8 184.1z"/>
<path fill="#2c76c4" d="M341.5 159.6L343.2 159.8L344.3 314.1L342.5 313.8zM342.5 159.8L344.2 160.1L345.3 314.4L343.6 314.1zM343.5 160.1L345.2 160.4L346.3 314.7L344.6 314.4zM344.5 160.4L346.2 160.7L347.3 315.0L345.6 314.7zM386.6 247.7L388.3 247.8L388.6 267.0L386.9 266.8zM391.5 304.6L393.2 304.7L393.4 323.5L391.7 323.4zM389.9 192.0L391.6 192.2L392.1 230.0L390.4 229.9zM392.2 286.0L393.9 286.1L394.5 323.6L392.7 323.5zM390.9 192.2L392.6 192.4L393.1 230.2L391.4 230.0zM394.0 267.5L395.7 267.6L396.2 305.4L394.5 305.3zM392.6 173.9L394.3 174.1L394.6 193.1L392.9 192.9zM402.7 305.6L404.4 305.7L404.7 324.3L403.0 324.2zM400.9 193.9L402.6 194.1L403.2 231.6L401.5 231.5zM403.4 287.1L405.1 287.2L405.7 324.3L404.0 324.3zM401.9 194.1L403.6 194.2L403.9 213.1L402.2 213.0zM404.4 287.2L406.2 287.2L406.5 306.1L404.7 306.0zM402.6 175.6L404.3 175.8L404.9 213.2L403.2 213.1zM405.2 268.6L406.9 268.7L407.5 306.1L405.8 306.1zM403.6 175.8L405.3 175.9L405.6 194.8L403.9 194.7zM406.9 250.2L408.6 250.3L409.2 287.7L407.5 287.6zM408.7 176.4L410.4 176.5L410.7 195.3L409.0 195.2zM410.3 213.5L412.0 213.6L412.1 220.1L410.4 220.0zM411.6 232.1L413.3 232.2L413.4 238.6L411.7 238.6zM413.9 306.1L415.7 306.1L415.8 312.5L414.0 312.5zM414.5 226.1L416.3 226.2L416.4 232.7L414.7 232.6zM417.6 281.5L419.3 281.6L419.5 294.1L417.8 294.1zM417.2 263.1L419.0 263.1L419.2 275.7L417.5 275.7zM431.5 263.0L433.2 263.0L433.4 275.4L431.7 275.5zM430.3 208.2L432.0 208.2L432.2 214.6L430.4 214.6zM435.7 317.6L437.4 317.5L437.5 323.5L435.8 323.6zM434.8 275.0L436.5 274.9L436.6 281.3L434.9 281.4zM434.4 256.8L436.1 256.7L436.2 263.1L434.5 263.1zM438.6 311.2L440.3 311.1L440.5 317.4L438.7 317.6zM436.6 220.2L438.3 220.1L438.5 226.5L436.8 226.5zM436.0 189.8L437.7 189.8L437.8 196.1L436.1 196.2zM441.0 280.6L442.7 280.4L442.9 286.8L441.1 286.9zM440.3 250.3L442.0 250.2L442.2 256.5L440.5 256.6zM443.3 292.4L445.0 292.3L445.2 298.6L443.4 298.8zM442.1 238.0L443.8 237.9L443.9 244.2L442.2 244.3zM443.2 243.9L444.9 243.8L445.1 250.2L443.4 250.3zM442.8 225.8L444.5 225.7L444.7 232.0L443.0 232.1zM446.1 237.5L447.8 237.4L448.0 243.8L446.3 243.9zM454.9 224.2L456.6 224.0L456.8 230.3L455.1 230.5zM457.4 284.0L459.2 283.8L459.3 290.1L457.6 290.3zM458.6 289.8L460.3 289.5L460.5 295.8L458.8 296.1zM459.3 277.5L461.0 277.3L461.2 283.6L459.5 283.8zM457.9 181.5L459.6 181.3L459.8 187.6L458.1 187.8zM462.2 270.8L463.9 270.5L464.1 276.8L462.4 277.1zM461.3 234.9L463.0 234.7L463.2 240.9L461.5 241.2zM461.0 222.9L462.7 222.7L462.9 229.0L461.1 229.2zM463.9 294.4L465.6 294.1L465.7 300.4L464.0 300.7zM463.6 282.5L465.3 282.2L465.4 288.5L463.7 288.8zM462.9 180.4L464.6 180.2L464.8 186.4L463.1 186.7zM465.5 239.8L467.2 239.5L467.4 245.8L465.7 246.1zM463.9 180.2L465.6 179.9L465.9 192.1L464.2 192.4zM468.1 299.2L469.8 298.8L470.0 305.1L468.3 305.4zM467.4 233.3L469.1 233.0L469.2 239.2L467.5 239.5zM465.8 173.7L467.5 173.4L467.6 179.7L465.9 179.9zM469.3 268.7L471.1 268.3L471.2 274.6L469.5 274.9zM470.5 274.3L472.2 273.9L472.4 280.2L470.7 280.5zM468.7 208.8L470.5 208.5L470.6 214.8L468.9 215.1zM468.4 196.9L470.1 196.6L470.3 202.9L468.6 203.2zM471.1 256.1L472.8 255.7L472.9 261.9L471.2 262.3zM473.2 297.3L474.9 296.9L475.1 303.1L473.4 303.5zM472.9 249.4L474.6 249.0L474.8 255.2L473.1 255.6zM471.4 195.9L473.1 195.6L473.3 201.8L471.6 202.2zM474.1 254.9L475.8 254.5L476.0 260.7L474.3 261.2zM473.4 231.2L475.2 230.8L475.3 237.0L473.6 237.4zM476.4 301.9L478.2 301.5L478.3 307.7L476.6 308.2zM474.5 194.8L476.2 194.4L476.3 200.6L474.6 201.0zM478.7 306.9L480.4 306.4L480.6 312.3L478.8 312.8zM479.5 264.5L481.2 263.9L481.6 276.0L479.9 276.6zM478.3 223.1L480.0 222.6L480.2 228.8L478.5 229.3zM477.8 205.4L479.5 204.9L479.7 211.1L478.0 211.6zM479.9 240.3L481.6 239.8L481.7 246.0L480.0 246.5zM479.3 222.6L481.0 222.1L481.2 228.3L479.5 228.8zM479.0 210.8L480.7 210.3L480.9 216.5L479.2 217.0zM481.4 257.5L483.1 256.9L483.3 263.1L481.6 263.7zM480.7 233.9L482.4 233.3L482.8 245.4L481.0 246.0zM479.1 180.8L480.8 180.3L481.0 186.5L479.3 187.0zM483.8 304.1L485.5 303.4L485.7 309.3L484.0 310.0zM484.3 285.8L486.0 285.1L486.2 291.3L484.5 291.9zM485.8 302.7L487.6 302.0L487.7 307.9L486.0 308.6zM483.7 232.1L485.4 231.5L485.6 237.6L483.9 238.3zM485.3 249.1L487.0 248.4L487.2 254.6L485.4 255.3zM484.4 219.7L486.1 219.0L486.3 225.2L484.6 225.9zM486.5 254.3L488.2 253.5L488.4 259.7L486.6 260.4zM485.8 230.8L487.5 230.0L487.6 236.2L485.9 236.9zM485.5 189.0L487.2 188.2L487.4 194.4L485.7 195.1zM488.9 264.4L490.6 263.5L490.8 269.7L489.0 270.6zM486.2 176.5L487.9 175.7L488.2 187.7L486.5 188.5zM489.9 263.5L491.6 262.6L491.8 268.7L490.1 269.7zM487.5 187.4L489.2 186.5L489.4 192.7L487.7 193.6zM488.4 180.7L490.1 179.7L490.2 185.9L488.5 186.8zM491.8 158.7L493.5 157.0L493.7 163.1L492.0 164.8zM493.2 168.6L494.9 166.4L495.1 172.5L493.4 174.7zM496.3 230.1L498.0 224.3L498.2 230.3L496.4 236.2z"/>
<path fill="#27aee0" d="M345.5 160.7L347.2 161.0L348.4 315.3L346.6 315.0zM346.5 161.0L348.2 161.3L349.4 315.6L347.7 315.3zM347.5 161.3L349.2 161.6L350.4 315.9L348.7 315.6zM348.5 161.6L350.2 161.9L351.4 316.2L349.7 315.9zM349.5 161.9L351.2 162.2L352.5 316.4L350.7 316.2zM350.5 162.2L352.2 162.5L353.5 316.7L351.8 316.4zM371.6 168.5L373.3 168.8L375.0 321.1L373.3 321.0zM372.6 168.8L374.3 169.1L376.0 321.3L374.3 321.1zM373.6 169.1L375.3 169.4L377.0 321.5L375.3 321.3zM374.6 169.4L376.3 169.7L378.1 321.6L376.3 321.5zM376.6 170.0L378.3 170.3L380.1 321.9L378.4 321.8zM388.1 285.5L389.9 285.6L390.1 304.7L388.4 304.6zM386.6 172.6L388.3 172.8L388.8 210.7L387.1 210.5zM389.2 285.6L390.9 285.7L391.1 304.8L389.4 304.7zM387.6 172.8L389.3 173.1L389.6 192.1L387.9 191.9zM389.9 267.0L391.6 267.1L391.9 286.2L390.2 286.0zM388.6 173.1L390.3 173.3L390.6 192.3L388.9 192.1zM393.0 267.4L394.7 267.5L394.9 286.5L393.2 286.4zM392.2 211.2L393.9 211.3L394.1 230.4L392.4 230.2zM394.7 248.9L396.4 249.1L396.7 268.1L395.0 267.9zM396.3 286.5L398.0 286.6L398.3 305.5L396.6 305.4zM396.5 230.5L398.2 230.7L398.5 249.6L396.7 249.5zM398.3 286.7L400.0 286.7L400.3 305.7L398.6 305.6zM396.9 193.3L398.6 193.5L398.9 212.4L397.2 212.3zM399.3 286.7L401.1 286.8L401.4 305.8L399.6 305.7zM397.6 174.8L399.3 175.0L399.6 193.9L397.9 193.8zM400.1 268.2L401.8 268.3L402.1 287.2L400.4 287.1zM398.6 175.0L400.3 175.2L400.6 194.1L398.9 193.9zM401.1 268.3L402.8 268.4L403.1 287.3L401.4 287.2zM406.5 287.3L408.2 287.3L408.5 306.2L406.8 306.1zM408.2 268.9L409.9 268.9L410.2 287.7L408.5 287.7zM411.0 195.1L412.7 195.2L413.0 214.0L411.3 213.9zM412.4 219.9L414.1 219.9L414.3 232.5L412.6 232.5zM413.8 238.4L415.5 238.4L415.6 244.9L413.9 244.8zM415.7 287.7L417.4 287.7L417.7 306.4L416.0 306.4zM415.0 250.8L416.7 250.8L416.9 263.4L415.2 263.4zM433.5 262.9L435.2 262.8L435.5 275.3L433.7 275.4zM436.4 256.6L438.1 256.6L438.2 262.9L436.5 263.0zM435.5 214.1L437.2 214.1L437.3 220.5L435.6 220.5zM435.1 195.9L436.8 195.9L436.9 202.2L435.2 202.3zM439.6 311.1L441.3 311.0L441.5 317.3L439.8 317.4zM439.0 280.8L440.7 280.7L440.8 287.0L439.1 287.1zM440.6 311.0L442.4 310.8L442.5 317.2L440.8 317.3zM440.0 280.7L441.7 280.6L441.8 286.9L440.1 287.0zM439.9 183.6L441.6 183.5L441.7 189.9L440.0 189.9zM445.3 292.2L447.1 292.0L447.2 298.4L445.5 298.5zM444.0 231.7L445.7 231.6L446.0 244.0L444.2 244.1zM445.7 177.1L447.4 177.0L447.6 183.3L445.9 183.4zM449.3 243.2L451.0 243.0L451.2 249.4L449.4 249.5zM452.9 309.1L454.6 308.9L454.8 315.2L453.1 315.4zM453.3 200.3L455.0 200.2L455.5 218.5L453.8 218.6zM454.8 218.2L456.5 218.0L456.6 224.3L454.9 224.5zM454.3 200.2L456.0 200.0L456.3 212.3L454.6 212.5zM458.8 295.8L460.5 295.5L460.6 301.8L458.9 302.0zM458.5 283.8L460.2 283.5L460.3 289.8L458.6 290.1zM459.6 289.5L461.3 289.3L461.5 295.6L459.8 295.8zM456.8 175.7L458.5 175.5L458.8 187.8L457.1 187.9zM458.8 217.4L460.5 217.2L460.7 223.5L459.0 223.7zM460.0 223.2L461.7 222.9L461.8 229.2L460.1 229.5zM462.5 282.8L464.3 282.5L464.4 288.8L462.7 289.0zM462.1 264.8L463.8 264.5L463.9 270.8L462.2 271.1zM461.1 228.9L462.9 228.7L463.0 235.0L461.3 235.2zM464.3 312.4L466.1 312.1L466.2 318.0L464.5 318.3zM463.7 288.5L465.4 288.2L465.6 294.4L463.9 294.7zM462.9 258.6L464.6 258.3L464.8 264.6L463.1 264.8zM465.4 312.1L467.1 311.7L467.2 317.7L465.5 318.0zM464.9 294.1L466.6 293.8L466.8 300.1L465.0 300.4zM462.4 198.6L464.1 198.3L464.3 204.6L462.5 204.8zM461.9 180.6L463.6 180.4L463.8 186.7L462.1 186.9zM464.5 240.1L466.2 239.8L466.4 246.1L464.6 246.4zM463.1 186.4L464.8 186.1L465.1 198.4L463.4 198.6zM465.7 245.8L467.4 245.5L467.5 251.8L465.8 252.1zM467.6 281.3L469.3 280.9L469.7 293.2L467.9 293.5zM466.4 233.6L468.1 233.3L468.2 239.5L466.5 239.8zM469.0 292.9L470.7 292.5L470.8 298.8L469.1 299.1zM468.6 280.9L470.4 280.6L470.5 286.8L468.8 287.2zM470.1 298.5L471.9 298.1L472.0 304.3L470.3 304.7zM472.1 183.7L473.8 183.4L474.0 189.6L472.3 190.0zM473.5 195.2L475.2 194.8L475.3 201.0L473.6 201.4zM473.0 177.4L474.7 177.0L474.8 183.3L473.1 183.7zM473.8 171.1L475.5 170.7L475.7 177.0L474.0 177.3zM476.3 224.0L478.0 223.6L478.2 229.8L476.5 230.2zM475.6 200.3L477.3 199.9L477.5 206.1L475.8 206.6zM477.3 223.6L479.0 223.1L479.2 229.3L477.5 229.8zM483.8 268.1L485.5 267.4L485.7 273.6L483.9 274.3zM481.3 185.6L483.0 185.0L483.2 191.2L481.5 191.8zM480.8 167.9L482.5 167.4L482.7 173.6L481.0 174.1zM485.5 291.0L487.2 290.3L487.4 296.4L485.7 297.2zM482.0 173.3L483.7 172.7L483.9 178.8L482.2 179.4zM483.3 184.4L485.0 183.8L485.2 189.9L483.5 190.6zM486.6 260.1L488.4 259.4L488.5 265.5L486.8 266.3zM484.5 189.6L486.2 189.0L486.4 195.1L484.7 195.8zM488.0 235.1L489.7 234.2L489.9 240.4L488.1 241.3zM485.8 164.8L487.5 164.0L487.7 170.1L486.0 170.9zM486.8 164.0L488.5 163.1L488.7 169.3L487.0 170.1zM490.7 256.7L492.4 255.7L493.0 273.5L491.3 274.6zM489.3 209.9L491.0 208.9L491.2 215.1L489.4 216.1zM490.8 226.5L492.5 225.3L492.7 231.5L491.0 232.6zM491.1 202.0L492.8 200.8L493.0 206.9L491.3 208.1zM493.4 241.6L495.1 240.1L495.3 246.2L493.6 247.7zM493.0 229.9L494.7 228.4L494.9 234.6L493.2 236.0zM493.7 216.8L495.4 215.1L495.6 221.2L493.9 222.9zM494.7 215.1L496.4 212.7L496.6 218.8L494.9 221.2zM496.8 247.5L498.5 241.5L498.7 247.6L497.0 253.5zM494.8 183.8L496.5 178.2L496.7 184.3L495.0 189.9z"/>
<path fill="#2346a4" d="M351.5 162.5L353.2 162.8L354.5 316.9L352.8 316.7zM352.5 162.8L354.2 163.1L355.5 317.2L353.8 316.9zM353.5 163.1L355.2 163.4L356.6 317.4L354.8 317.2zM354.5 163.4L356.2 163.7L357.6 317.7L355.9 317.4zM355.5 163.7L357.2 164.0L358.6 317.9L356.9 317.7zM356.5 164.0L358.2 164.3L359.6 318.2L357.9 317.9zM357.5 164.3L359.2 164.6L360.6 318.4L358.9 318.2zM358.5 164.6L360.2 164.9L361.7 318.6L359.9 318.4zM359.5 164.9L361.2 165.2L362.7 318.8L361.0 318.6zM360.5 165.2L362.2 165.5L363.7 319.0L362.0 318.8zM361.5 165.5L363.3 165.8L364.7 319.3L363.0 319.0zM362.6 165.8L364.3 166.1L365.8 319.5L364.0 319.3zM363.6 166.1L365.3 166.4L366.8 319.7L365.1 319.5zM365.6 166.7L367.3 167.0L368.8 320.1L367.1 319.9zM366.6 167.0L368.3 167.3L369.9 320.3L368.1 320.1zM367.6 167.3L369.3 167.6L370.9 320.4L369.2 320.3zM368.6 167.6L370.3 167.9L371.9 320.6L370.2 320.4zM369.6 167.9L371.3 168.2L372.9 320.8L371.2 320.6zM370.6 168.2L372.3 168.5L374.0 321.0L372.2 320.8zM410.7 238.2L412.4 238.3L412.5 244.7L410.8 244.7zM412.7 293.7L414.4 293.8L414.5 300.2L412.8 300.2zM412.1 256.8L413.8 256.8L413.9 263.3L412.2 263.2zM418.9 300.0L420.7 300.0L420.8 306.4L419.0 306.4zM418.0 250.9L419.7 250.9L419.9 257.3L418.1 257.3zM434.6 220.2L436.3 220.2L436.4 226.6L434.7 226.6zM434.0 189.9L435.7 189.8L435.8 196.2L434.1 196.2zM438.2 244.4L439.9 244.3L440.0 250.6L438.3 250.7zM437.8 226.2L439.5 226.1L439.6 232.5L437.9 232.5zM436.8 183.7L438.5 183.7L438.7 190.0L437.0 190.1zM440.8 317.0L442.5 316.9L442.6 323.0L440.9 323.1zM443.0 280.3L444.8 280.2L444.9 286.6L443.2 286.7zM442.4 250.1L444.1 250.0L444.2 256.3L442.5 256.4zM449.9 309.6L451.6 309.5L451.7 315.8L450.0 316.0zM449.1 279.5L450.9 279.3L451.0 285.7L449.3 285.8zM447.0 189.1L448.7 188.9L448.9 195.3L447.2 195.4zM453.8 302.9L455.5 302.7L455.7 309.0L453.9 309.2zM453.4 284.8L455.1 284.6L455.2 290.9L453.5 291.1zM452.3 242.7L454.1 242.5L454.2 248.9L452.5 249.0zM453.0 188.3L454.7 188.1L454.9 194.4L453.2 194.6zM453.7 176.1L455.4 176.0L455.7 188.3L454.0 188.4zM458.2 271.8L459.9 271.5L460.0 277.8L458.3 278.1zM457.7 253.8L459.4 253.6L459.6 259.9L457.9 260.1zM456.7 211.8L458.4 211.6L458.5 217.9L456.8 218.1zM459.9 301.5L461.7 301.2L461.8 307.5L460.1 307.8zM458.6 247.6L460.3 247.3L460.9 271.6L459.2 271.8zM457.5 205.6L459.2 205.4L459.5 217.7L457.8 217.9zM461.0 301.2L462.7 301.0L463.1 318.9L461.4 319.2zM459.6 247.3L461.3 247.1L461.8 265.4L460.0 265.6zM461.8 295.0L463.5 294.7L464.2 318.6L462.4 318.9zM459.1 187.3L460.8 187.0L461.1 199.3L459.4 199.5zM463.0 300.7L464.7 300.4L465.0 312.7L463.3 313.0zM460.1 187.0L461.8 186.8L462.1 199.1L460.4 199.3zM462.6 246.6L464.3 246.3L464.5 252.6L462.8 252.9zM461.8 216.7L463.6 216.5L463.7 222.8L462.0 223.0zM464.3 270.2L466.0 270.0L466.3 282.2L464.6 282.5zM465.1 264.0L466.8 263.7L467.5 287.9L465.7 288.2zM467.4 311.4L469.1 311.1L469.3 317.0L467.6 317.4zM468.4 311.1L470.1 310.7L470.3 316.7L468.6 317.0zM469.3 304.8L471.0 304.4L471.2 310.7L469.4 311.0zM468.8 172.8L470.5 172.5L471.0 190.6L469.3 191.0zM469.8 172.5L471.5 172.2L471.8 184.4L470.1 184.7zM471.9 213.8L473.6 213.4L474.1 231.5L472.4 231.9zM473.3 225.3L475.0 224.9L475.2 231.1L473.4 231.5zM471.8 171.9L473.5 171.5L473.7 177.7L472.0 178.1zM474.0 213.0L475.7 212.6L475.8 218.8L474.1 219.2zM475.8 242.2L477.5 241.8L477.7 248.0L476.0 248.4zM476.8 241.8L478.5 241.3L478.9 253.4L477.1 253.9z"/>
<path fill="#2a9fda" d="M364.6 166.4L366.3 166.7L367.8 319.9L366.1 319.7zM384.6 172.1L386.3 172.4L388.3 323.0L386.6 322.9zM393.9 192.8L395.6 193.0L395.9 212.0L394.2 211.8zM395.5 230.4L397.2 230.5L397.4 249.5L395.7 249.4zM395.6 174.5L397.3 174.7L397.6 193.6L395.9 193.5zM404.9 194.5L406.7 194.6L407.0 213.4L405.3 213.3zM409.7 176.5L411.4 176.6L411.9 207.8L410.2 207.7zM411.3 213.6L413.0 213.7L413.2 226.3L411.5 226.2zM410.7 176.6L412.4 176.8L412.7 195.5L411.0 195.4zM412.6 232.2L414.3 232.2L414.5 238.7L412.7 238.6zM412.2 207.5L413.9 207.6L414.1 220.2L412.4 220.2zM414.9 299.9L416.6 300.0L417.0 324.6L415.3 324.6zM413.9 244.5L415.6 244.6L415.8 257.2L414.1 257.2zM413.5 226.1L415.2 226.1L415.5 238.7L413.8 238.7zM416.0 306.1L417.7 306.1L417.9 318.7L416.2 318.7zM415.2 263.1L416.9 263.1L417.4 288.0L415.7 288.0zM414.8 238.4L416.5 238.5L416.7 251.1L415.0 251.1zM416.1 256.9L417.8 257.0L418.6 300.3L416.9 300.3zM432.5 263.0L434.2 262.9L434.4 275.4L432.7 275.4zM432.2 202.1L433.9 202.0L434.2 214.5L432.5 214.5zM434.5 214.2L436.2 214.1L436.3 220.5L434.6 220.5zM434.1 195.9L435.8 195.9L435.9 202.3L434.2 202.3zM437.7 317.4L439.4 317.3L439.6 323.3L437.8 323.4zM436.8 274.9L438.5 274.8L438.6 281.1L436.9 281.2zM438.3 250.4L440.0 250.3L440.1 256.7L438.4 256.8zM437.6 220.1L439.3 220.0L439.5 226.4L437.8 226.5zM437.0 189.8L438.7 189.7L438.8 196.1L437.1 196.1zM442.6 304.7L444.3 304.5L444.4 310.9L442.7 311.0zM442.2 286.5L443.9 286.4L444.0 292.7L442.3 292.9zM441.8 225.9L443.5 225.8L443.7 232.1L441.9 232.2zM440.9 183.5L442.6 183.4L442.7 189.8L441.0 189.9zM443.0 231.8L444.7 231.7L444.9 244.1L443.2 244.2zM442.7 177.3L444.4 177.3L444.6 183.6L442.9 183.7zM446.4 292.0L448.1 291.9L448.4 304.2L446.6 304.4zM448.4 291.7L450.1 291.6L450.4 303.9L448.7 304.1zM447.0 231.4L448.7 231.3L449.0 243.6L447.3 243.8zM448.0 231.3L449.7 231.1L450.0 243.5L448.3 243.6zM450.7 303.4L452.5 303.3L452.6 309.6L450.9 309.8zM450.3 285.4L452.0 285.2L452.2 291.5L450.4 291.7zM448.9 225.1L450.6 225.0L450.7 231.3L449.0 231.4zM447.9 182.9L449.6 182.8L449.7 189.1L448.0 189.2zM451.8 303.3L453.5 303.1L453.6 309.4L451.9 309.6zM451.3 285.2L453.0 285.0L453.2 291.3L451.5 291.5zM452.2 279.0L453.9 278.8L454.1 285.1L452.3 285.3zM451.5 248.9L453.2 248.7L453.3 255.0L451.6 255.2zM450.8 218.8L452.5 218.7L452.6 225.0L450.9 225.1zM450.0 188.7L451.7 188.6L451.9 194.9L450.2 195.0zM451.5 206.6L453.2 206.5L453.5 218.8L451.8 219.0zM451.2 194.6L452.9 194.5L453.0 200.8L451.3 200.9zM455.1 314.7L456.8 314.5L457.0 320.5L455.3 320.7zM453.6 254.6L455.4 254.4L456.0 278.7L454.2 278.9zM452.5 206.5L454.2 206.3L454.5 218.6L452.8 218.8zM452.2 194.5L453.9 194.3L454.0 200.6L452.3 200.8zM456.0 308.5L457.7 308.2L457.9 314.5L456.1 314.8zM454.7 254.4L456.4 254.2L456.8 272.5L455.1 272.7zM455.8 260.2L457.5 260.0L458.0 278.3L456.3 278.5zM455.5 248.2L457.2 248.0L457.4 254.3L455.7 254.5zM457.9 302.0L459.6 301.7L459.8 308.0L458.0 308.3zM457.3 278.0L459.0 277.8L459.2 284.1L457.4 284.3zM456.4 242.0L458.1 241.8L458.4 254.1L456.7 254.3zM455.8 175.8L457.5 175.7L457.6 181.9L455.9 182.1zM459.0 223.4L460.7 223.2L460.8 229.5L459.1 229.7zM459.7 211.2L461.4 211.0L461.7 223.2L460.0 223.5zM460.8 174.9L462.5 174.7L462.8 186.9L461.1 187.1zM465.2 306.1L466.9 305.8L467.1 312.0L465.4 312.4zM464.6 246.1L466.4 245.8L466.5 252.1L464.8 252.3zM463.4 198.3L465.1 198.1L465.3 204.3L463.6 204.6zM465.3 233.9L467.1 233.6L467.2 239.8L465.5 240.1zM464.2 192.1L465.9 191.8L466.1 198.1L464.4 198.4zM467.9 293.2L469.7 292.9L469.8 299.1L468.1 299.5zM466.2 227.6L467.9 227.3L468.1 233.6L466.4 233.9zM464.8 173.9L466.5 173.7L466.8 185.9L465.1 186.2zM468.5 275.0L470.2 274.6L470.4 280.9L468.6 281.2zM467.5 239.2L469.2 238.9L469.4 245.2L467.7 245.5zM469.5 274.6L471.2 274.3L471.4 280.5L469.7 280.9zM468.7 244.9L470.4 244.5L470.6 250.8L468.9 251.1zM468.1 221.0L469.8 220.7L469.9 227.0L468.2 227.3zM471.3 304.0L473.1 303.6L473.2 309.9L471.5 310.3zM470.4 268.3L472.1 268.0L472.2 274.2L470.5 274.6zM468.9 214.8L470.6 214.5L470.8 220.7L469.1 221.0zM468.3 191.0L470.0 190.7L470.1 196.9L468.4 197.2zM470.9 250.1L472.6 249.8L472.8 256.0L471.1 256.4zM469.8 208.5L471.5 208.2L471.6 214.4L469.9 214.8zM469.4 196.6L471.1 196.3L471.3 202.5L469.6 202.9zM473.5 309.2L475.3 308.8L475.4 314.7L473.7 315.1zM472.1 255.7L473.8 255.3L474.0 261.6L472.2 261.9zM474.2 296.9L476.0 296.5L476.1 302.7L474.4 303.1zM471.3 190.0L473.0 189.7L473.1 195.9L471.4 196.2zM472.4 195.6L474.2 195.2L474.3 201.4L472.6 201.8zM473.6 201.1L475.3 200.7L475.5 207.0L473.8 207.4zM476.8 277.8L478.5 277.3L478.7 283.5L477.0 284.0zM476.1 254.1L477.8 253.6L478.0 259.8L476.3 260.3zM477.3 259.5L479.0 259.1L479.2 265.3L477.5 265.8zM476.1 218.1L477.8 217.6L478.0 223.9L476.3 224.3zM474.8 170.7L476.5 170.3L476.7 176.5L475.0 177.0zM481.0 245.7L482.8 245.1L482.9 251.3L481.2 251.9zM478.8 169.0L480.5 168.5L480.7 174.7L479.0 175.2zM481.7 233.3L483.4 232.7L483.6 238.9L481.9 239.5zM480.3 186.2L482.0 185.6L482.2 191.8L480.5 192.3zM483.9 274.0L485.7 273.3L485.8 279.5L484.1 280.2zM482.9 238.6L484.6 238.0L484.8 244.2L483.1 244.8zM481.5 191.5L483.2 190.9L483.6 203.0L481.8 203.6zM484.1 243.9L485.8 243.2L486.0 249.4L484.3 250.1zM482.9 202.7L484.6 202.1L484.7 208.2L483.0 208.9zM484.2 213.8L485.9 213.1L486.1 219.3L484.4 220.0zM485.6 224.9L487.3 224.2L487.5 230.3L485.8 231.1zM485.7 194.8L487.4 194.1L487.6 200.2L485.9 201.0zM490.1 269.4L491.8 268.4L492.0 274.6L490.2 275.5zM489.3 246.0L491.0 245.0L491.2 251.2L489.5 252.1zM487.9 199.1L489.6 198.2L489.8 204.4L488.1 205.3zM488.2 174.8L489.9 173.9L490.1 180.0L488.4 181.0zM492.5 212.4L494.2 211.0L494.4 217.1L492.7 218.6zM494.2 234.3L495.9 232.5L496.1 238.6L494.4 240.4zM492.0 164.5L493.7 162.8L493.9 168.9L492.2 170.6zM493.4 174.4L495.1 172.2L495.3 178.3L493.6 180.5z"/>
<path fill="#2a64bb" d="M375.6 169.7L377.3 170.0L379.1 321.8L377.4 321.6zM391.2 285.9L392.9 286.0L393.2 305.0L391.5 304.9zM390.4 229.6L392.1 229.7L392.4 248.8L390.7 248.6zM394.5 305.0L396.2 305.1L396.5 323.8L394.8 323.7zM400.6 175.3L402.3 175.5L402.6 194.4L400.9 194.2zM403.1 268.5L404.8 268.6L405.1 287.5L403.4 287.4zM404.9 250.1L406.6 250.2L406.9 269.0L405.2 268.9zM406.6 231.7L408.3 231.8L408.6 250.6L406.9 250.5zM405.6 176.1L407.3 176.2L407.7 195.0L406.0 194.9zM409.1 201.1L410.8 201.2L410.9 207.7L409.2 207.6zM410.4 219.7L412.1 219.8L412.2 226.2L410.5 226.2zM413.1 256.8L414.8 256.9L414.9 263.3L413.2 263.3zM413.1 201.5L414.8 201.5L414.9 208.0L413.2 207.9zM414.4 220.0L416.1 220.1L416.3 226.5L414.5 226.4zM434.2 202.0L435.9 202.0L436.2 214.4L434.5 214.5zM440.5 304.9L442.2 304.8L442.4 311.1L440.6 311.3zM440.1 286.7L441.8 286.6L442.0 293.0L440.2 293.1zM443.4 298.5L445.2 298.3L445.3 304.7L443.6 304.8zM450.9 309.5L452.6 309.3L452.7 315.6L451.0 315.8zM450.2 279.3L451.9 279.2L452.0 285.5L450.3 285.7zM449.4 249.2L451.2 249.1L451.3 255.4L449.6 255.5zM448.7 219.1L450.4 218.9L450.6 225.3L448.9 225.4zM448.0 188.9L449.7 188.8L449.9 195.2L448.2 195.3zM452.8 303.1L454.5 302.9L454.6 309.2L452.9 309.4zM452.3 285.0L454.1 284.8L454.2 291.1L452.5 291.3zM451.3 242.9L453.0 242.7L453.2 249.0L451.5 249.2zM450.9 224.8L452.6 224.7L452.8 231.0L451.0 231.1zM450.5 206.8L452.2 206.6L452.3 212.9L450.6 213.1zM449.9 182.7L451.6 182.6L451.7 188.9L450.0 189.0zM456.1 230.0L457.8 229.8L458.0 236.1L456.2 236.3zM454.9 182.0L456.6 181.8L456.8 188.1L455.0 188.3zM457.6 247.8L459.3 247.6L459.4 253.9L457.7 254.1zM459.2 271.5L460.9 271.3L461.0 277.6L459.3 277.8zM458.0 223.6L459.7 223.4L459.8 229.7L458.1 229.9zM457.1 187.6L458.8 187.5L458.9 193.7L457.2 193.9zM460.5 283.3L462.2 283.0L462.4 289.3L460.6 289.6zM458.7 211.4L460.4 211.2L460.5 217.5L458.8 217.7zM462.4 276.8L464.1 276.5L464.3 282.8L462.5 283.1zM460.8 217.0L462.5 216.7L462.7 223.0L461.0 223.2zM459.9 181.1L461.6 180.9L461.8 187.1L460.1 187.3zM462.5 240.6L464.2 240.4L464.3 246.6L462.6 246.9zM465.0 300.1L466.8 299.8L466.9 306.1L465.2 306.4zM461.8 174.7L463.5 174.4L463.6 180.7L461.9 180.9zM464.3 234.1L466.0 233.9L466.2 240.1L464.5 240.4zM466.9 293.5L468.6 293.2L468.8 299.5L467.1 299.8zM465.1 185.9L466.8 185.6L467.1 197.8L465.4 198.1zM467.7 245.2L469.4 244.9L469.6 251.1L467.8 251.4zM469.7 280.6L471.4 280.2L471.5 286.5L469.8 286.8zM470.2 262.4L471.9 262.0L472.1 268.3L470.4 268.6zM474.1 290.9L475.8 290.5L476.0 296.8L474.2 297.2zM477.1 253.6L478.9 253.1L479.0 259.4L477.3 259.8zM476.5 229.9L478.2 229.5L478.4 235.7L476.6 236.2zM476.6 199.9L478.3 199.4L478.5 205.7L476.8 206.1zM478.7 234.9L480.4 234.4L480.6 240.6L478.8 241.1zM481.7 305.3L483.5 304.7L483.6 310.6L481.9 311.2zM480.2 252.1L481.9 251.6L482.1 257.8L480.4 258.3zM478.0 175.3L479.7 174.9L479.8 181.1L478.1 181.6zM480.5 228.0L482.2 227.4L482.4 233.6L480.7 234.2zM483.3 286.4L485.0 285.8L485.3 297.8L483.6 298.5zM481.2 215.6L482.9 215.1L483.1 221.3L481.4 221.8zM480.8 203.8L482.5 203.3L482.7 209.5L481.0 210.0zM484.5 291.6L486.2 291.0L486.4 297.2L484.6 297.8zM482.2 215.1L483.9 214.5L484.3 226.5L482.5 227.1zM483.2 214.5L484.9 213.8L485.1 220.0L483.4 220.6zM485.1 243.2L486.8 242.5L487.0 248.7L485.3 249.4zM484.6 225.6L486.3 224.9L486.5 231.1L484.7 231.8zM486.3 248.4L488.0 247.6L488.2 253.8L486.5 254.6zM485.9 236.6L487.6 235.9L487.8 242.1L486.1 242.8zM484.2 177.9L485.9 177.2L486.0 183.4L484.3 184.1zM487.3 247.6L489.0 246.8L489.4 258.9L487.7 259.7zM488.3 246.8L490.0 246.0L490.2 252.1L488.5 253.0zM487.2 175.7L488.9 174.8L489.1 181.0L487.4 181.8zM490.5 214.8L492.2 213.7L492.3 219.8L490.6 220.9zM489.7 191.4L491.4 190.3L491.6 196.5L489.9 197.6zM496.4 235.9L498.2 230.0L498.3 236.1L496.6 242.0zM494.4 172.2L496.1 166.7L496.3 172.8L494.6 178.3zM494.0 160.6L495.7 155.2L495.9 161.3L494.2 166.7z"/>
<path fill="#2859b4" d="M377.6 170.3L379.3 170.6L381.1 322.1L379.4 321.9zM378.6 170.6L380.3 170.8L382.2 322.2L380.4 322.1zM379.6 170.8L381.3 171.1L383.2 322.4L381.5 322.2zM380.6 171.1L382.3 171.4L384.2 322.5L382.5 322.4zM381.6 171.4L383.3 171.6L385.2 322.6L383.5 322.5zM382.6 171.6L384.3 171.9L386.3 322.7L384.5 322.6zM383.6 171.9L385.3 172.1L387.3 322.9L385.6 322.7zM387.1 285.3L388.8 285.5L389.3 323.1L387.6 323.0zM385.9 191.2L387.6 191.4L387.8 210.5L386.1 210.3zM390.7 248.3L392.4 248.5L392.9 286.3L391.2 286.2zM391.7 248.5L393.4 248.6L393.7 267.7L391.9 267.5zM393.4 230.1L395.1 230.2L395.4 249.2L393.7 249.1zM401.8 249.8L403.5 249.9L404.1 287.4L402.4 287.3zM402.5 231.3L404.2 231.4L404.8 268.9L403.1 268.8zM403.5 231.4L405.2 231.5L405.6 250.4L403.8 250.3zM404.2 212.9L406.0 213.0L406.6 250.5L404.9 250.4zM407.8 305.9L409.5 305.9L409.8 324.5L408.1 324.4zM406.0 194.6L407.7 194.7L408.3 232.1L406.6 232.0zM410.5 225.9L412.2 225.9L412.3 232.4L410.6 232.3zM413.6 287.6L415.3 287.6L415.4 294.1L413.7 294.1zM413.2 263.0L414.9 263.0L415.1 275.6L413.4 275.6zM412.9 189.2L414.6 189.2L414.8 201.8L413.1 201.8zM437.6 311.3L439.3 311.2L439.4 317.6L437.7 317.7zM436.9 280.9L438.6 280.8L438.8 287.2L437.1 287.3zM435.0 189.8L436.7 189.8L436.8 196.2L435.1 196.2zM437.5 214.0L439.2 214.0L439.3 220.3L437.6 220.4zM437.1 195.8L438.8 195.8L438.9 202.2L437.2 202.2zM440.0 189.6L441.7 189.6L441.8 195.9L440.1 196.0zM445.6 304.3L447.3 304.1L447.5 310.4L445.8 310.6zM448.7 303.8L450.4 303.6L450.6 309.9L448.8 310.1zM448.3 285.7L450.0 285.5L450.1 291.9L448.4 292.0zM447.3 243.5L449.0 243.3L449.1 249.7L447.4 249.8zM446.9 225.4L448.6 225.2L448.7 231.6L447.0 231.7zM451.3 200.6L453.0 200.5L453.2 206.8L451.5 206.9zM454.2 278.6L456.0 278.4L456.1 284.7L454.4 284.9zM455.8 302.4L457.6 302.2L457.7 308.5L456.0 308.8zM456.2 193.8L457.9 193.6L458.4 211.9L456.7 212.1zM460.0 265.3L461.8 265.1L461.9 271.3L460.2 271.6zM464.2 306.4L465.9 306.1L466.1 312.4L464.3 312.7zM463.2 228.4L464.9 228.2L465.0 234.4L463.3 234.7zM467.5 275.3L469.2 275.0L469.3 281.2L467.6 281.6zM466.3 191.6L468.0 191.3L468.1 197.5L466.4 197.8zM468.9 250.8L470.6 250.5L470.7 256.7L469.0 257.1zM471.5 310.0L473.2 309.6L473.4 315.5L471.7 315.9zM474.9 284.6L476.6 284.1L476.8 290.4L475.1 290.8zM474.3 224.9L476.0 224.4L476.2 230.7L474.5 231.1zM476.0 248.1L477.7 247.7L477.8 253.9L476.1 254.4zM477.5 229.5L479.2 229.0L479.4 235.2L477.7 235.7zM480.4 294.0L482.1 293.5L482.3 299.7L480.5 300.2zM479.9 276.3L481.6 275.7L481.7 282.0L480.0 282.5zM479.0 246.7L480.7 246.2L480.9 252.4L479.2 252.9zM480.4 258.0L482.1 257.5L482.3 263.7L480.5 264.2zM481.9 275.2L483.6 274.6L484.1 292.6L482.4 293.2zM479.7 198.5L481.4 197.9L481.7 210.0L480.0 210.6zM482.8 166.8L484.5 166.2L484.7 172.3L483.0 173.0zM484.0 172.0L485.7 171.3L485.9 177.5L484.2 178.2zM486.5 188.2L488.2 187.4L488.4 193.6L486.7 194.4zM487.4 181.5L489.1 180.7L489.2 186.8L487.5 187.7zM488.7 192.4L490.4 191.4L490.6 197.6L488.9 198.5zM490.3 208.9L492.0 207.8L492.2 214.0L490.5 215.1zM489.9 197.3L491.6 196.2L491.8 202.3L490.1 203.4zM492.8 157.0L494.5 154.8L494.7 160.9L493.0 163.1z"/>
<path fill="#2b6dbf" d="M386.9 266.5L388.6 266.7L388.8 285.8L387.1 285.6zM386.4 228.8L388.1 229.0L388.3 248.1L386.6 248.0zM390.6 173.5L392.3 173.7L392.6 192.7L390.9 192.5zM392.9 192.6L394.6 192.8L394.9 211.8L393.2 211.6zM402.4 287.0L404.1 287.1L404.4 306.0L402.7 305.9zM402.2 212.7L403.9 212.8L404.2 231.7L402.5 231.6zM401.6 175.5L403.3 175.6L403.6 194.5L401.9 194.4zM404.7 305.7L406.5 305.8L406.8 324.4L405.0 324.3zM404.1 268.6L405.9 268.6L406.2 287.5L404.4 287.5zM403.9 194.4L405.6 194.5L406.0 213.3L404.2 213.2zM409.0 194.9L410.7 195.0L410.8 201.5L409.1 201.4zM413.1 318.4L414.9 318.4L415.0 324.6L413.2 324.5zM413.8 299.9L415.6 299.9L415.7 306.4L413.9 306.4zM413.0 250.7L414.7 250.7L414.8 257.2L413.1 257.1zM413.2 207.6L414.9 207.7L415.0 214.1L413.3 214.1zM417.1 312.3L418.8 312.3L419.0 318.7L417.2 318.7zM415.8 238.5L417.5 238.5L417.6 245.0L415.9 244.9zM417.8 293.8L419.5 293.8L419.6 300.3L417.9 300.3zM417.1 257.0L418.8 257.0L419.0 263.4L417.2 263.4zM430.2 202.1L431.9 202.1L432.0 208.5L430.3 208.5zM437.8 183.7L439.5 183.6L439.7 190.0L438.0 190.0zM441.9 231.9L443.7 231.8L443.8 238.2L442.1 238.3zM440.7 177.5L442.4 177.4L442.6 183.7L440.9 183.8zM441.9 183.4L443.6 183.4L443.7 189.7L442.0 189.8zM450.4 291.4L452.2 291.2L452.5 303.6L450.7 303.7zM449.0 231.1L450.7 231.0L451.0 243.3L449.3 243.5zM447.7 176.9L449.4 176.8L449.6 183.1L447.9 183.2zM453.1 315.1L454.8 314.9L454.9 320.9L453.2 321.1zM452.1 273.0L453.8 272.8L453.9 279.1L452.2 279.3zM451.6 254.9L453.3 254.7L453.5 261.1L451.8 261.2zM450.6 212.8L452.3 212.6L452.5 219.0L450.8 219.1zM450.2 194.7L451.9 194.6L452.0 200.9L450.3 201.0zM452.9 266.8L454.6 266.6L454.8 272.9L453.1 273.1zM455.0 308.7L456.7 308.5L456.8 314.8L455.1 315.0zM454.5 248.4L456.2 248.2L456.4 254.5L454.7 254.7zM454.6 212.2L456.3 212.0L456.5 218.3L454.8 218.5zM457.1 272.0L458.9 271.8L459.0 278.1L457.3 278.3zM458.9 301.7L460.6 301.5L460.8 307.8L459.1 308.0zM459.1 229.4L460.8 229.2L461.0 235.4L459.3 235.7zM463.3 312.7L465.0 312.4L465.2 318.3L463.5 318.6zM462.8 252.6L464.5 252.3L464.6 258.6L462.9 258.9zM462.2 192.6L463.9 192.3L464.1 198.6L462.4 198.9zM466.4 311.7L468.1 311.4L468.3 317.4L466.5 317.7zM465.7 287.9L467.5 287.6L467.6 293.8L465.9 294.1zM466.6 281.6L468.3 281.3L468.5 287.5L466.8 287.9zM465.8 251.8L467.5 251.5L467.7 257.7L466.0 258.0zM468.8 286.9L470.5 286.5L470.7 292.8L469.0 293.2zM470.3 304.4L472.0 304.0L472.2 310.3L470.5 310.7zM469.9 214.5L471.6 214.1L471.8 220.4L470.1 220.7zM469.6 202.6L471.3 202.2L471.5 208.5L469.8 208.8zM469.3 190.7L471.0 190.3L471.1 196.6L469.4 196.9zM471.9 249.8L473.6 249.4L473.8 255.6L472.1 256.0zM474.6 308.8L476.3 308.3L476.5 314.3L474.7 314.7zM475.6 308.3L477.3 307.9L477.5 313.8L475.8 314.3zM475.3 260.4L477.0 260.0L477.2 266.2L475.5 266.7zM472.8 171.5L474.5 171.1L474.7 177.3L473.0 177.7zM478.3 259.1L480.0 258.6L480.2 264.8L478.5 265.3zM475.8 170.3L477.5 169.9L477.7 176.1L476.0 176.5zM478.5 229.0L480.2 228.5L480.4 234.7L478.7 235.2zM480.5 263.9L482.3 263.4L482.6 275.5L480.9 276.0zM480.0 246.2L481.7 245.7L481.9 251.9L480.2 252.4zM477.8 169.4L479.5 169.0L479.7 175.2L478.0 175.6zM482.6 298.8L484.3 298.2L484.5 304.4L482.8 305.0zM481.6 263.4L483.3 262.8L483.4 269.0L481.7 269.6zM479.3 186.7L481.0 186.2L481.2 192.3L479.5 192.9zM483.6 298.2L485.3 297.5L485.5 303.7L483.8 304.4zM483.1 280.5L484.8 279.9L485.0 286.1L483.3 286.7zM482.7 268.7L484.5 268.1L484.6 274.3L482.9 274.9zM481.4 221.5L483.1 221.0L483.2 227.1L481.5 227.7zM480.7 197.9L482.4 197.4L482.5 203.6L480.8 204.1zM482.5 226.8L484.3 226.2L484.4 232.4L482.7 233.0zM482.0 209.2L483.7 208.6L483.9 214.8L482.2 215.4zM483.6 226.2L485.3 225.6L485.4 231.8L483.7 232.4zM483.0 172.7L484.7 172.0L484.9 178.2L483.2 178.8zM486.9 235.9L488.7 235.1L488.8 241.3L487.1 242.1zM486.7 194.1L488.4 193.3L488.6 199.4L486.9 200.2zM489.7 257.7L491.4 256.7L491.6 262.9L489.9 263.8zM491.8 225.3L493.5 224.1L493.7 230.2L492.0 231.5zM495.1 226.7L496.8 224.3L497.0 230.4L495.2 232.8zM496.6 241.7L498.3 235.8L498.5 241.8L496.8 247.8zM494.2 166.4L495.9 161.0L496.1 167.0L494.4 172.5zM493.8 154.8L495.5 149.5L495.7 155.5L494.0 160.9z"/>
<path fill="#2a5cb7" d="M386.1 210.0L387.8 210.2L388.1 229.3L386.4 229.1zM385.6 172.4L387.3 172.6L387.6 191.7L385.9 191.5zM389.6 173.3L391.3 173.5L391.6 192.5L389.9 192.3zM391.9 267.2L393.7 267.4L393.9 286.4L392.2 286.3zM391.4 229.7L393.1 229.9L393.4 248.9L391.7 248.8zM393.7 248.8L395.4 248.9L395.7 267.9L394.0 267.8zM393.2 211.3L394.9 211.5L395.1 230.5L393.4 230.4zM401.5 231.2L403.2 231.3L403.5 250.2L401.8 250.1zM403.8 250.0L405.6 250.1L405.9 268.9L404.1 268.9zM403.2 212.8L404.9 212.9L405.2 231.8L403.5 231.7zM405.8 305.8L407.5 305.8L407.8 324.4L406.1 324.4zM407.5 287.3L409.2 287.4L409.5 306.2L407.8 306.2zM409.2 207.3L410.9 207.4L411.0 213.8L409.3 213.7zM413.0 312.2L414.7 312.2L414.9 318.7L413.1 318.7zM411.7 238.3L413.4 238.3L413.6 244.8L411.8 244.7zM413.7 293.8L415.4 293.8L415.6 300.2L413.8 300.2zM417.2 318.4L419.0 318.4L419.1 324.5L417.3 324.6zM415.7 232.4L417.4 232.4L417.5 238.8L415.8 238.8zM417.9 300.0L419.6 300.0L419.7 306.4L418.0 306.4zM417.0 250.8L418.7 250.9L418.8 257.3L417.1 257.3zM435.5 262.8L437.2 262.7L437.5 275.2L435.8 275.2zM436.3 250.6L438.0 250.5L438.1 256.9L436.4 256.9zM435.6 220.2L437.3 220.2L437.5 226.5L435.7 226.6zM439.8 317.1L441.5 317.0L441.6 323.1L439.9 323.2zM438.8 274.7L440.5 274.6L440.7 281.0L439.0 281.1zM438.4 256.5L440.1 256.4L440.3 262.8L438.6 262.9zM439.2 244.3L440.9 244.2L441.0 250.6L439.3 250.6zM438.8 226.1L440.5 226.0L440.6 232.4L438.9 232.5zM441.3 250.2L443.1 250.1L443.2 256.4L441.5 256.5zM440.7 219.9L442.4 219.8L442.5 226.2L440.8 226.3zM445.9 183.1L447.6 183.0L447.7 189.4L446.0 189.5zM453.5 248.6L455.2 248.4L455.4 254.7L453.6 254.9zM452.8 218.5L454.5 218.3L454.6 224.6L452.9 224.8zM452.0 188.4L453.7 188.3L453.9 194.6L452.2 194.8zM455.4 242.2L457.1 242.0L457.2 248.3L455.5 248.5zM458.0 308.0L459.8 307.7L459.9 314.0L458.2 314.3zM454.7 176.0L456.5 175.8L456.6 182.1L454.9 182.3zM461.7 289.0L463.4 288.7L463.5 295.0L461.8 295.3zM463.6 246.3L465.3 246.1L465.5 252.3L463.8 252.6zM465.0 258.0L466.7 257.7L466.8 264.0L465.1 264.3zM466.0 221.6L467.8 221.4L467.9 227.6L466.2 227.9zM469.1 220.7L470.8 220.4L470.9 226.6L469.2 227.0zM468.1 185.0L469.8 184.7L470.0 191.0L468.3 191.3zM470.7 244.2L472.4 243.8L472.6 250.1L470.9 250.4zM473.4 303.2L475.1 302.8L475.3 309.1L473.5 309.5zM470.1 184.4L471.8 184.1L472.0 190.3L470.3 190.6zM473.3 261.3L475.0 260.9L475.1 267.1L473.4 267.5zM471.8 207.8L473.5 207.5L473.6 213.7L471.9 214.1zM472.6 201.5L474.3 201.1L474.5 207.4L472.8 207.8zM476.3 296.0L478.0 295.5L478.2 301.8L476.4 302.2zM475.8 278.2L477.5 277.8L477.7 284.0L475.9 284.4zM473.3 189.3L475.0 188.9L475.2 195.1L473.5 195.5zM477.5 301.5L479.2 301.0L479.4 307.2L477.6 307.7zM475.0 176.7L476.7 176.2L476.8 182.5L475.1 182.9zM480.5 299.9L482.3 299.4L482.6 311.2L480.9 311.8zM478.8 240.8L480.6 240.3L480.7 246.5L479.0 247.0zM481.6 299.4L483.3 298.8L483.5 305.0L481.7 305.6zM482.4 292.9L484.1 292.3L484.3 298.5L482.6 299.1zM481.7 269.3L483.4 268.7L483.6 274.9L481.9 275.5zM480.3 222.1L482.1 221.5L482.2 227.7L480.5 228.3zM479.5 192.6L481.2 192.0L481.4 198.2L479.7 198.8zM481.0 209.7L482.7 209.2L482.9 215.4L481.2 215.9zM484.6 297.5L486.4 296.9L486.5 303.0L484.8 303.7zM483.4 220.3L485.1 219.7L485.3 225.9L483.6 226.5zM484.7 231.5L486.5 230.8L486.8 242.8L485.1 243.5zM486.1 242.5L487.8 241.8L488.0 247.9L486.3 248.7zM487.1 241.8L488.8 241.0L489.0 247.1L487.3 247.9zM485.3 183.1L487.1 182.3L487.2 188.5L485.5 189.3zM488.5 252.7L490.2 251.8L490.6 263.8L488.9 264.7zM489.1 204.1L490.8 203.1L491.0 209.2L489.3 210.2zM488.5 186.5L490.2 185.6L490.4 191.7L488.7 192.7zM491.6 219.5L493.4 218.3L493.5 224.4L491.8 225.6zM495.2 232.5L497.0 230.1L497.1 236.2L495.4 238.6zM493.0 162.8L494.7 160.6L494.9 166.7L493.2 168.9z"/>
<path fill="#2c91d3" d="M395.5 305.1L397.3 305.1L397.5 323.8L395.8 323.8zM394.4 230.2L396.2 230.4L396.4 249.4L394.7 249.2zM394.9 193.0L396.6 193.2L396.9 212.1L395.2 212.0zM397.3 286.6L399.0 286.7L399.3 305.6L397.6 305.5zM396.2 211.8L397.9 212.0L398.2 231.0L396.5 230.8zM406.8 305.8L408.5 305.9L408.8 324.4L407.1 324.4zM405.6 231.6L407.3 231.7L407.6 250.5L405.9 250.5zM408.5 287.4L410.2 287.4L410.6 306.3L408.8 306.2zM407.3 213.3L409.0 213.4L409.3 232.2L407.6 232.1zM406.6 176.2L408.3 176.3L408.7 195.1L407.0 195.0zM410.2 207.4L411.9 207.5L412.0 213.9L410.3 213.8zM414.2 318.4L415.9 318.4L416.0 324.6L414.3 324.6zM412.7 238.3L414.5 238.4L414.6 244.8L412.9 244.8zM412.1 201.4L413.8 201.5L413.9 207.9L412.2 207.8zM414.7 293.8L416.5 293.8L416.6 300.3L414.9 300.2zM414.1 256.9L415.8 256.9L415.9 263.4L414.2 263.3zM413.4 219.9L415.1 220.0L415.2 226.4L413.5 226.4zM416.9 300.0L418.6 300.0L418.7 306.4L417.0 306.4zM416.0 250.8L417.7 250.8L417.8 257.3L416.1 257.2zM431.2 202.1L432.9 202.1L433.2 214.5L431.5 214.6zM433.2 202.0L434.9 202.0L435.2 214.5L433.5 214.5zM436.7 317.5L438.4 317.4L438.5 323.4L436.8 323.5zM435.8 274.9L437.5 274.9L437.6 281.2L435.9 281.3zM435.4 256.7L437.1 256.6L437.2 263.0L435.5 263.1zM437.8 274.8L439.5 274.7L439.7 281.1L437.9 281.1zM437.4 256.6L439.1 256.5L439.3 262.9L437.5 262.9zM439.3 250.3L441.0 250.3L441.2 256.6L439.4 256.7zM438.6 220.0L440.4 220.0L440.5 226.3L438.8 226.4zM443.6 304.5L445.3 304.4L445.4 310.7L443.7 310.9zM441.7 177.4L443.4 177.3L443.6 183.7L441.9 183.7zM445.0 231.6L446.7 231.5L447.0 243.9L445.3 244.0zM443.7 177.3L445.4 177.2L445.6 183.5L443.9 183.6zM449.4 291.6L451.1 291.4L451.4 303.7L449.7 303.9zM448.3 243.3L450.0 243.2L450.1 249.5L448.4 249.7zM447.9 225.2L449.6 225.1L449.7 231.4L448.0 231.6zM446.7 177.0L448.4 176.9L448.6 183.2L446.9 183.3zM451.9 309.3L453.6 309.1L453.8 315.4L452.0 315.6zM451.2 279.2L452.9 279.0L453.0 285.3L451.3 285.5zM450.3 243.0L452.0 242.9L452.3 255.2L450.6 255.4zM449.7 218.9L451.5 218.8L451.7 231.1L450.0 231.3zM448.9 182.8L450.6 182.7L450.9 195.0L449.2 195.2zM454.1 314.9L455.8 314.7L456.0 320.7L454.2 320.9zM453.1 272.8L454.8 272.6L454.9 278.9L453.2 279.1zM452.6 254.7L454.3 254.6L454.6 266.9L452.9 267.1zM451.8 218.7L453.5 218.5L453.6 224.8L451.9 225.0zM451.0 188.6L452.7 188.4L452.9 194.8L451.2 194.9zM452.3 200.5L454.0 200.3L454.2 206.6L452.5 206.8zM455.1 272.4L456.8 272.2L457.0 278.5L455.3 278.7zM456.9 302.2L458.6 302.0L458.9 314.3L457.2 314.5zM460.1 229.2L461.8 228.9L462.0 235.2L460.3 235.4zM462.7 288.7L464.4 288.5L464.6 294.7L462.8 295.0zM463.1 264.5L464.8 264.3L465.0 270.5L463.2 270.8zM464.7 288.2L466.4 287.9L466.6 294.1L464.9 294.4zM462.5 204.5L464.3 204.3L464.4 210.6L462.7 210.8zM462.1 186.6L463.8 186.4L463.9 192.6L462.2 192.9zM467.1 221.4L468.8 221.0L469.1 233.3L467.4 233.6zM466.1 185.6L467.8 185.3L468.0 191.6L466.3 191.9zM467.1 185.3L468.8 185.0L469.1 197.2L467.4 197.5zM469.7 244.5L471.4 244.2L471.8 256.4L470.0 256.7zM472.4 303.6L474.1 303.2L474.4 315.1L472.7 315.5zM471.2 262.0L472.9 261.6L473.1 267.9L471.4 268.3zM472.2 261.6L474.0 261.3L474.1 267.5L472.4 267.9zM471.1 184.1L472.8 183.7L473.0 190.0L471.3 190.3zM475.4 302.4L477.1 301.9L477.3 308.2L475.6 308.6zM475.1 290.5L476.8 290.1L477.0 296.3L475.3 296.8zM472.3 189.7L474.0 189.3L474.2 195.5L472.4 195.9zM476.6 307.9L478.3 307.4L478.5 313.3L476.8 313.8zM475.0 248.6L476.7 248.1L476.8 254.4L475.1 254.8zM474.5 230.8L476.2 230.4L476.3 236.6L474.6 237.0zM476.3 260.0L478.0 259.5L478.2 265.8L476.5 266.2zM475.3 224.4L477.0 224.0L477.3 236.2L475.6 236.6zM474.8 206.7L476.5 206.3L476.7 212.5L475.0 212.9zM474.0 177.0L475.7 176.7L475.8 182.9L474.1 183.3zM478.0 283.2L479.7 282.7L479.9 288.9L478.2 289.4zM478.5 265.0L480.2 264.5L480.7 282.5L479.0 283.0zM481.2 251.6L482.9 251.0L483.1 257.2L481.4 257.8zM479.0 174.9L480.7 174.4L480.8 180.6L479.1 181.1zM482.1 245.1L483.8 244.5L484.3 262.5L482.6 263.1zM484.1 279.9L485.8 279.2L486.0 285.4L484.3 286.1zM485.7 296.9L487.4 296.1L487.6 302.3L485.8 303.0zM481.8 167.4L483.5 166.8L483.7 173.0L482.0 173.6zM483.2 178.5L484.9 177.9L485.0 184.1L483.3 184.7zM486.8 230.0L488.5 229.2L488.7 235.4L486.9 236.2zM486.9 199.9L488.6 199.1L488.8 205.3L487.1 206.1zM486.0 170.6L487.7 169.8L487.9 176.0L486.2 176.8zM492.0 231.2L493.7 229.9L493.9 236.0L492.2 237.3zM491.3 207.8L493.0 206.6L493.2 212.7L491.5 214.0zM492.7 218.3L494.4 216.8L494.7 228.7L493.0 230.2zM493.9 222.6L495.6 220.9L495.9 232.8L494.2 234.6zM495.4 238.3L497.1 235.9L497.3 242.0L495.6 244.4zM496.1 224.3L497.8 218.5L498.0 224.6L496.3 230.4z"/>
<path fill="#243c98" d="M410.1 318.3L411.8 318.3L411.9 324.5L410.2 324.5zM408.3 213.4L410.0 213.4L410.3 232.3L408.6 232.2zM409.5 225.8L411.2 225.9L411.8 263.2L410.1 263.1zM410.8 244.4L412.5 244.4L413.4 294.0L411.7 294.0zM412.2 262.9L413.9 263.0L414.4 294.1L412.7 294.0zM413.7 176.9L415.4 177.0L415.7 195.8L414.0 195.7zM414.7 177.0L416.4 177.1L417.2 220.4L415.4 220.4zM415.7 177.1L417.4 177.2L418.4 232.7L416.7 232.7zM419.0 306.1L420.8 306.1L421.1 324.5L419.4 324.5zM417.0 195.6L418.7 195.7L419.7 251.2L418.0 251.2zM418.6 226.3L420.3 226.4L422.1 324.5L420.4 324.5zM420.1 250.9L421.8 250.9L423.2 324.5L421.4 324.5zM421.7 281.6L423.4 281.6L424.2 324.4L422.5 324.5zM419.7 177.4L421.4 177.5L422.0 208.4L420.3 208.3zM423.3 312.2L425.0 312.1L425.2 324.4L423.5 324.4zM420.7 177.5L422.4 177.5L423.4 232.9L421.7 232.9zM421.9 189.7L423.6 189.8L425.0 263.5L423.3 263.5zM423.4 214.3L425.1 214.3L426.7 294.0L424.9 294.1zM425.0 244.8L426.7 244.8L428.3 324.2L426.6 324.3zM426.6 275.4L428.3 275.3L429.3 324.2L427.6 324.2zM428.2 305.9L430.0 305.8L430.3 324.1L428.6 324.2zM426.7 177.7L428.4 177.7L428.6 190.2L426.9 190.2zM427.7 177.7L429.4 177.7L430.3 220.7L428.6 220.7zM429.4 214.3L431.1 214.3L431.9 251.1L430.2 251.2zM428.7 177.7L430.4 177.7L430.9 202.4L429.2 202.4zM431.7 275.2L433.4 275.1L433.6 281.5L431.8 281.6zM430.4 214.3L432.2 214.3L433.2 263.3L431.5 263.3zM432.7 275.1L434.4 275.1L435.1 305.8L433.4 305.9zM432.0 238.6L433.7 238.6L434.2 263.2L432.5 263.3zM433.9 281.2L435.6 281.1L436.4 317.9L434.6 318.0zM431.7 177.7L433.4 177.7L433.7 190.2L432.0 190.2zM435.1 293.2L436.9 293.2L437.4 317.8L435.7 317.9zM432.7 177.7L434.4 177.7L434.8 196.2L433.1 196.3zM434.7 226.3L436.4 226.3L436.8 244.8L435.1 244.9zM433.7 177.7L435.4 177.7L435.7 190.1L434.0 190.2zM435.7 226.3L437.5 226.2L438.0 250.8L436.3 250.9zM438.1 286.9L439.8 286.8L440.2 305.3L438.5 305.4zM437.5 262.6L439.3 262.6L439.5 275.0L437.8 275.1zM436.8 226.2L438.5 226.2L439.0 250.7L437.3 250.8zM439.2 292.9L440.9 292.8L441.2 305.2L439.5 305.3zM438.6 262.6L440.3 262.5L440.5 274.9L438.8 275.0zM440.2 292.8L442.0 292.7L442.2 305.1L440.5 305.2zM441.8 316.9L443.5 316.8L443.7 322.8L441.9 323.0zM438.7 177.6L440.4 177.5L440.6 183.9L438.8 183.9zM440.1 195.7L441.8 195.6L442.2 214.1L440.5 214.1zM443.7 310.6L445.4 310.4L445.6 316.8L443.8 316.9zM441.1 195.6L442.8 195.5L443.4 220.0L441.7 220.1zM443.4 250.0L445.1 249.9L445.5 268.3L443.8 268.4zM442.3 201.6L444.0 201.5L444.5 226.0L442.8 226.1zM444.4 249.9L446.1 249.7L446.9 286.3L445.2 286.4zM446.6 304.1L448.4 303.9L448.8 322.1L447.1 322.2zM445.7 261.8L447.4 261.7L448.1 292.2L446.4 292.3zM443.9 183.3L445.6 183.2L446.1 207.7L444.4 207.8zM447.8 310.0L449.5 309.8L449.8 321.9L448.1 322.1zM447.2 285.8L449.0 285.7L449.1 292.0L447.4 292.2zM446.3 243.6L448.0 243.5L448.1 249.8L446.4 249.9zM445.0 189.3L446.7 189.2L447.7 231.7L446.0 231.8zM447.4 249.5L449.1 249.4L449.4 261.7L447.7 261.9zM446.0 189.2L447.7 189.1L448.6 225.5L446.9 225.7zM448.6 255.4L450.3 255.2L450.9 279.6L449.1 279.8zM447.2 195.1L448.9 195.0L449.4 219.4L447.7 219.5zM451.0 315.5L452.7 315.3L452.9 321.3L451.2 321.5zM449.6 255.2L451.3 255.1L451.9 279.5L450.2 279.6zM448.2 195.0L449.9 194.9L450.4 219.2L448.7 219.4zM450.7 261.1L452.5 260.9L452.8 273.3L451.0 273.4zM449.3 200.9L451.0 200.7L451.3 213.1L449.6 213.2zM452.5 291.0L454.2 290.8L454.5 303.2L452.8 303.4zM451.0 230.8L452.8 230.7L453.0 243.0L451.3 243.2zM450.3 200.7L452.0 200.6L452.2 206.9L450.5 207.1zM449.7 176.7L451.4 176.6L451.6 182.9L449.9 183.0zM453.5 290.8L455.2 290.6L455.5 303.0L453.8 303.2zM452.1 230.7L453.8 230.5L454.1 242.8L452.3 243.0zM450.7 176.6L452.4 176.4L452.6 182.7L450.9 182.9zM454.4 284.6L456.1 284.4L456.7 308.8L455.0 309.0zM452.9 224.5L454.6 224.3L455.2 248.7L453.5 248.9zM451.7 176.4L453.4 176.3L453.7 188.6L452.0 188.7zM455.4 284.4L457.1 284.2L457.6 302.5L455.8 302.7zM454.1 230.4L455.8 230.2L456.2 248.5L454.5 248.7zM452.7 176.3L454.4 176.1L454.7 188.4L453.0 188.6zM456.6 290.2L458.3 290.0L458.4 296.3L456.7 296.5zM455.1 230.2L456.8 230.0L457.1 242.3L455.4 242.5zM458.2 314.0L459.9 313.7L460.1 319.7L458.3 320.0zM459.1 307.7L460.8 307.5L461.1 319.5L459.4 319.7zM460.1 307.5L461.8 307.2L462.1 319.2L460.4 319.5zM465.4 197.8L467.1 197.5L467.8 221.7L466.0 221.9zM467.8 251.1L469.6 250.8L469.7 257.1L468.0 257.4zM466.4 197.5L468.1 197.2L468.6 215.4L466.9 215.7zM469.0 256.8L470.7 256.4L470.9 262.7L469.2 263.0zM470.7 280.2L472.4 279.9L472.7 292.1L471.0 292.4zM471.7 279.9L473.4 279.5L473.9 297.6L472.2 298.0zM470.1 220.4L471.8 220.1L472.0 226.3L470.2 226.6zM473.1 291.4L474.8 290.9L474.9 297.2L473.2 297.6zM471.3 226.0L473.0 225.6L473.3 237.8L471.6 238.2zM473.4 267.2L475.1 266.8L475.8 290.8L474.1 291.2zM474.8 278.7L476.5 278.2L476.6 284.4L474.9 284.9z"/>
<path fill="#2243a1" d="M408.6 231.9L410.3 232.0L411.8 318.6L410.1 318.6zM408.2 207.2L409.9 207.3L410.0 213.7L408.3 213.7zM410.1 262.8L411.8 262.9L412.9 324.5L411.2 324.5zM411.7 293.7L413.4 293.7L413.7 312.5L412.0 312.5zM414.0 195.4L415.7 195.5L415.8 201.9L414.1 201.8zM418.3 318.4L420.0 318.4L420.1 324.5L418.4 324.5zM416.7 232.4L418.4 232.4L418.5 238.9L416.8 238.8zM416.7 177.2L418.4 177.3L418.7 196.0L417.0 195.9zM417.7 177.3L419.4 177.3L420.3 226.7L418.6 226.6zM418.7 177.3L420.4 177.4L421.8 251.2L420.1 251.2zM420.3 208.0L422.0 208.1L423.4 281.9L421.7 281.9zM421.7 232.6L423.4 232.6L425.0 312.4L423.3 312.5zM423.3 263.2L425.0 263.2L426.2 324.3L424.5 324.4zM421.7 177.5L423.4 177.6L423.6 190.1L421.9 190.0zM424.9 293.8L426.7 293.7L427.3 324.3L425.5 324.3zM422.7 177.6L424.4 177.6L425.1 214.6L423.4 214.6zM423.7 177.6L425.4 177.6L426.7 245.1L425.0 245.1zM424.7 177.6L426.4 177.7L428.3 275.6L426.6 275.7zM425.7 177.7L427.4 177.7L430.0 306.1L428.2 306.2zM426.9 189.9L428.6 189.9L431.4 324.1L429.6 324.1zM428.6 220.4L430.3 220.4L432.4 324.0L430.7 324.1zM430.7 275.2L432.4 275.2L433.4 323.9L431.7 324.0zM430.2 250.9L431.9 250.8L432.2 263.3L430.4 263.3zM431.8 281.3L433.6 281.2L434.4 323.8L432.7 323.9zM433.4 305.6L435.1 305.5L435.5 323.7L433.7 323.8zM436.6 311.4L438.3 311.3L438.4 317.7L436.7 317.8zM435.9 281.0L437.6 280.9L437.8 287.3L436.0 287.4zM435.3 250.6L437.0 250.6L437.1 256.9L435.4 257.0zM439.8 274.6L441.6 274.5L441.7 280.9L440.0 281.0zM439.4 256.4L441.2 256.3L441.3 262.7L439.6 262.8zM438.5 214.0L440.2 213.9L440.4 220.3L438.6 220.3zM438.2 201.9L440.0 201.8L440.1 208.2L438.4 208.2zM437.7 177.6L439.4 177.6L439.5 183.9L437.8 184.0zM439.9 232.1L441.6 232.0L441.8 238.4L440.1 238.4zM439.1 195.7L440.8 195.7L441.4 220.2L439.7 220.3zM441.5 256.2L443.2 256.1L443.5 268.5L441.7 268.6zM440.5 213.8L442.2 213.8L442.4 220.1L440.7 220.2zM442.5 256.1L444.2 256.0L444.8 280.5L443.0 280.6zM441.7 219.8L443.4 219.7L443.5 226.1L441.8 226.2zM441.0 189.6L442.7 189.5L442.8 195.8L441.1 195.9zM444.7 310.4L446.5 310.3L446.7 322.4L445.0 322.5zM443.8 268.1L445.5 268.0L445.9 286.4L444.2 286.6zM445.8 310.3L447.5 310.1L447.8 322.2L446.0 322.4zM447.7 303.9L449.4 303.8L449.5 310.1L447.8 310.3zM444.9 183.2L446.6 183.1L446.7 189.5L445.0 189.6zM451.9 267.0L453.6 266.8L453.8 273.1L452.1 273.3zM457.2 193.6L458.9 193.4L459.2 205.7L457.5 205.9zM458.1 187.5L459.8 187.3L460.4 211.5L458.7 211.7zM460.4 241.1L462.2 240.9L462.6 259.1L460.9 259.4zM459.4 199.2L461.1 199.0L461.2 205.3L459.5 205.5zM461.5 240.9L463.2 240.6L463.6 258.9L461.9 259.1zM464.0 300.4L465.7 300.1L465.9 306.4L464.2 306.7zM463.4 276.5L465.1 276.2L465.3 282.5L463.6 282.8zM461.2 192.8L462.9 192.6L463.1 198.9L461.4 199.1zM462.9 216.5L464.6 216.2L464.9 228.5L463.2 228.7zM463.7 210.3L465.4 210.0L465.9 228.2L464.2 228.5zM466.0 257.7L467.7 257.4L468.3 281.6L466.6 281.9zM464.6 204.0L466.3 203.8L466.9 227.9L465.2 228.2zM466.8 251.5L468.5 251.1L469.2 275.3L467.5 275.6zM469.4 310.7L471.2 310.4L471.3 316.3L469.6 316.7zM468.0 257.1L469.7 256.8L470.0 269.0L468.3 269.3zM470.5 310.4L472.2 310.0L472.4 315.9L470.6 316.3zM469.8 286.5L471.5 286.2L471.7 292.4L470.0 292.8zM469.2 262.7L470.9 262.4L471.1 268.6L469.3 269.0zM468.6 202.9L470.3 202.6L470.5 208.8L468.7 209.1zM470.8 172.2L472.5 171.9L472.7 178.1L470.9 178.4zM472.8 207.5L474.5 207.1L475.0 225.2L473.3 225.6zM474.1 218.9L475.8 218.5L476.0 224.7L474.3 225.2z"/>
<path fill="#254ba9" d="M408.1 201.0L409.8 201.1L409.9 207.6L408.2 207.5zM409.4 219.6L411.1 219.7L411.2 226.2L409.5 226.1zM412.8 299.9L414.5 299.9L414.6 306.4L412.9 306.4zM411.9 250.6L413.7 250.7L413.8 257.1L412.1 257.1zM418.1 312.3L419.9 312.2L420.0 318.7L418.3 318.7zM418.8 293.8L420.5 293.8L420.7 300.3L418.9 300.3zM418.1 257.0L419.9 257.0L420.0 263.5L418.3 263.4zM436.5 262.7L438.2 262.6L438.5 275.1L436.8 275.2zM435.2 202.0L436.9 201.9L437.2 214.4L435.5 214.4zM442.3 292.6L444.0 292.4L444.3 304.8L442.6 305.0zM452.0 315.3L453.8 315.1L453.9 321.1L452.2 321.3zM450.6 255.1L452.3 254.9L452.5 261.2L450.7 261.4zM450.0 231.0L451.7 230.8L452.0 243.2L450.3 243.3zM449.6 212.9L451.3 212.8L451.5 219.1L449.7 219.2zM449.2 194.9L450.9 194.7L451.0 201.0L449.3 201.2zM460.9 259.1L462.6 258.8L462.8 265.1L461.1 265.4zM462.8 294.7L464.6 294.4L464.7 300.7L463.0 301.0zM462.0 222.7L463.7 222.5L463.9 228.7L462.2 229.0zM464.6 282.2L466.3 281.9L466.4 288.2L464.7 288.5zM464.2 228.2L465.9 227.9L466.0 234.2L464.3 234.4zM467.7 209.1L469.4 208.8L469.6 215.1L467.9 215.4zM466.8 173.4L468.5 173.1L468.6 179.4L466.9 179.7zM471.6 237.9L473.3 237.5L473.5 243.7L471.7 244.1zM475.5 266.4L477.2 265.9L477.5 278.1L475.8 278.5zM475.0 212.6L476.7 212.2L476.8 218.4L475.1 218.8zM477.8 241.3L479.5 240.8L479.7 247.0L478.0 247.5zM476.0 176.2L477.7 175.8L477.8 182.0L476.1 182.5zM477.0 175.8L478.7 175.3L478.8 181.6L477.1 182.0zM478.3 187.2L480.0 186.7L480.5 204.7L478.8 205.2z"/>
<path fill="#254eac" d="M408.0 194.8L409.7 194.9L409.8 201.4L408.1 201.3zM410.6 232.0L412.3 232.1L412.4 238.6L410.7 238.5zM414.2 207.7L415.9 207.8L416.0 214.2L414.3 214.1zM416.8 238.5L418.5 238.6L418.6 245.0L416.9 245.0zM439.7 177.5L441.4 177.5L441.6 183.8L439.9 183.9zM451.5 291.2L453.2 291.0L453.5 303.4L451.8 303.6zM451.0 273.1L452.8 273.0L452.9 279.3L451.2 279.5zM448.7 176.8L450.4 176.7L450.6 183.0L448.9 183.1zM460.4 199.0L462.1 198.8L462.2 205.1L460.5 205.3zM468.3 305.1L470.0 304.8L470.1 311.0L468.4 311.4zM468.3 269.0L470.0 268.7L470.2 274.9L468.5 275.3zM467.4 197.2L469.1 196.9L469.3 203.2L467.6 203.5zM470.0 256.4L471.8 256.1L471.9 262.3L470.2 262.7zM470.9 214.1L472.6 213.8L472.8 220.0L471.1 220.4zM470.9 178.1L472.7 177.8L472.8 184.0L471.1 184.4zM474.8 242.6L476.5 242.2L476.7 248.4L475.0 248.9zM477.3 295.5L479.0 295.1L479.2 301.3L477.5 301.8zM478.2 289.1L479.9 288.6L480.4 306.7L478.7 307.2zM475.1 182.6L476.8 182.2L477.2 194.3L475.5 194.7zM477.7 235.4L479.4 234.9L479.5 241.1L477.8 241.6zM476.1 182.2L477.8 181.7L478.2 193.8L476.5 194.3zM480.0 282.2L481.7 281.7L481.9 287.9L480.2 288.4zM476.8 169.9L478.5 169.4L478.7 175.6L477.0 176.1zM478.8 204.9L480.5 204.4L480.7 210.6L479.0 211.1zM478.1 181.3L479.8 180.8L480.0 187.0L478.3 187.5z"/>
<path fill="#2651af" d="M407.9 188.7L409.6 188.8L409.7 195.2L408.0 195.1zM407.6 176.3L409.4 176.4L409.5 182.9L407.8 182.8zM409.3 213.4L411.0 213.5L411.1 220.0L409.4 219.9zM415.6 226.2L417.3 226.3L417.4 232.7L415.7 232.7zM418.7 287.7L420.4 287.7L420.5 294.1L418.8 294.1zM418.3 263.1L420.0 263.2L420.1 269.6L418.4 269.6zM430.4 263.0L432.2 263.0L432.4 275.5L430.7 275.5zM429.2 202.1L430.9 202.1L431.1 214.6L429.4 214.6zM433.4 256.8L435.1 256.8L435.2 263.1L433.5 263.2zM432.5 214.2L434.2 214.2L434.3 220.6L432.6 220.6zM432.1 196.0L433.8 196.0L433.9 202.3L432.2 202.4zM440.9 232.0L442.6 231.9L442.9 244.3L441.2 244.4zM443.8 225.7L445.5 225.6L445.7 231.9L444.0 232.0zM442.9 183.4L444.6 183.3L444.7 189.6L443.0 189.7zM455.3 278.4L457.0 278.2L457.1 284.5L455.4 284.7zM456.7 296.2L458.4 296.0L458.6 302.3L456.9 302.5zM457.9 259.8L459.6 259.6L459.9 271.8L458.2 272.1zM460.3 235.1L462.0 234.9L462.2 241.2L460.4 241.4zM463.6 204.3L465.3 204.0L465.4 210.3L463.7 210.6zM466.9 179.4L468.6 179.1L468.8 185.3L467.1 185.6zM469.6 238.6L471.3 238.2L471.4 244.5L469.7 244.8zM472.2 297.7L473.9 297.3L474.1 303.5L472.4 303.9zM472.4 267.6L474.1 267.2L474.3 273.4L472.6 273.8zM473.8 207.1L475.5 206.7L475.7 212.9L474.0 213.3zM476.6 271.8L478.4 271.4L478.5 277.6L476.8 278.1zM474.1 183.0L475.8 182.6L476.0 188.8L474.3 189.2zM475.5 194.4L477.2 194.0L477.3 200.2L475.6 200.6zM476.5 194.0L478.2 193.5L478.3 199.7L476.6 200.2zM479.3 258.6L481.1 258.0L481.2 264.2L479.5 264.8zM477.5 193.5L479.2 193.1L479.4 199.3L477.6 199.7zM481.2 287.6L482.9 287.0L483.1 293.2L481.4 293.8zM480.9 275.7L482.6 275.2L482.8 281.4L481.0 282.0zM480.0 210.3L481.7 209.7L481.9 215.9L480.2 216.5z"/>
<path fill="#2755b2" d="M407.8 182.5L409.5 182.6L409.6 189.1L407.9 189.0zM412.1 318.4L413.8 318.4L413.9 324.5L412.2 324.5zM412.9 306.1L414.6 306.1L414.7 312.5L413.0 312.5zM411.8 244.4L413.6 244.5L413.7 251.0L411.9 250.9zM413.4 275.3L415.1 275.3L415.3 287.9L413.6 287.9zM412.7 176.8L414.4 176.9L414.6 189.5L412.9 189.5zM414.3 213.8L416.0 213.9L416.1 220.4L414.4 220.3zM418.0 306.1L419.7 306.1L419.9 312.5L418.1 312.6zM416.9 244.7L418.6 244.7L418.7 251.2L417.0 251.1zM418.4 269.3L420.1 269.3L420.4 288.0L418.7 288.0zM434.6 317.7L436.4 317.6L436.5 323.6L434.8 323.7zM433.7 275.1L435.5 275.0L435.6 281.4L433.9 281.5zM442.7 310.7L444.4 310.6L444.5 316.9L442.8 317.1zM442.0 280.4L443.7 280.3L443.9 286.7L442.2 286.8zM445.2 286.1L446.9 286.0L447.1 292.3L445.3 292.5zM444.2 243.8L446.0 243.7L446.1 250.0L444.4 250.2zM451.8 260.9L453.5 260.8L453.6 267.1L451.9 267.3zM457.2 314.2L458.9 314.0L459.0 320.0L457.3 320.2zM456.7 254.0L458.4 253.8L458.6 260.1L456.8 260.3zM456.2 236.0L458.0 235.8L458.1 242.1L456.4 242.3zM456.8 217.8L458.5 217.6L458.7 223.9L457.0 224.1zM460.8 295.3L462.5 295.0L462.7 301.3L461.0 301.5zM459.5 205.2L461.2 205.0L461.4 211.3L459.7 211.5zM461.1 186.8L462.8 186.6L462.9 192.9L461.2 193.1zM464.1 264.3L465.8 264.0L466.0 270.3L464.3 270.5zM462.8 174.4L464.5 174.2L464.6 180.5L462.9 180.7zM464.4 198.1L466.1 197.8L466.3 204.1L464.6 204.3zM466.9 215.4L468.6 215.1L468.8 221.3L467.1 221.7zM468.2 227.0L469.9 226.7L470.1 232.9L468.4 233.3zM476.5 265.9L478.2 265.5L478.4 271.7L476.6 272.1zM475.6 236.3L477.3 235.9L477.5 242.1L475.8 242.5zM475.1 218.5L476.8 218.1L477.0 224.3L475.3 224.7zM479.0 282.7L480.7 282.2L481.6 311.8L479.9 312.3zM480.2 288.1L481.9 287.6L482.1 293.8L480.4 294.3zM479.2 252.6L480.9 252.1L481.1 258.3L479.3 258.9zM477.6 199.4L479.4 199.0L479.5 205.2L477.8 205.7zM481.4 293.5L483.1 292.9L483.3 299.1L481.6 299.7zM481.0 281.7L482.8 281.1L482.9 287.3L481.2 287.9zM480.2 216.2L481.9 215.6L482.1 221.8L480.3 222.4zM483.8 166.2L485.5 165.5L485.7 171.6L484.0 172.3zM484.8 165.5L486.5 164.8L487.1 182.6L485.3 183.4zM488.9 198.2L490.6 197.3L490.8 203.4L489.1 204.4zM490.1 203.1L491.8 202.0L492.0 208.1L490.3 209.2zM491.5 213.7L493.2 212.4L493.4 218.6L491.6 219.8z"/>
<path fill="#2448a6" d="M412.0 312.2L413.7 312.2L413.8 318.7L412.1 318.7zM414.1 201.5L415.8 201.6L415.9 208.1L414.2 208.0zM415.4 220.1L417.2 220.1L417.3 226.6L415.6 226.5zM439.5 305.0L441.2 304.9L441.3 311.3L439.6 311.4zM439.1 286.8L440.8 286.7L440.9 293.1L439.2 293.2zM438.1 195.8L439.8 195.7L440.0 202.1L438.2 202.2zM448.4 249.4L450.1 249.2L450.3 255.5L448.6 255.7zM447.7 219.2L449.4 219.1L449.6 225.4L447.9 225.5zM451.9 224.7L453.6 224.5L453.8 230.8L452.1 231.0zM450.9 182.6L452.6 182.4L452.7 188.7L451.0 188.9zM453.9 224.3L455.6 224.2L455.8 230.5L454.1 230.7zM456.4 284.2L458.1 284.0L458.3 290.3L456.6 290.5zM457.6 290.0L459.3 289.8L459.5 296.1L457.7 296.3zM455.6 212.0L457.4 211.8L457.5 218.1L455.8 218.3zM459.4 241.4L461.1 241.1L461.3 247.4L459.6 247.6zM458.9 181.3L460.6 181.1L460.8 187.3L459.1 187.6zM463.2 270.5L465.0 270.2L465.1 276.5L463.4 276.8zM462.7 210.5L464.4 210.3L464.6 216.5L462.9 216.8zM468.4 233.0L470.1 232.6L470.3 238.9L468.5 239.2zM471.0 292.1L472.7 291.8L472.9 298.0L471.2 298.4zM471.5 273.9L473.3 273.5L473.4 279.8L471.7 280.2zM472.4 231.6L474.1 231.2L474.3 237.4L472.6 237.8zM474.3 260.9L476.0 260.4L476.5 278.5L474.8 279.0zM474.3 188.9L476.0 188.5L476.2 194.7L474.5 195.1zM476.6 235.9L478.4 235.4L478.5 241.6L476.8 242.1zM478.0 247.2L479.7 246.7L480.0 258.9L478.3 259.4zM477.1 181.7L478.8 181.3L479.2 193.4L477.5 193.8z"/>
<path fill="#27348d" d="M429.7 177.7L431.4 177.7L431.9 202.4L430.2 202.4zM431.5 214.3L433.2 214.2L433.7 238.9L432.0 238.9zM430.7 177.7L432.4 177.7L432.9 202.4L431.2 202.4zM432.6 220.3L434.3 220.3L435.1 257.1L433.4 257.1zM432.0 189.9L433.7 189.9L433.8 196.3L432.1 196.3zM434.9 281.1L436.6 281.0L436.9 293.5L435.1 293.5zM433.6 220.3L435.3 220.2L436.1 257.0L434.4 257.1zM436.0 287.1L437.8 287.0L438.3 311.6L436.6 311.7zM435.1 244.6L436.8 244.5L437.0 250.9L435.3 250.9zM437.1 287.0L438.8 286.9L439.3 311.5L437.6 311.6zM434.7 177.7L436.4 177.7L436.7 190.1L435.0 190.1zM438.5 305.1L440.2 305.0L440.3 311.4L438.6 311.5zM436.2 201.9L437.9 201.9L438.2 214.3L436.5 214.4zM435.7 177.7L437.4 177.6L437.7 190.1L436.0 190.1zM437.9 232.2L439.6 232.2L439.9 244.6L438.2 244.7zM437.2 201.9L438.9 201.9L439.2 214.3L437.5 214.3zM436.7 177.6L438.4 177.6L438.5 184.0L436.8 184.0zM439.6 262.5L441.3 262.4L441.6 274.8L439.8 274.9zM438.9 232.2L440.6 232.1L440.9 244.5L439.2 244.6zM438.4 207.9L440.1 207.9L440.2 214.2L438.5 214.3zM441.3 292.7L443.0 292.6L443.3 305.0L441.5 305.1zM440.5 256.3L442.2 256.2L442.7 280.7L441.0 280.9zM440.1 238.1L441.8 238.1L441.9 244.4L440.2 244.5zM442.8 316.8L444.5 316.6L444.7 322.7L443.0 322.8zM441.7 268.3L443.5 268.2L443.7 280.6L442.0 280.7zM443.8 316.6L445.6 316.5L445.7 322.5L444.0 322.7zM442.0 189.5L443.7 189.4L444.0 201.8L442.3 201.9zM443.0 189.4L444.7 189.3L445.5 225.9L443.8 226.0zM445.3 243.7L447.0 243.6L447.4 262.0L445.7 262.1zM444.4 207.5L446.1 207.4L446.7 231.8L445.0 231.9zM446.4 249.6L448.1 249.5L449.0 286.0L447.2 286.1zM448.8 309.8L450.6 309.6L450.8 321.7L449.1 321.9zM447.7 261.6L449.4 261.4L450.0 285.8L448.3 286.0zM450.0 315.7L451.7 315.5L451.9 321.5L450.1 321.7zM467.6 203.2L469.3 202.9L469.4 209.1L467.7 209.4zM469.2 226.7L470.9 226.3L471.3 238.5L469.6 238.9zM467.8 173.1L469.5 172.8L469.8 185.0L468.1 185.3zM470.2 226.3L472.0 226.0L472.4 244.1L470.7 244.5zM472.6 273.5L474.3 273.1L474.8 291.2L473.1 291.7zM471.1 220.1L472.8 219.7L473.0 225.9L471.3 226.3z"/>
<path fill="#eb4b2d" d="M496.9 284.7L498.6 282.2L499.0 293.8L497.3 296.3z"/>
<path fill="#ee682e" d="M498.1 288.0L499.8 281.8L500.0 287.6L498.3 293.8z"/>
</g>
<g>
<path fill="#63bf9a" d="M274.7 243.3L273.0 242.8L272.6 395.2L274.4 395.8zM271.7 241.7L270.0 241.2L269.6 393.4L271.3 394.0zM270.7 241.2L269.0 240.6L268.5 392.8L270.3 393.4zM269.7 240.6L268.0 240.1L267.5 392.2L269.2 392.8zM266.7 239.0L265.0 238.5L264.4 390.4L266.1 391.0zM265.7 238.5L263.9 238.0L263.4 389.8L265.1 390.4zM263.6 237.4L261.9 236.9L261.3 388.6L263.0 389.2zM262.6 236.9L260.9 236.3L260.3 388.0L262.0 388.6zM257.6 234.2L255.9 233.7L255.1 385.0L256.9 385.6zM176.1 190.9L174.4 190.4L171.7 336.2L173.4 336.8zM175.1 190.4L173.4 189.9L170.6 335.6L172.4 336.2zM165.0 185.0L163.3 184.5L160.3 329.6L162.1 330.2zM164.0 184.5L162.3 184.0L159.3 329.0L161.0 329.6zM161.0 231.8L159.3 231.2L157.5 316.0L159.2 316.6zM162.0 183.4L160.3 182.9L159.5 219.4L161.2 220.0zM158.2 315.7L156.5 315.1L156.2 327.2L157.9 327.8zM160.2 219.1L158.5 218.6L156.7 303.4L158.4 304.0zM161.0 182.9L159.3 182.4L158.8 206.8L160.5 207.4zM157.4 303.1L155.7 302.5L155.2 326.6L156.9 327.2zM160.0 182.4L158.3 181.8L156.0 290.7L157.7 291.3zM156.4 302.5L154.7 301.9L154.2 326.0L155.9 326.6zM159.0 181.8L157.3 181.3L154.9 290.1L156.7 290.7zM155.6 289.8L153.9 289.3L153.6 301.6L155.4 302.2zM156.4 253.7L154.7 253.1L154.2 277.5L155.9 278.1zM158.0 181.3L156.3 180.8L154.9 241.3L156.7 241.9zM154.3 301.3L152.6 300.7L152.4 313.1L154.1 313.7zM155.6 241.0L153.9 240.5L153.4 264.9L155.1 265.4zM156.4 204.9L154.7 204.3L154.2 228.7L155.9 229.3zM157.0 180.8L155.2 180.2L155.0 192.6L156.7 193.1zM153.1 312.8L151.3 312.2L151.1 324.2L152.8 324.8zM153.6 288.7L151.9 288.1L151.6 300.4L153.3 301.0zM154.1 264.6L152.4 264.0L152.1 276.3L153.8 276.9zM155.2 216.4L153.4 215.8L153.2 228.2L154.9 228.7zM152.3 300.1L150.6 299.5L150.3 311.9L152.0 312.5zM153.3 252.0L151.6 251.4L151.4 263.7L153.1 264.3zM151.0 262.8L149.3 262.3L149.1 274.6L150.8 275.2zM149.9 177.0L148.2 176.5L147.9 188.8L149.6 189.3zM146.2 248.0L144.5 247.4L144.2 259.7L145.9 260.3zM145.5 235.4L143.8 234.8L143.5 247.1L145.2 247.7zM146.6 187.4L144.9 186.9L144.6 199.2L146.3 199.7zM144.7 222.8L143.0 222.3L142.7 234.6L144.5 235.1zM145.9 174.9L144.2 174.3L143.9 186.6L145.6 187.2zM134.0 240.2L132.3 239.4L132.0 251.7L133.7 252.5zM128.5 173.7L126.7 172.4L126.4 184.7L128.1 185.9z"/>
<path fill="#60bfa0" d="M273.7 242.8L272.0 242.2L271.6 394.6L273.3 395.2zM272.7 242.2L271.0 241.7L270.6 394.0L272.3 394.6zM264.6 238.0L262.9 237.4L262.3 389.2L264.1 389.8zM261.6 236.3L259.9 235.8L259.3 387.4L261.0 388.0zM258.6 234.7L256.9 234.2L256.2 385.6L257.9 386.2zM256.6 233.7L254.9 233.1L254.1 384.4L255.8 385.0zM255.6 233.1L253.9 232.6L253.1 383.8L254.8 384.4zM254.6 232.6L252.9 232.1L252.0 383.2L253.8 383.8zM239.5 224.6L237.8 224.1L236.6 374.2L238.3 374.8zM238.5 224.1L236.8 223.5L235.6 373.6L237.3 374.2zM232.4 220.8L230.7 220.3L229.4 369.9L231.1 370.5zM231.4 220.3L229.7 219.8L228.3 369.3L230.1 369.9zM230.4 219.8L228.7 219.2L227.3 368.7L229.0 369.3zM229.4 219.2L227.7 218.7L226.3 368.1L228.0 368.7zM219.4 213.9L217.6 213.4L216.0 362.1L217.7 362.7zM213.3 210.7L211.6 210.2L209.8 358.5L211.5 359.1zM212.3 210.2L210.6 209.6L208.8 357.9L210.5 358.5zM203.2 205.3L201.5 204.8L199.5 352.5L201.2 353.1zM186.1 196.3L184.4 195.7L182.0 342.3L183.7 342.9zM185.1 195.7L183.4 195.2L180.9 341.7L182.7 342.3zM174.1 189.9L172.4 189.3L169.6 335.0L171.3 335.6zM172.0 188.8L170.3 188.2L167.5 333.8L169.3 334.4zM171.0 188.2L169.3 187.7L166.5 333.2L168.2 333.8zM159.2 316.3L157.5 315.7L157.2 327.8L159.0 328.4zM161.2 219.7L159.5 219.1L159.3 231.5L161.0 232.1zM158.4 303.7L156.7 303.1L156.5 315.4L158.2 316.0zM160.5 207.1L158.8 206.5L158.5 218.9L160.2 219.4zM157.7 291.0L156.0 290.4L155.7 302.8L157.4 303.4zM156.7 290.4L154.9 289.8L154.7 302.2L156.4 302.8zM155.9 277.8L154.2 277.2L153.9 289.6L155.6 290.1zM156.7 241.6L154.9 241.0L154.7 253.4L156.4 254.0zM155.1 265.1L153.4 264.6L153.1 276.9L154.9 277.5zM155.9 229.0L154.2 228.4L153.9 240.8L155.6 241.3zM154.9 228.4L153.2 227.9L152.9 240.2L154.6 240.8zM154.1 215.8L152.4 215.3L152.2 227.6L153.9 228.2zM152.3 251.4L150.6 250.8L150.1 275.2L151.8 275.8zM150.5 286.9L148.8 286.3L148.5 298.7L150.2 299.2zM152.4 202.7L150.7 202.1L150.4 214.5L152.1 215.0zM149.8 274.3L148.0 273.7L147.8 286.0L149.5 286.6zM151.6 190.1L149.9 189.6L149.7 201.9L151.4 202.4zM148.7 273.7L147.0 273.1L146.7 285.5L148.5 286.0zM149.3 249.7L147.6 249.1L147.3 261.4L149.0 262.0zM150.9 177.6L149.2 177.0L148.9 189.3L150.6 189.9zM148.0 261.1L146.3 260.6L146.0 272.9L147.7 273.4zM148.5 237.1L146.8 236.5L146.5 248.8L148.3 249.4zM147.2 248.5L145.5 248.0L145.2 260.3L147.0 260.9zM146.8 224.0L145.1 223.4L144.8 235.7L146.5 236.3zM146.0 211.4L144.3 210.9L144.0 223.1L145.8 223.7zM144.3 198.3L142.6 197.7L142.3 210.0L144.0 210.6zM143.6 185.7L141.9 185.1L141.6 197.4L143.3 198.0zM135.1 277.7L133.4 276.9L133.1 289.2L134.8 289.9zM134.4 264.9L132.7 264.2L132.4 276.4L134.1 277.2zM129.5 211.8L127.8 210.7L127.5 223.0L129.2 224.1zM126.8 159.1L125.0 157.6L124.7 169.8L126.4 171.4z"/>
<path fill="#71c089" d="M268.7 240.1L267.0 239.6L266.5 391.6L268.2 392.2zM267.7 239.6L266.0 239.0L265.4 391.0L267.2 391.6zM260.6 235.8L258.9 235.3L258.2 386.8L260.0 387.4zM259.6 235.3L257.9 234.7L257.2 386.2L258.9 386.8zM249.5 229.9L247.8 229.4L246.9 380.2L248.6 380.8zM244.5 227.3L242.8 226.7L241.7 377.2L243.5 377.8zM243.5 226.7L241.8 226.2L240.7 376.6L242.4 377.2zM234.4 221.9L232.7 221.4L231.4 371.1L233.2 371.7zM233.4 221.4L231.7 220.8L230.4 370.5L232.1 371.1zM224.4 216.6L222.7 216.0L221.1 365.1L222.9 365.7zM223.4 216.0L221.7 215.5L220.1 364.5L221.8 365.1zM221.4 215.0L219.7 214.4L218.0 363.3L219.8 363.9zM220.4 214.4L218.7 213.9L217.0 362.7L218.7 363.3zM218.3 213.4L216.6 212.8L214.9 361.5L216.7 362.1zM217.3 212.8L215.6 212.3L213.9 360.9L215.6 361.5zM205.3 206.4L203.6 205.9L201.5 353.7L203.3 354.3zM204.3 205.9L202.5 205.3L200.5 353.1L202.2 353.7zM202.2 204.8L200.5 204.3L198.5 351.9L200.2 352.5zM195.2 201.1L193.5 200.5L191.2 347.7L193.0 348.3zM182.1 194.1L180.4 193.6L177.9 339.9L179.6 340.5zM181.1 193.6L179.4 193.1L176.8 339.3L178.6 339.9zM153.8 276.6L152.1 276.0L151.9 288.4L153.6 289.0zM153.1 264.0L151.4 263.4L150.6 299.8L152.3 300.4zM150.2 298.9L148.5 298.4L148.2 310.7L150.0 311.3zM150.8 274.9L149.1 274.3L148.8 286.6L150.5 287.2zM152.1 214.7L150.4 214.2L150.1 226.5L151.8 227.1zM149.5 286.3L147.8 285.7L147.5 298.1L149.2 298.7zM150.0 262.3L148.3 261.7L148.0 274.0L149.8 274.6zM151.4 202.1L149.7 201.6L149.4 213.9L151.1 214.5zM149.0 261.7L147.3 261.1L147.0 273.4L148.7 274.0zM148.3 249.1L146.5 248.5L146.3 260.9L148.0 261.4zM147.5 236.5L145.8 236.0L145.5 248.3L147.2 248.8zM146.5 236.0L144.8 235.4L144.5 247.7L146.2 248.3zM138.9 292.4L137.2 291.7L136.9 304.0L138.7 304.7zM140.6 183.9L138.8 183.2L138.6 195.5L140.3 196.1zM139.8 171.2L138.1 170.5L137.8 182.8L139.5 183.5zM135.6 302.4L133.8 301.6L133.5 313.6L135.3 314.3zM136.5 266.4L134.7 265.7L134.4 278.0L136.2 278.7zM134.8 289.6L133.1 288.9L132.8 301.2L134.5 301.9zM130.9 200.8L129.1 199.8L128.8 212.1L130.5 213.1zM130.2 187.8L128.4 186.8L128.1 199.1L129.8 200.1zM129.5 174.8L127.8 173.7L127.4 185.9L129.1 187.1zM128.8 161.7L127.1 160.5L126.7 172.7L128.5 174.0zM127.8 160.5L126.1 159.1L125.7 171.4L127.4 172.7z"/>
<path fill="#31b5d8" d="M253.6 232.1L251.9 231.5L251.0 382.6L252.7 383.2zM248.5 229.4L246.8 228.9L245.9 379.6L247.6 380.2zM247.5 228.9L245.8 228.3L244.8 379.0L246.6 379.6zM237.5 223.5L235.8 223.0L234.5 373.0L236.3 373.6zM235.5 222.5L233.7 221.9L232.5 371.7L234.2 372.3zM228.4 218.7L226.7 218.2L225.2 367.5L227.0 368.1zM227.4 218.2L225.7 217.6L224.2 366.9L225.9 367.5zM226.4 217.6L224.7 217.1L223.2 366.3L224.9 366.9zM225.4 217.1L223.7 216.6L222.2 365.7L223.9 366.3zM216.3 212.3L214.6 211.8L212.9 360.3L214.6 360.9zM215.3 211.8L213.6 211.2L211.9 359.7L213.6 360.3zM210.3 209.1L208.6 208.6L206.7 356.7L208.4 357.3zM209.3 208.6L207.6 208.0L205.7 356.1L207.4 356.7zM208.3 208.0L206.6 207.5L204.6 355.5L206.4 356.1zM188.2 197.3L186.4 196.8L184.0 343.5L185.8 344.1zM187.1 196.8L185.4 196.3L183.0 342.9L184.7 343.5zM184.1 195.2L182.4 194.7L179.9 341.1L181.6 341.7zM180.1 193.1L178.4 192.5L175.8 338.7L177.5 339.3z"/>
<path fill="#5ebfa5" d="M252.6 231.5L250.9 231.0L250.0 382.0L251.7 382.6zM251.6 231.0L249.9 230.5L248.9 381.4L250.7 382.0zM250.6 230.5L248.8 229.9L247.9 380.8L249.6 381.4zM246.5 228.3L244.8 227.8L243.8 378.4L245.5 379.0zM245.5 227.8L243.8 227.3L242.8 377.8L244.5 378.4zM242.5 226.2L240.8 225.7L239.7 376.0L241.4 376.6zM241.5 225.7L239.8 225.1L238.6 375.4L240.4 376.0zM240.5 225.1L238.8 224.6L237.6 374.8L239.3 375.4zM236.5 223.0L234.8 222.5L233.5 372.3L235.2 373.0zM222.4 215.5L220.7 215.0L219.1 363.9L220.8 364.5zM214.3 211.2L212.6 210.7L210.8 359.1L212.6 359.7zM211.3 209.6L209.6 209.1L207.7 357.3L209.5 357.9zM207.3 207.5L205.6 207.0L203.6 354.9L205.3 355.5zM206.3 207.0L204.6 206.4L202.6 354.3L204.3 354.9zM201.2 204.3L199.5 203.7L197.4 351.3L199.2 351.9zM200.2 203.7L198.5 203.2L196.4 350.7L198.1 351.3zM199.2 203.2L197.5 202.7L195.4 350.1L197.1 350.7zM198.2 202.7L196.5 202.1L194.3 349.5L196.1 350.1zM197.2 202.1L195.5 201.6L193.3 348.9L195.0 349.5zM196.2 201.6L194.5 201.1L192.3 348.3L194.0 348.9zM194.2 200.5L192.5 200.0L190.2 347.1L191.9 347.7zM193.2 200.0L191.5 199.5L189.2 346.5L190.9 347.1zM192.2 199.5L190.5 198.9L188.2 345.9L189.9 346.5zM191.2 198.9L189.5 198.4L187.1 345.3L188.9 345.9zM190.2 198.4L188.5 197.9L186.1 344.7L187.8 345.3zM189.2 197.9L187.5 197.3L185.1 344.1L186.8 344.7zM183.1 194.7L181.4 194.1L178.9 340.5L180.6 341.1zM179.1 192.5L177.4 192.0L174.8 338.1L176.5 338.7zM151.0 311.6L149.3 311.0L149.0 323.0L150.7 323.6zM151.5 287.5L149.8 286.9L149.5 299.2L151.3 299.8zM153.1 215.3L151.4 214.7L150.9 239.1L152.6 239.6zM141.9 172.5L140.1 171.9L139.9 184.2L141.6 184.8zM132.7 251.4L131.0 250.5L130.6 262.8L132.4 263.7zM132.0 238.5L130.2 237.7L129.9 249.9L131.7 250.8zM131.6 213.7L129.8 212.8L129.5 225.0L131.3 226.0zM120.1 284.9L118.4 279.3L118.1 291.3L119.8 296.9z"/>
<path fill="#7bc27f" d="M178.1 192.0L176.4 191.5L173.7 337.4L175.5 338.1zM177.1 191.5L175.4 190.9L172.7 336.8L174.4 337.4zM173.1 189.3L171.3 188.8L168.6 334.4L170.3 335.0zM151.3 250.8L149.6 250.2L149.3 262.6L151.0 263.1zM151.8 226.8L150.1 226.2L149.9 238.5L151.6 239.1zM149.2 298.4L147.5 297.8L147.2 310.1L148.9 310.7zM150.3 250.2L148.6 249.7L148.3 262.0L150.0 262.6zM151.1 214.2L149.4 213.6L149.1 225.9L150.8 226.5zM148.5 285.7L146.7 285.2L146.5 297.5L148.2 298.1zM150.6 189.6L148.9 189.0L148.4 213.4L150.1 213.9zM147.8 224.5L146.1 224.0L145.8 236.3L147.5 236.8zM147.1 212.0L145.3 211.4L145.1 223.7L146.8 224.3zM145.8 223.4L144.0 222.8L143.8 235.1L145.5 235.7zM145.3 198.9L143.6 198.3L143.0 222.6L144.7 223.1zM140.1 244.4L138.4 243.8L138.1 256.1L139.8 256.7zM133.8 288.9L132.1 288.1L131.8 300.4L133.5 301.2zM136.5 181.1L134.8 180.3L134.5 192.6L136.2 193.3zM133.1 276.1L131.4 275.3L131.1 287.6L132.8 288.4zM135.8 168.3L134.1 167.5L133.8 179.8L135.5 180.6zM132.4 263.4L130.6 262.5L130.3 274.8L132.1 275.6zM126.3 294.5L124.6 293.4L124.3 305.4L126.0 306.5zM125.6 281.4L123.9 280.2L123.6 292.4L125.3 293.7zM123.1 215.6L121.4 213.2L121.1 225.4L122.8 227.8zM124.1 179.7L122.4 177.3L122.1 189.5L123.8 191.9z"/>
<path fill="#69bf92" d="M170.0 187.7L168.3 187.2L165.5 332.6L167.2 333.2zM166.0 185.6L164.3 185.0L161.4 330.2L163.1 330.8zM163.0 184.0L161.3 183.4L158.3 328.4L160.0 329.0zM155.4 301.9L153.6 301.3L153.1 325.4L154.9 326.0zM154.1 313.4L152.4 312.8L152.1 324.8L153.8 325.4zM154.9 277.2L153.1 276.6L152.6 301.0L154.3 301.6zM156.7 192.8L155.0 192.3L154.7 204.6L156.4 205.2zM153.3 300.7L151.6 300.1L151.3 312.5L153.1 313.1zM154.6 240.5L152.9 239.9L152.4 264.3L154.1 264.9zM155.9 180.2L154.2 179.7L153.4 216.1L155.2 216.7zM152.0 312.2L150.3 311.6L150.0 323.6L151.8 324.2zM153.9 227.9L152.2 227.3L151.6 251.7L153.3 252.3zM154.9 179.7L153.2 179.2L152.4 215.6L154.1 216.1zM151.6 238.8L149.9 238.2L149.6 250.5L151.3 251.1zM152.9 178.6L151.2 178.1L150.7 202.4L152.4 203.0zM150.8 226.2L149.1 225.6L148.8 238.0L150.6 238.5zM151.9 178.1L150.2 177.6L149.9 189.9L151.6 190.4zM150.1 213.6L148.4 213.1L148.1 225.4L149.8 225.9zM149.1 213.1L147.4 212.5L147.1 224.8L148.8 225.4zM148.3 200.5L146.6 200.0L146.4 212.3L148.1 212.8zM147.6 188.0L145.9 187.4L145.6 199.7L147.3 200.3zM143.7 222.3L142.0 221.7L141.7 234.0L143.4 234.6zM143.0 209.7L141.3 209.1L141.0 221.4L142.7 222.0zM142.3 197.1L140.6 196.5L140.3 208.8L142.0 209.4zM141.3 196.5L139.6 195.8L139.3 208.1L141.0 208.8zM137.6 303.7L135.9 303.0L135.6 315.0L137.3 315.7zM136.9 291.1L135.2 290.4L134.9 302.7L136.6 303.3zM138.8 170.5L137.1 169.8L136.8 182.1L138.5 182.8zM127.1 184.4L125.4 183.0L125.1 195.3L126.8 196.7zM124.7 155.7L123.0 153.4L122.7 165.6L124.4 168.0z"/>
<path fill="#4bbcbe" d="M169.0 187.2L167.3 186.6L164.5 332.0L166.2 332.6zM168.0 186.6L166.3 186.1L163.4 331.4L165.2 332.0zM167.0 186.1L165.3 185.6L162.4 330.8L164.1 331.4z"/>
<path fill="#54beb3" d="M151.3 299.5L149.5 298.9L149.3 311.3L151.0 311.9zM153.4 203.2L151.7 202.7L151.4 215.0L153.1 215.6z"/>
<path fill="#5bbfaa" d="M151.8 275.5L150.1 274.9L149.8 287.2L151.5 287.8zM152.6 239.3L150.9 238.8L150.6 251.1L152.3 251.7zM153.9 179.2L152.2 178.6L151.7 203.0L153.4 203.5zM129.1 186.8L127.4 185.6L127.1 197.9L128.8 199.1z"/>
<path fill="#86c476" d="M150.0 311.0L148.2 310.4L148.0 322.4L149.7 323.0zM150.6 238.2L148.8 237.7L148.6 250.0L150.3 250.5zM149.8 225.6L148.1 225.1L147.6 249.4L149.3 250.0zM147.7 273.1L146.0 272.6L145.7 284.9L147.4 285.5zM148.8 225.1L147.1 224.5L146.8 236.8L148.5 237.4zM149.6 189.0L147.9 188.5L147.4 212.8L149.1 213.4zM147.0 260.6L145.2 260.0L145.0 272.3L146.7 272.9zM148.1 212.5L146.4 212.0L146.1 224.3L147.8 224.8zM148.9 176.5L147.2 176.0L146.9 188.3L148.6 188.8zM147.3 200.0L145.6 199.4L145.3 211.7L147.1 212.3zM146.3 199.4L144.6 198.9L144.3 211.2L146.0 211.7zM145.6 186.9L143.9 186.3L143.6 198.6L145.3 199.2zM144.0 210.3L142.3 209.7L142.0 222.0L143.7 222.6zM144.9 174.3L143.2 173.7L142.6 198.0L144.3 198.6zM143.9 173.7L142.2 173.1L141.9 185.4L143.6 186.0zM141.1 245.1L139.4 244.4L139.1 256.7L140.8 257.3zM142.9 173.1L141.2 172.5L140.9 184.8L142.6 185.4zM140.7 220.5L139.0 219.8L138.7 232.1L140.4 232.7zM139.4 231.8L137.7 231.1L137.4 243.4L139.1 244.1zM139.0 207.2L137.2 206.5L136.4 242.7L138.1 243.4zM137.6 218.5L135.9 217.7L135.6 230.0L137.4 230.7zM138.2 194.5L136.5 193.8L136.2 206.1L137.9 206.8zM136.9 205.8L135.2 205.0L134.9 217.3L136.6 218.0zM137.5 181.8L135.8 181.1L135.5 193.3L137.2 194.1zM136.2 193.0L134.5 192.3L134.2 204.6L135.9 205.3zM133.3 227.4L131.6 226.6L131.3 238.8L133.0 239.7zM132.6 214.6L130.9 213.7L130.6 226.0L132.3 226.9zM129.8 162.8L128.1 161.7L127.8 174.0L129.5 175.1zM124.1 217.4L122.4 215.6L121.8 239.8L123.5 241.6zM123.8 191.6L122.1 189.2L121.7 201.5L123.4 203.9zM122.4 201.2L120.7 195.7L120.4 207.9L122.1 213.5zM123.4 165.3L121.7 159.8L121.4 172.1L123.1 177.6z"/>
<path fill="#a2cd60" d="M148.9 310.4L147.2 309.8L146.9 321.8L148.7 322.4zM147.2 297.2L145.4 296.6L145.2 308.9L146.9 309.5zM145.9 260.0L144.2 259.4L143.9 271.7L145.7 272.3zM145.2 247.4L143.5 246.8L143.2 259.1L144.9 259.7zM141.3 281.6L139.6 281.0L139.3 293.3L141.0 293.9zM140.0 293.0L138.2 292.4L138.0 304.7L139.7 305.3zM140.6 269.0L138.8 268.4L138.5 280.7L140.3 281.3zM141.4 233.1L139.7 232.4L139.4 244.7L141.1 245.4zM139.1 243.8L137.4 243.1L137.1 255.4L138.8 256.1zM139.7 219.8L138.0 219.1L137.7 231.4L139.4 232.1zM140.8 171.9L139.1 171.2L138.8 183.5L140.6 184.2zM138.5 182.5L136.8 181.8L136.5 194.1L138.2 194.8zM137.8 169.8L136.1 169.1L135.8 181.4L137.5 182.1zM134.1 276.9L132.4 276.1L132.1 288.4L133.8 289.2zM135.0 241.0L133.3 240.2L133.0 252.5L134.7 253.3zM135.9 205.0L134.2 204.3L133.9 216.5L135.6 217.3zM133.4 264.2L131.7 263.4L131.4 275.6L133.1 276.4zM135.5 180.3L133.8 179.5L133.2 203.8L134.9 204.6zM133.0 239.4L131.3 238.5L131.0 250.8L132.7 251.7zM134.5 179.5L132.8 178.7L132.5 190.9L134.2 191.8zM132.3 226.6L130.6 225.7L130.2 238.0L132.0 238.8zM133.8 166.7L132.1 165.8L131.8 178.1L133.5 179.0zM131.3 225.7L129.5 224.7L129.2 237.0L130.9 238.0zM131.9 201.7L130.2 200.8L129.8 213.1L131.6 214.0zM128.9 235.7L127.2 234.7L126.9 246.9L128.6 248.0zM130.5 175.9L128.8 174.8L128.4 187.1L130.2 188.1zM126.6 282.6L124.9 281.4L124.6 293.7L126.3 294.8zM125.9 269.4L124.2 268.2L123.9 280.5L125.6 281.7zM126.6 245.5L124.8 244.3L124.5 256.5L126.2 257.8zM125.2 256.2L123.5 254.9L123.2 267.1L124.9 268.5zM126.5 208.4L124.8 207.0L124.5 219.2L126.2 220.6zM127.4 172.4L125.7 171.1L125.4 183.3L127.1 184.7zM124.5 242.9L122.8 241.3L122.5 253.6L124.2 255.2zM125.8 195.0L124.1 193.5L123.8 205.7L125.5 207.3zM125.1 181.5L123.4 179.7L123.1 191.9L124.8 193.8zM122.8 227.5L121.1 225.1L120.8 237.4L122.5 239.8z"/>
<path fill="#91c76c" d="M147.9 309.8L146.2 309.2L145.9 321.2L147.6 321.8zM146.7 272.6L145.0 272.0L144.7 284.3L146.4 284.9zM148.6 188.5L146.9 188.0L146.6 200.3L148.3 200.8zM144.8 308.0L143.1 307.4L142.8 319.4L144.5 320.0zM147.9 176.0L146.2 175.4L145.9 187.7L147.6 188.3zM144.1 295.4L142.4 294.8L141.8 318.8L143.5 319.4zM146.9 175.4L145.2 174.9L144.9 187.2L146.6 187.7zM143.1 294.8L141.3 294.2L140.8 318.2L142.5 318.8zM142.3 282.2L140.6 281.6L140.0 305.9L141.7 306.5zM140.7 305.6L139.0 305.0L138.7 317.0L140.4 317.6zM141.6 269.6L139.9 269.0L139.6 281.3L141.3 281.9zM143.3 197.7L141.6 197.1L141.3 209.4L143.0 210.0zM142.6 185.1L140.9 184.5L140.6 196.8L142.3 197.4zM139.8 256.4L138.1 255.8L137.8 268.1L139.5 268.7zM140.4 232.4L138.7 231.8L138.4 244.1L140.1 244.7zM141.6 184.5L139.9 183.9L139.6 196.1L141.3 196.8zM140.0 207.8L138.3 207.2L138.0 219.4L139.7 220.1zM137.9 206.5L136.2 205.8L135.9 218.0L137.6 218.8zM134.5 301.6L132.8 300.9L132.5 312.9L134.2 313.6zM137.2 193.8L135.5 193.0L135.2 205.3L136.9 206.1zM136.8 169.1L135.1 168.3L134.8 180.6L136.5 181.4zM134.8 167.5L133.1 166.7L132.8 179.0L134.5 179.8zM131.3 262.5L129.6 261.6L129.3 273.9L131.0 274.8zM130.6 249.6L128.9 248.7L128.6 261.0L130.3 261.9zM129.9 236.7L128.2 235.7L127.9 248.0L129.6 249.0zM130.5 212.8L128.8 211.8L128.5 224.1L130.2 225.0zM131.2 188.8L129.5 187.8L129.1 200.1L130.9 201.1zM129.8 199.8L128.1 198.8L127.8 211.0L129.5 212.1zM128.2 222.7L126.5 221.6L126.2 233.8L127.9 235.0zM128.8 198.8L127.1 197.6L126.8 209.9L128.5 211.0zM125.3 293.4L123.6 292.1L123.2 304.1L125.0 305.4zM126.2 257.5L124.5 256.2L124.2 268.5L125.9 269.7zM127.5 209.6L125.8 208.4L125.5 220.6L127.2 221.9zM128.1 185.6L126.4 184.4L126.1 196.7L127.8 197.9zM124.6 280.2L122.9 278.8L122.5 291.1L124.3 292.4zM125.5 244.3L123.8 242.9L123.5 255.2L125.2 256.5zM123.9 266.8L122.1 265.3L121.8 277.5L123.6 279.1zM124.8 230.9L123.1 229.4L122.8 241.6L124.5 243.2zM123.2 253.3L121.4 251.4L121.1 263.7L122.8 265.6zM123.4 203.6L121.7 201.2L121.4 213.5L123.1 215.9zM123.1 177.3L121.4 171.8L120.7 196.0L122.4 201.5z"/>
<path fill="#b2d254" d="M148.2 297.8L146.5 297.2L146.2 309.5L147.9 310.1zM147.4 285.2L145.7 284.6L145.4 296.9L147.2 297.5zM145.4 284.0L143.7 283.4L143.4 295.7L145.1 296.3zM144.6 271.4L142.9 270.8L142.6 283.1L144.4 283.7zM144.5 234.8L142.7 234.3L142.5 246.5L144.2 247.1zM143.2 246.2L141.4 245.7L140.9 269.9L142.6 270.5zM142.4 233.7L140.7 233.1L140.1 257.3L141.9 257.9zM140.3 281.0L138.5 280.4L138.2 292.7L140.0 293.3zM139.5 268.4L137.8 267.8L137.5 280.0L139.2 280.7zM141.0 208.5L139.3 207.8L139.0 220.1L140.7 220.8zM138.2 279.7L136.5 279.1L136.2 291.4L137.9 292.0zM137.5 267.1L135.8 266.4L135.5 278.7L137.2 279.4zM139.3 195.2L137.5 194.5L137.2 206.8L139.0 207.5zM135.7 253.7L134.0 253.0L133.7 265.2L135.4 266.0zM133.5 300.9L131.8 300.1L131.5 312.1L133.2 312.9zM132.8 288.1L131.1 287.3L130.8 299.6L132.5 300.4zM133.7 252.2L132.0 251.4L131.7 263.7L133.4 264.5zM132.1 275.3L130.3 274.5L130.0 286.8L131.8 287.6zM131.7 250.5L129.9 249.6L129.6 261.9L131.3 262.8zM133.5 178.7L131.8 177.8L131.5 190.0L133.2 190.9zM130.9 237.7L129.2 236.7L128.9 249.0L130.6 249.9zM132.8 165.8L131.1 164.9L130.8 177.1L132.5 178.1zM130.2 224.7L128.5 223.8L128.2 236.0L129.9 237.0zM127.3 295.6L125.6 294.5L125.3 306.5L127.0 307.6zM128.0 271.7L126.2 270.6L125.9 282.9L127.7 283.9zM130.8 163.9L129.1 162.8L128.8 175.1L130.5 176.2zM127.3 258.6L125.5 257.5L124.9 281.7L126.6 282.9zM128.5 210.7L126.8 209.6L126.5 221.9L128.2 223.0zM126.9 233.5L125.2 232.3L124.8 244.6L126.6 245.8zM127.8 197.6L126.1 196.4L125.8 208.7L127.5 209.9zM124.9 268.2L123.2 266.8L122.9 279.1L124.6 280.5zM124.2 254.9L122.5 253.3L122.1 265.6L123.9 267.1zM125.5 207.0L123.8 205.4L123.1 229.7L124.8 231.2zM122.8 265.3L121.1 263.4L120.8 275.7L122.5 277.5zM123.5 241.3L121.8 239.5L121.4 251.7L123.2 253.6zM124.8 193.5L123.1 191.6L122.4 215.9L124.1 217.7zM125.7 157.6L124.0 155.7L123.7 168.0L125.4 169.8zM122.1 251.4L120.4 249.0L120.1 261.3L121.8 263.7zM124.4 167.7L122.7 165.3L122.4 177.6L124.1 180.0zM121.5 237.1L119.7 231.5L119.4 243.8L121.1 249.3zM122.1 213.2L120.4 207.6L120.1 219.9L121.8 225.4z"/>
<path fill="#d8dc3c" d="M146.9 309.2L145.2 308.6L144.9 320.6L146.6 321.2zM146.4 284.6L144.7 284.0L143.8 320.0L145.6 320.6zM143.3 282.8L141.6 282.2L141.3 294.5L143.1 295.1zM140.8 257.0L139.1 256.4L138.8 268.7L140.6 269.3zM135.4 265.7L133.7 264.9L133.4 277.2L135.1 278.0zM136.0 241.7L134.3 241.0L134.0 253.3L135.7 254.0zM134.7 253.0L133.0 252.2L132.7 264.5L134.4 265.2zM135.6 217.0L133.9 216.2L133.6 228.5L135.3 229.3zM134.9 204.3L133.2 203.5L132.9 215.7L134.6 216.5zM131.8 287.3L130.0 286.5L129.7 298.7L131.5 299.6zM134.2 191.5L132.5 190.6L132.2 202.9L133.9 203.8zM131.0 274.5L129.3 273.6L129.0 285.9L130.7 286.8zM133.2 190.6L131.5 189.7L130.9 214.0L132.6 214.9zM130.3 261.6L128.6 260.7L128.3 273.0L130.0 273.9zM132.5 177.8L130.8 176.8L130.5 189.1L132.2 190.0zM129.0 272.7L127.3 271.7L127.0 283.9L128.7 284.9zM129.6 248.7L127.9 247.7L127.6 260.0L129.3 261.0zM128.6 247.7L126.9 246.6L126.6 258.9L128.3 260.0zM126.8 196.4L125.1 195.0L124.8 207.3L126.5 208.7zM126.1 183.0L124.4 181.5L124.1 193.8L125.8 195.3zM125.4 169.5L123.7 167.7L123.4 180.0L125.1 181.8zM122.5 239.5L120.8 237.1L120.4 249.3L122.1 251.7zM121.8 225.1L120.1 219.6L119.7 231.8L121.5 237.4z"/>
<path fill="#ebdf2c" d="M145.1 296.0L143.4 295.4L143.1 307.7L144.8 308.3zM145.7 272.0L143.9 271.4L143.7 283.7L145.4 284.3zM144.4 283.4L142.6 282.8L142.4 295.1L144.1 295.7zM144.9 259.4L143.2 258.8L142.9 271.1L144.6 271.7zM143.6 270.8L141.9 270.2L141.6 282.5L143.3 283.1zM142.6 270.2L140.9 269.6L140.6 281.9L142.3 282.5zM141.9 257.6L140.1 257.0L139.9 269.3L141.6 269.9zM137.8 255.1L136.1 254.4L135.8 266.7L137.5 267.4zM136.2 278.4L134.4 277.7L134.1 289.9L135.9 290.7zM137.1 242.4L135.3 241.7L135.0 254.0L136.8 254.7zM136.3 229.7L134.6 229.0L134.3 241.3L136.0 242.0zM135.3 229.0L133.6 228.2L133.3 240.5L135.0 241.3zM134.6 216.2L132.9 215.4L132.6 227.7L134.3 228.5zM133.9 203.5L132.2 202.6L131.9 214.9L133.6 215.7zM130.4 298.4L128.7 297.5L128.4 309.5L130.1 310.4zM129.7 285.6L128.0 284.6L127.4 308.6L129.1 309.5zM129.3 260.7L127.6 259.7L127.3 272.0L129.0 273.0zM127.6 246.6L125.9 245.5L125.5 257.8L127.3 258.9zM124.3 292.1L122.5 290.8L122.2 302.7L123.9 304.1zM123.6 278.8L121.8 277.2L121.5 289.5L123.2 291.1zM121.8 263.4L120.1 261.0L119.8 273.3L121.5 275.7zM121.1 249.0L119.4 243.5L119.1 255.7L120.8 261.3z"/>
<path fill="#f6d822" d="M143.9 258.8L142.2 258.2L141.9 270.5L143.6 271.1zM141.7 306.2L140.0 305.6L139.7 317.6L141.5 318.2zM141.0 293.6L139.3 293.0L139.0 305.3L140.7 305.9zM139.7 305.0L138.0 304.4L137.7 316.4L139.4 317.0zM138.7 304.4L136.9 303.7L136.6 315.7L138.4 316.4zM137.9 291.7L136.2 291.1L135.9 303.3L137.6 304.0zM137.2 279.1L135.5 278.4L135.2 290.7L136.9 291.4zM131.5 299.3L129.7 298.4L129.4 310.4L131.2 311.3zM128.3 259.7L126.6 258.6L126.2 270.9L128.0 272.0z"/>
<path fill="#c5d748" d="M144.2 246.8L142.5 246.2L142.2 258.5L143.9 259.1zM143.4 234.3L141.7 233.7L141.4 246.0L143.2 246.5zM142.7 221.7L141.0 221.1L140.7 233.4L142.4 234.0zM142.0 209.1L140.3 208.5L139.7 232.7L141.4 233.4zM138.8 255.8L137.1 255.1L136.8 267.4L138.5 268.1zM140.3 195.8L138.6 195.2L138.3 207.5L140.0 208.1zM136.6 303.0L134.9 302.4L134.6 314.3L136.3 315.0zM138.1 243.1L136.4 242.4L136.1 254.7L137.8 255.4zM139.5 183.2L137.8 182.5L137.5 194.8L139.3 195.5zM135.9 290.4L134.1 289.6L133.8 301.9L135.6 302.7zM137.4 230.4L135.6 229.7L135.3 242.0L137.1 242.7zM136.6 217.7L134.9 217.0L134.6 229.3L136.3 230.0zM134.3 228.2L132.6 227.4L132.3 239.7L134.0 240.5zM133.6 215.4L131.9 214.6L131.6 226.9L133.3 227.7zM132.2 189.7L130.5 188.8L130.2 201.1L131.9 202.0zM128.7 284.6L127.0 283.6L126.3 307.6L128.1 308.6zM131.8 164.9L130.1 163.9L129.5 188.1L131.2 189.1zM127.7 283.6L125.9 282.6L125.6 294.8L127.3 295.9zM129.2 223.8L127.5 222.7L127.2 235.0L128.9 236.0zM127.9 234.7L126.2 233.5L125.9 245.8L127.6 246.9zM127.2 221.6L125.5 220.3L125.2 232.6L126.9 233.8zM126.2 220.3L124.5 218.9L123.8 243.2L125.5 244.6zM126.4 171.1L124.7 169.5L124.4 181.8L126.1 183.3zM123.7 153.4L122.0 147.9L121.7 160.1L123.4 165.6z"/>
<path fill="#f49d27" d="M139.2 280.4L137.5 279.7L137.2 292.0L138.9 292.7zM138.5 267.8L136.8 267.1L136.5 279.4L138.2 280.0z"/>
<path fill="#f0792d" d="M136.8 254.4L135.0 253.7L134.7 266.0L136.5 266.7zM121.5 275.4L119.8 273.0L119.4 285.2L121.2 287.6zM120.8 261.0L119.1 255.4L118.7 267.7L120.5 273.3z"/>
<path fill="#f8c81f" d="M132.5 300.1L130.8 299.3L130.5 311.3L132.2 312.1zM130.7 286.5L129.0 285.6L128.7 297.8L130.4 298.7zM130.0 273.6L128.3 272.7L128.0 284.9L129.7 285.9z"/>
<path fill="#ec592d" d="M123.2 290.8L121.5 289.2L121.2 301.1L122.9 302.7zM122.5 277.2L120.8 275.4L120.5 287.6L122.2 289.5z"/>
<path fill="#ee682e" d="M122.2 289.2L120.5 287.3L120.1 299.3L121.9 301.1z"/>
<path fill="#f18a2c" d="M121.2 287.3L119.4 284.9L119.1 296.9L120.8 299.3zM120.5 273.0L118.7 267.4L118.4 279.6L120.1 285.2z"/>
</g>
</g>
<g stroke-linecap="round">
<line x1="62.0" y1="368.9" x2="62.0" y2="116.9" stroke="#262626" stroke-width="1.3"/>
<line x1="272.8" y1="483.2" x2="62.0" y2="368.9" stroke="#262626" stroke-width="1.3"/>
<line x1="272.8" y1="483.2" x2="549.5" y2="395.2" stroke="#262626" stroke-width="1.3"/>
<line x1="306.0" y1="472.6" x2="310.6" y2="475.5" stroke="#262626" stroke-width="1.2"/>
<line x1="361.3" y1="455.0" x2="365.9" y2="457.9" stroke="#262626" stroke-width="1.2"/>
<line x1="416.7" y1="437.4" x2="421.3" y2="440.3" stroke="#262626" stroke-width="1.2"/>
<line x1="472.0" y1="419.8" x2="476.6" y2="422.7" stroke="#262626" stroke-width="1.2"/>
<line x1="527.4" y1="402.2" x2="532.0" y2="405.1" stroke="#262626" stroke-width="1.2"/>
<line x1="227.2" y1="458.5" x2="218.9" y2="460.9" stroke="#262626" stroke-width="1.2"/>
<line x1="172.2" y1="428.6" x2="163.9" y2="431.0" stroke="#262626" stroke-width="1.2"/>
<line x1="117.1" y1="398.8" x2="108.8" y2="401.2" stroke="#262626" stroke-width="1.2"/>
<line x1="62.0" y1="368.9" x2="53.7" y2="371.3" stroke="#262626" stroke-width="1.2"/>
<line x1="62.0" y1="368.9" x2="54.4" y2="365.3" stroke="#262626" stroke-width="1.2"/>
<line x1="62.0" y1="284.9" x2="54.4" y2="281.3" stroke="#262626" stroke-width="1.2"/>
<line x1="62.0" y1="200.9" x2="54.4" y2="197.3" stroke="#262626" stroke-width="1.2"/>
<line x1="62.0" y1="116.9" x2="54.4" y2="113.3" stroke="#262626" stroke-width="1.2"/>
</g>
<g fill="#3a3a3a" font-size="17.6" stroke="#3a3a3a" stroke-width="0.35">
<text x="49.3" y="371.3" text-anchor="end">15</text>
<text x="49.3" y="287.3" text-anchor="end">20</text>
<text x="49.3" y="203.3" text-anchor="end">25</text>
<text x="49.3" y="119.3" text-anchor="end">30</text>
<text x="213.6" y="482.3" text-anchor="end">50</text>
<text x="158.6" y="452.4" text-anchor="end" textLength="30.3">100</text>
<text x="104.7" y="422.6" text-anchor="end" textLength="30.3">150</text>
<text x="49.6" y="393.5" text-anchor="end" textLength="30.3">200</text>
<text x="318.4" y="498.2">50</text>
<text x="373.7" y="480.6" textLength="30.3">100</text>
<text x="429.1" y="463.0" textLength="30.3">150</text>
<text x="484.4" y="445.4" textLength="30.3">200</text>
<text x="539.8" y="427.8" textLength="30.3">250</text>
</g>
<g fill="#3a3a3a" font-size="20" stroke="#3a3a3a" stroke-width="0.25">
<text x="107.6" y="503.7" text-anchor="middle">Y-axis (mm)</text>
<text x="453.3" y="511.4" text-anchor="middle">X-axis (mm)</text>
<text transform="translate(16.9 243.3) rotate(-90)" text-anchor="middle">Z-axis (mm)</text>
</g>
<text x="305.1" y="20.0" text-anchor="middle" font-size="19.6" font-weight="bold" fill="#111">Contour error by theoretical method</text>
<defs><linearGradient id="cb" x1="0" y1="0" x2="0" y2="1">
<stop offset="0.000" stop-color="#790c12"/>
<stop offset="0.025" stop-color="#8b1116"/>
<stop offset="0.050" stop-color="#9d151a"/>
<stop offset="0.075" stop-color="#af1a1e"/>
<stop offset="0.100" stop-color="#ca1e22"/>
<stop offset="0.125" stop-color="#dd2425"/>
<stop offset="0.150" stop-color="#e52b28"/>
<stop offset="0.175" stop-color="#e8382b"/>
<stop offset="0.200" stop-color="#eb4a2d"/>
<stop offset="0.225" stop-color="#ed5f2e"/>
<stop offset="0.250" stop-color="#ef752d"/>
<stop offset="0.275" stop-color="#f28e2b"/>
<stop offset="0.300" stop-color="#f5a824"/>
<stop offset="0.325" stop-color="#f8c81f"/>
<stop offset="0.350" stop-color="#f4df24"/>
<stop offset="0.375" stop-color="#dbdc39"/>
<stop offset="0.400" stop-color="#c0d64b"/>
<stop offset="0.425" stop-color="#a7ce5c"/>
<stop offset="0.450" stop-color="#90c76d"/>
<stop offset="0.475" stop-color="#81c37a"/>
<stop offset="0.500" stop-color="#72c088"/>
<stop offset="0.525" stop-color="#66bf95"/>
<stop offset="0.550" stop-color="#61bf9e"/>
<stop offset="0.575" stop-color="#5dbfa6"/>
<stop offset="0.600" stop-color="#58beaf"/>
<stop offset="0.625" stop-color="#4bbcbd"/>
<stop offset="0.650" stop-color="#3bb8cf"/>
<stop offset="0.675" stop-color="#26b1e1"/>
<stop offset="0.700" stop-color="#2b9cd8"/>
<stop offset="0.725" stop-color="#2c88ce"/>
<stop offset="0.750" stop-color="#2c76c4"/>
<stop offset="0.775" stop-color="#2b69bd"/>
<stop offset="0.800" stop-color="#2a5db7"/>
<stop offset="0.825" stop-color="#2858b3"/>
<stop offset="0.850" stop-color="#2752b0"/>
<stop offset="0.875" stop-color="#254eac"/>
<stop offset="0.900" stop-color="#244aa8"/>
<stop offset="0.925" stop-color="#2346a4"/>
<stop offset="0.950" stop-color="#2242a0"/>
<stop offset="0.975" stop-color="#263690"/>
<stop offset="1.000" stop-color="#2a2a80"/>
</linearGradient></defs>
<rect x="598.0" y="30.0" width="28.1" height="453.0" fill="url(#cb)" stroke="#262626" stroke-width="1.1"/>
<g fill="#3a3a3a" font-size="16" stroke="#3a3a3a" stroke-width="0.3">
<line x1="622.6" y1="64.9" x2="626.1" y2="64.9" stroke="#262626" stroke-width="1.1"/>
<text x="632.6" y="70.4">3</text>
<line x1="622.6" y1="105.0" x2="626.1" y2="105.0" stroke="#262626" stroke-width="1.1"/>
<text x="632.6" y="110.5">2.5</text>
<line x1="622.6" y1="145.0" x2="626.1" y2="145.0" stroke="#262626" stroke-width="1.1"/>
<text x="632.6" y="150.5">2</text>
<line x1="622.6" y1="185.1" x2="626.1" y2="185.1" stroke="#262626" stroke-width="1.1"/>
<text x="632.6" y="190.6">1.5</text>
<line x1="622.6" y1="225.2" x2="626.1" y2="225.2" stroke="#262626" stroke-width="1.1"/>
<text x="632.6" y="230.7">1</text>
<line x1="622.6" y1="265.2" x2="626.1" y2="265.2" stroke="#262626" stroke-width="1.1"/>
<text x="632.6" y="270.8">0.5</text>
<line x1="622.6" y1="305.3" x2="626.1" y2="305.3" stroke="#262626" stroke-width="1.1"/>
<text x="632.6" y="310.8">0</text>
<line x1="622.6" y1="345.4" x2="626.1" y2="345.4" stroke="#262626" stroke-width="1.1"/>
<text x="632.6" y="350.9">-0.5</text>
<line x1="622.6" y1="385.5" x2="626.1" y2="385.5" stroke="#262626" stroke-width="1.1"/>
<text x="632.6" y="391.0">-1</text>
<line x1="622.6" y1="425.5" x2="626.1" y2="425.5" stroke="#262626" stroke-width="1.1"/>
<text x="632.6" y="431.0">-1.5</text>
<line x1="622.6" y1="465.6" x2="626.1" y2="465.6" stroke="#262626" stroke-width="1.1"/>
<text x="632.6" y="471.1">-2</text>
</g>
<path d="M629 12.6L636.6 19.6M629 19.6L636.6 12.6" stroke="#6a6a6a" stroke-width="1.25"/>
<text x="639.6" y="19.7" font-size="16" fill="#3a3a3a">10</text>
<text x="659.0" y="11.4" font-size="11" fill="#3a3a3a">-3</text>
<text transform="translate(683.6 255.4) rotate(-90)" text-anchor="middle" font-size="15.8" font-weight="bold" fill="#222">mm</text>
</svg></body></html>
